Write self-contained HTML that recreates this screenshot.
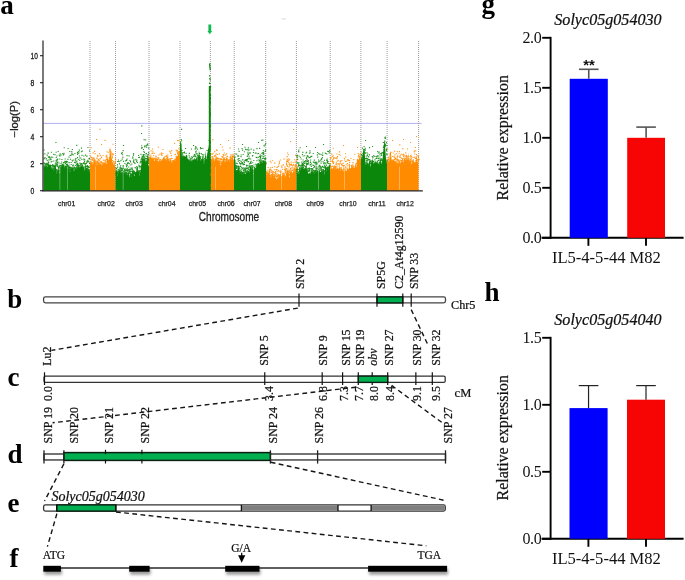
<!DOCTYPE html><html><head><meta charset="utf-8"><title>Figure</title><style>html,body{margin:0;padding:0;background:#fff;width:685px;height:580px;overflow:hidden;font-family:"Liberation Sans",sans-serif}svg{display:block;will-change:transform}.s{stroke:#111;stroke-width:0.22px}</style></head><body><svg width="685" height="580" viewBox="0 0 685 580">
<defs><filter id="sh" x="-20%" y="-50%" width="140%" height="300%"><feGaussianBlur in="SourceAlpha" stdDeviation="1.8"/><feOffset dx="0.8" dy="2.6" result="b"/><feComponentTransfer><feFuncA type="linear" slope="0.4"/></feComponentTransfer><feMerge><feMergeNode/><feMergeNode in="SourceGraphic"/></feMerge></filter></defs>
<rect width="685" height="580" fill="#fff"/>
<g>
<line x1="43" y1="123.4" x2="421.5" y2="123.4" stroke="#9a9af4" stroke-width="0.8"/>
<line x1="90" y1="41" x2="90" y2="190" stroke="#959595" stroke-width="0.95" stroke-dasharray="1,1"/>
<line x1="115.5" y1="41" x2="115.5" y2="190" stroke="#959595" stroke-width="0.95" stroke-dasharray="1,1"/>
<line x1="149" y1="41" x2="149" y2="190" stroke="#959595" stroke-width="0.95" stroke-dasharray="1,1"/>
<line x1="180" y1="41" x2="180" y2="190" stroke="#959595" stroke-width="0.95" stroke-dasharray="1,1"/>
<line x1="210.4" y1="41" x2="210.4" y2="190" stroke="#959595" stroke-width="0.95" stroke-dasharray="1,1"/>
<line x1="234.2" y1="41" x2="234.2" y2="190" stroke="#959595" stroke-width="0.95" stroke-dasharray="1,1"/>
<line x1="265.7" y1="41" x2="265.7" y2="190" stroke="#959595" stroke-width="0.95" stroke-dasharray="1,1"/>
<line x1="296.4" y1="41" x2="296.4" y2="190" stroke="#959595" stroke-width="0.95" stroke-dasharray="1,1"/>
<line x1="330.2" y1="41" x2="330.2" y2="190" stroke="#959595" stroke-width="0.95" stroke-dasharray="1,1"/>
<line x1="360.9" y1="41" x2="360.9" y2="190" stroke="#959595" stroke-width="0.95" stroke-dasharray="1,1"/>
<line x1="387.1" y1="41" x2="387.1" y2="190" stroke="#959595" stroke-width="0.95" stroke-dasharray="1,1"/>
<line x1="418.6" y1="41" x2="418.6" y2="190" stroke="#959595" stroke-width="0.95" stroke-dasharray="1,1"/>
<path d="M43.5,190.7L43.5,168.9L44.0,161.6L44.5,168.1L45.0,161.9L45.5,166.4L46.0,166.5L46.5,165.7L47.0,165.6L47.5,168.0L48.0,159.9L48.5,162.3L49.0,165.6L49.5,165.8L50.0,164.9L50.5,164.1L51.0,167.8L51.5,169.4L52.0,167.7L52.5,169.7L53.0,166.1L53.5,171.3L54.0,170.7L54.5,166.2L55.0,165.4L55.5,162.9L56.0,168.8L56.5,173.7L57.0,172.0L57.5,172.2L58.0,171.4L58.5,168.0L59.0,163.8L59.5,172.6L60.0,173.3L60.5,165.3L61.0,166.5L61.5,167.4L62.0,163.0L62.5,164.8L63.0,164.7L63.5,164.3L64.0,168.7L64.5,167.9L65.0,165.6L65.5,165.8L66.0,165.7L66.5,169.0L67.0,161.7L67.5,168.7L68.0,165.9L68.5,170.3L69.0,160.9L69.5,167.9L70.0,172.5L70.5,170.0L71.0,166.1L71.5,169.6L72.0,166.4L72.5,169.8L73.0,162.3L73.5,171.2L74.0,171.1L74.5,170.9L75.0,169.5L75.5,168.7L76.0,169.3L76.5,169.7L77.0,157.9L77.5,169.7L78.0,163.0L78.5,164.5L79.0,168.1L79.5,168.0L80.0,166.2L80.5,166.5L81.0,168.1L81.5,163.0L82.0,166.7L82.5,166.5L83.0,167.7L83.5,166.2L84.0,166.8L84.5,168.6L85.0,171.5L85.5,163.4L86.0,168.4L86.5,168.3L87.0,167.7L87.5,166.4L88.0,171.5L88.5,169.6L89.0,170.7L89.5,169.6L90.0,173.2L90.0,190.7Z" fill="#0b870b"/>
<path d="M43.4,166.3h1.1v1.1h-1.1zM43.6,149.4h1.1v1.1h-1.1zM43.3,168.5h1.1v1.1h-1.1zM43.7,168.6h1.1v1.1h-1.1zM43.3,158.4h1.1v1.1h-1.1zM43.8,157.6h1.1v1.1h-1.1zM43.4,162.3h1.1v1.1h-1.1zM44.0,168.4h1.1v1.1h-1.1zM44.3,163.1h1.1v1.1h-1.1zM44.3,153.3h1.1v1.1h-1.1zM44.5,157.2h1.1v1.1h-1.1zM44.2,167.8h1.1v1.1h-1.1zM45.1,166.9h1.1v1.1h-1.1zM45.3,167.9h1.1v1.1h-1.1zM45.1,166.2h1.1v1.1h-1.1zM45.3,163.7h1.1v1.1h-1.1zM45.4,165.6h1.1v1.1h-1.1zM45.1,164.7h1.1v1.1h-1.1zM45.9,168.1h1.1v1.1h-1.1zM45.6,166.9h1.1v1.1h-1.1zM45.7,158.1h1.1v1.1h-1.1zM46.0,164.2h1.1v1.1h-1.1zM45.8,163.1h1.1v1.1h-1.1zM45.9,163.6h1.1v1.1h-1.1zM45.7,158.5h1.1v1.1h-1.1zM46.7,159.8h1.1v1.1h-1.1zM46.9,163.4h1.1v1.1h-1.1zM46.7,154.6h1.1v1.1h-1.1zM46.7,162.7h1.1v1.1h-1.1zM46.8,164.0h1.1v1.1h-1.1zM46.7,164.6h1.1v1.1h-1.1zM47.6,152.6h1.1v1.1h-1.1zM47.8,156.6h1.1v1.1h-1.1zM47.5,166.2h1.1v1.1h-1.1zM47.7,152.5h1.1v1.1h-1.1zM47.3,167.0h1.1v1.1h-1.1zM47.2,164.6h1.1v1.1h-1.1zM48.5,159.3h1.1v1.1h-1.1zM48.4,166.9h1.1v1.1h-1.1zM48.1,161.8h1.1v1.1h-1.1zM48.6,155.9h1.1v1.1h-1.1zM48.6,166.4h1.1v1.1h-1.1zM48.3,165.0h1.1v1.1h-1.1zM48.9,157.1h1.1v1.1h-1.1zM49.1,164.5h1.1v1.1h-1.1zM48.9,165.4h1.1v1.1h-1.1zM49.2,165.6h1.1v1.1h-1.1zM49.1,167.9h1.1v1.1h-1.1zM48.8,164.4h1.1v1.1h-1.1zM49.2,165.5h1.1v1.1h-1.1zM50.2,159.2h1.1v1.1h-1.1zM49.8,167.7h1.1v1.1h-1.1zM50.1,168.1h1.1v1.1h-1.1zM49.7,166.5h1.1v1.1h-1.1zM50.1,165.1h1.1v1.1h-1.1zM49.8,158.3h1.1v1.1h-1.1zM50.2,167.4h1.1v1.1h-1.1zM50.5,161.4h1.1v1.1h-1.1zM50.8,168.4h1.1v1.1h-1.1zM50.4,165.4h1.1v1.1h-1.1zM50.8,151.7h1.1v1.1h-1.1zM50.5,158.8h1.1v1.1h-1.1zM50.4,156.9h1.1v1.1h-1.1zM50.7,156.6h1.1v1.1h-1.1zM51.3,167.5h1.1v1.1h-1.1zM51.3,164.9h1.1v1.1h-1.1zM51.3,168.7h1.1v1.1h-1.1zM51.3,169.0h1.1v1.1h-1.1zM51.4,167.1h1.1v1.1h-1.1zM51.4,161.0h1.1v1.1h-1.1zM51.3,165.3h1.1v1.1h-1.1zM52.2,169.8h1.1v1.1h-1.1zM52.4,169.8h1.1v1.1h-1.1zM52.1,164.0h1.1v1.1h-1.1zM52.6,165.2h1.1v1.1h-1.1zM52.5,169.1h1.1v1.1h-1.1zM52.3,165.8h1.1v1.1h-1.1zM52.2,156.7h1.1v1.1h-1.1zM52.4,164.7h1.1v1.1h-1.1zM53.2,160.5h1.1v1.1h-1.1zM53.0,166.3h1.1v1.1h-1.1zM52.9,170.0h1.1v1.1h-1.1zM53.2,169.9h1.1v1.1h-1.1zM52.9,168.1h1.1v1.1h-1.1zM53.3,169.8h1.1v1.1h-1.1zM53.2,153.8h1.1v1.1h-1.1zM52.9,167.8h1.1v1.1h-1.1zM53.1,167.7h1.1v1.1h-1.1zM53.8,166.4h1.1v1.1h-1.1zM53.7,164.8h1.1v1.1h-1.1zM53.8,168.1h1.1v1.1h-1.1zM53.8,171.0h1.1v1.1h-1.1zM53.9,165.9h1.1v1.1h-1.1zM54.5,168.9h1.1v1.1h-1.1zM54.4,167.3h1.1v1.1h-1.1zM54.6,171.2h1.1v1.1h-1.1zM54.8,169.3h1.1v1.1h-1.1zM54.9,165.3h1.1v1.1h-1.1zM54.8,162.7h1.1v1.1h-1.1zM54.6,154.2h1.1v1.1h-1.1zM55.0,168.2h1.1v1.1h-1.1zM55.6,160.1h1.1v1.1h-1.1zM55.7,171.3h1.1v1.1h-1.1zM55.6,151.7h1.1v1.1h-1.1zM55.7,159.8h1.1v1.1h-1.1zM55.5,170.3h1.1v1.1h-1.1zM55.7,165.4h1.1v1.1h-1.1zM55.7,157.0h1.1v1.1h-1.1zM55.7,163.8h1.1v1.1h-1.1zM55.6,161.4h1.1v1.1h-1.1zM55.2,169.3h1.1v1.1h-1.1zM56.3,155.5h1.1v1.1h-1.1zM56.4,162.9h1.1v1.1h-1.1zM56.3,161.5h1.1v1.1h-1.1zM56.5,171.8h1.1v1.1h-1.1zM56.3,159.3h1.1v1.1h-1.1zM56.4,164.9h1.1v1.1h-1.1zM56.4,171.2h1.1v1.1h-1.1zM56.0,169.2h1.1v1.1h-1.1zM56.4,169.0h1.1v1.1h-1.1zM56.4,169.7h1.1v1.1h-1.1zM57.0,165.6h1.1v1.1h-1.1zM57.2,165.8h1.1v1.1h-1.1zM57.2,158.5h1.1v1.1h-1.1zM56.8,162.4h1.1v1.1h-1.1zM57.0,170.3h1.1v1.1h-1.1zM57.0,159.4h1.1v1.1h-1.1zM56.8,164.1h1.1v1.1h-1.1zM57.0,171.2h1.1v1.1h-1.1zM57.2,161.6h1.1v1.1h-1.1zM57.0,161.5h1.1v1.1h-1.1zM58.1,170.6h1.1v1.1h-1.1zM58.2,169.8h1.1v1.1h-1.1zM57.6,151.0h1.1v1.1h-1.1zM58.1,166.9h1.1v1.1h-1.1zM57.8,167.1h1.1v1.1h-1.1zM58.2,169.7h1.1v1.1h-1.1zM57.9,169.7h1.1v1.1h-1.1zM59.0,165.8h1.1v1.1h-1.1zM58.9,170.1h1.1v1.1h-1.1zM58.9,166.0h1.1v1.1h-1.1zM58.5,162.4h1.1v1.1h-1.1zM58.7,154.7h1.1v1.1h-1.1zM58.4,170.9h1.1v1.1h-1.1zM58.7,166.2h1.1v1.1h-1.1zM58.5,168.5h1.1v1.1h-1.1zM59.7,170.6h1.1v1.1h-1.1zM59.3,158.5h1.1v1.1h-1.1zM59.6,153.3h1.1v1.1h-1.1zM59.4,155.3h1.1v1.1h-1.1zM59.4,167.5h1.1v1.1h-1.1zM59.4,164.7h1.1v1.1h-1.1zM59.4,166.9h1.1v1.1h-1.1zM60.5,169.3h1.1v1.1h-1.1zM60.6,167.6h1.1v1.1h-1.1zM60.2,168.0h1.1v1.1h-1.1zM60.1,164.9h1.1v1.1h-1.1zM60.6,166.7h1.1v1.1h-1.1zM60.5,154.5h1.1v1.1h-1.1zM60.5,162.9h1.1v1.1h-1.1zM61.2,169.1h1.1v1.1h-1.1zM61.3,164.8h1.1v1.1h-1.1zM61.0,161.4h1.1v1.1h-1.1zM61.4,169.1h1.1v1.1h-1.1zM61.1,168.4h1.1v1.1h-1.1zM61.0,166.2h1.1v1.1h-1.1zM61.4,159.0h1.1v1.1h-1.1zM61.2,167.1h1.1v1.1h-1.1zM61.1,166.7h1.1v1.1h-1.1zM61.7,167.7h1.1v1.1h-1.1zM62.1,167.3h1.1v1.1h-1.1zM61.7,164.3h1.1v1.1h-1.1zM62.2,153.1h1.1v1.1h-1.1zM61.7,164.9h1.1v1.1h-1.1zM61.7,167.5h1.1v1.1h-1.1zM61.7,166.1h1.1v1.1h-1.1zM62.8,154.5h1.1v1.1h-1.1zM62.6,165.0h1.1v1.1h-1.1zM62.6,163.7h1.1v1.1h-1.1zM62.4,165.8h1.1v1.1h-1.1zM63.0,166.3h1.1v1.1h-1.1zM62.7,167.6h1.1v1.1h-1.1zM62.9,162.1h1.1v1.1h-1.1zM63.3,165.9h1.1v1.1h-1.1zM63.5,164.6h1.1v1.1h-1.1zM63.7,147.2h1.1v1.1h-1.1zM63.2,154.1h1.1v1.1h-1.1zM63.6,167.8h1.1v1.1h-1.1zM63.5,152.7h1.1v1.1h-1.1zM63.2,162.1h1.1v1.1h-1.1zM64.6,158.5h1.1v1.1h-1.1zM64.1,166.4h1.1v1.1h-1.1zM64.3,167.0h1.1v1.1h-1.1zM64.6,162.3h1.1v1.1h-1.1zM64.4,161.7h1.1v1.1h-1.1zM64.3,160.8h1.1v1.1h-1.1zM65.3,167.5h1.1v1.1h-1.1zM65.4,166.0h1.1v1.1h-1.1zM65.0,161.1h1.1v1.1h-1.1zM65.0,166.9h1.1v1.1h-1.1zM65.2,161.2h1.1v1.1h-1.1zM64.8,167.0h1.1v1.1h-1.1zM65.1,163.0h1.1v1.1h-1.1zM65.8,167.8h1.1v1.1h-1.1zM66.2,164.3h1.1v1.1h-1.1zM66.1,161.9h1.1v1.1h-1.1zM65.7,164.1h1.1v1.1h-1.1zM66.2,166.2h1.1v1.1h-1.1zM65.8,160.8h1.1v1.1h-1.1zM66.8,163.8h1.1v1.1h-1.1zM66.6,164.7h1.1v1.1h-1.1zM67.0,161.2h1.1v1.1h-1.1zM66.4,166.5h1.1v1.1h-1.1zM66.7,165.5h1.1v1.1h-1.1zM66.5,160.9h1.1v1.1h-1.1zM67.8,167.0h1.1v1.1h-1.1zM67.7,166.0h1.1v1.1h-1.1zM67.3,166.8h1.1v1.1h-1.1zM67.4,158.8h1.1v1.1h-1.1zM67.5,147.9h1.1v1.1h-1.1zM67.3,167.1h1.1v1.1h-1.1zM67.6,164.9h1.1v1.1h-1.1zM68.2,168.2h1.1v1.1h-1.1zM68.6,167.8h1.1v1.1h-1.1zM68.0,168.2h1.1v1.1h-1.1zM68.2,168.7h1.1v1.1h-1.1zM68.5,156.6h1.1v1.1h-1.1zM68.6,161.9h1.1v1.1h-1.1zM69.2,151.0h1.1v1.1h-1.1zM69.2,169.4h1.1v1.1h-1.1zM69.0,166.4h1.1v1.1h-1.1zM68.9,166.9h1.1v1.1h-1.1zM69.0,169.6h1.1v1.1h-1.1zM69.4,166.7h1.1v1.1h-1.1zM69.4,168.7h1.1v1.1h-1.1zM70.1,167.3h1.1v1.1h-1.1zM69.9,158.7h1.1v1.1h-1.1zM69.9,169.9h1.1v1.1h-1.1zM70.2,167.1h1.1v1.1h-1.1zM69.8,168.8h1.1v1.1h-1.1zM69.6,155.0h1.1v1.1h-1.1zM70.1,166.7h1.1v1.1h-1.1zM71.0,170.3h1.1v1.1h-1.1zM70.8,168.7h1.1v1.1h-1.1zM70.6,154.6h1.1v1.1h-1.1zM71.0,168.5h1.1v1.1h-1.1zM70.6,164.0h1.1v1.1h-1.1zM70.6,161.9h1.1v1.1h-1.1zM70.4,168.5h1.1v1.1h-1.1zM71.6,153.6h1.1v1.1h-1.1zM71.2,150.9h1.1v1.1h-1.1zM71.5,169.4h1.1v1.1h-1.1zM71.8,149.0h1.1v1.1h-1.1zM71.4,167.8h1.1v1.1h-1.1zM71.5,167.3h1.1v1.1h-1.1zM71.3,152.6h1.1v1.1h-1.1zM71.6,159.7h1.1v1.1h-1.1zM72.2,168.4h1.1v1.1h-1.1zM72.5,168.0h1.1v1.1h-1.1zM72.1,170.9h1.1v1.1h-1.1zM72.1,160.4h1.1v1.1h-1.1zM72.0,171.0h1.1v1.1h-1.1zM72.2,165.1h1.1v1.1h-1.1zM72.6,154.3h1.1v1.1h-1.1zM72.1,169.1h1.1v1.1h-1.1zM73.2,167.2h1.1v1.1h-1.1zM72.9,167.9h1.1v1.1h-1.1zM73.2,168.2h1.1v1.1h-1.1zM73.2,164.4h1.1v1.1h-1.1zM73.2,159.4h1.1v1.1h-1.1zM73.3,170.9h1.1v1.1h-1.1zM73.1,169.5h1.1v1.1h-1.1zM73.7,170.1h1.1v1.1h-1.1zM74.1,170.8h1.1v1.1h-1.1zM73.8,166.6h1.1v1.1h-1.1zM74.2,168.7h1.1v1.1h-1.1zM73.7,167.5h1.1v1.1h-1.1zM74.0,161.8h1.1v1.1h-1.1zM74.7,170.8h1.1v1.1h-1.1zM74.9,158.6h1.1v1.1h-1.1zM74.4,152.9h1.1v1.1h-1.1zM74.5,169.0h1.1v1.1h-1.1zM75.0,170.0h1.1v1.1h-1.1zM75.0,165.0h1.1v1.1h-1.1zM74.9,168.1h1.1v1.1h-1.1zM74.6,167.1h1.1v1.1h-1.1zM75.0,160.2h1.1v1.1h-1.1zM75.4,169.3h1.1v1.1h-1.1zM75.3,170.0h1.1v1.1h-1.1zM75.6,168.9h1.1v1.1h-1.1zM75.3,162.5h1.1v1.1h-1.1zM75.4,171.2h1.1v1.1h-1.1zM75.3,161.8h1.1v1.1h-1.1zM75.3,168.2h1.1v1.1h-1.1zM75.5,158.0h1.1v1.1h-1.1zM75.3,170.8h1.1v1.1h-1.1zM76.4,164.1h1.1v1.1h-1.1zM76.1,170.1h1.1v1.1h-1.1zM76.2,160.7h1.1v1.1h-1.1zM76.2,168.0h1.1v1.1h-1.1zM76.2,144.8h1.1v1.1h-1.1zM76.2,163.8h1.1v1.1h-1.1zM76.5,166.3h1.1v1.1h-1.1zM76.1,167.0h1.1v1.1h-1.1zM77.1,152.5h1.1v1.1h-1.1zM77.0,157.1h1.1v1.1h-1.1zM77.1,153.8h1.1v1.1h-1.1zM76.8,169.0h1.1v1.1h-1.1zM77.2,164.2h1.1v1.1h-1.1zM76.9,151.8h1.1v1.1h-1.1zM77.0,162.9h1.1v1.1h-1.1zM76.9,164.9h1.1v1.1h-1.1zM78.2,164.9h1.1v1.1h-1.1zM77.9,169.0h1.1v1.1h-1.1zM78.2,159.0h1.1v1.1h-1.1zM77.7,168.3h1.1v1.1h-1.1zM78.2,150.9h1.1v1.1h-1.1zM77.6,165.4h1.1v1.1h-1.1zM77.8,152.6h1.1v1.1h-1.1zM78.9,167.9h1.1v1.1h-1.1zM78.6,167.3h1.1v1.1h-1.1zM78.9,155.4h1.1v1.1h-1.1zM78.5,167.7h1.1v1.1h-1.1zM78.7,165.4h1.1v1.1h-1.1zM78.5,165.6h1.1v1.1h-1.1zM78.8,167.1h1.1v1.1h-1.1zM78.4,152.4h1.1v1.1h-1.1zM79.2,160.0h1.1v1.1h-1.1zM79.3,157.5h1.1v1.1h-1.1zM79.5,163.1h1.1v1.1h-1.1zM79.4,162.6h1.1v1.1h-1.1zM79.5,165.3h1.1v1.1h-1.1zM79.6,165.3h1.1v1.1h-1.1zM79.5,165.0h1.1v1.1h-1.1zM80.5,166.3h1.1v1.1h-1.1zM80.3,157.4h1.1v1.1h-1.1zM80.3,166.8h1.1v1.1h-1.1zM80.1,167.4h1.1v1.1h-1.1zM80.1,164.2h1.1v1.1h-1.1zM80.3,164.0h1.1v1.1h-1.1zM80.4,167.9h1.1v1.1h-1.1zM80.4,167.6h1.1v1.1h-1.1zM80.8,163.1h1.1v1.1h-1.1zM81.0,163.2h1.1v1.1h-1.1zM80.9,147.6h1.1v1.1h-1.1zM81.4,154.8h1.1v1.1h-1.1zM81.3,159.0h1.1v1.1h-1.1zM81.4,166.5h1.1v1.1h-1.1zM81.4,163.3h1.1v1.1h-1.1zM80.9,151.2h1.1v1.1h-1.1zM82.1,164.8h1.1v1.1h-1.1zM82.1,166.6h1.1v1.1h-1.1zM82.1,165.6h1.1v1.1h-1.1zM81.9,166.7h1.1v1.1h-1.1zM81.7,150.6h1.1v1.1h-1.1zM81.9,165.7h1.1v1.1h-1.1zM81.6,165.1h1.1v1.1h-1.1zM83.0,167.0h1.1v1.1h-1.1zM82.9,162.7h1.1v1.1h-1.1zM82.9,167.0h1.1v1.1h-1.1zM82.7,167.2h1.1v1.1h-1.1zM82.6,163.2h1.1v1.1h-1.1zM83.3,155.4h1.1v1.1h-1.1zM83.4,162.1h1.1v1.1h-1.1zM83.4,158.6h1.1v1.1h-1.1zM83.4,162.9h1.1v1.1h-1.1zM83.5,159.5h1.1v1.1h-1.1zM84.0,161.1h1.1v1.1h-1.1zM84.2,159.3h1.1v1.1h-1.1zM84.6,162.9h1.1v1.1h-1.1zM84.4,163.7h1.1v1.1h-1.1zM84.0,166.4h1.1v1.1h-1.1zM85.1,165.2h1.1v1.1h-1.1zM84.9,154.6h1.1v1.1h-1.1zM85.2,167.2h1.1v1.1h-1.1zM84.8,168.7h1.1v1.1h-1.1zM84.9,166.0h1.1v1.1h-1.1zM84.9,166.0h1.1v1.1h-1.1zM85.2,163.3h1.1v1.1h-1.1zM85.9,162.8h1.1v1.1h-1.1zM86.2,168.4h1.1v1.1h-1.1zM85.7,167.5h1.1v1.1h-1.1zM86.0,168.7h1.1v1.1h-1.1zM86.1,155.7h1.1v1.1h-1.1zM85.8,165.9h1.1v1.1h-1.1zM86.0,169.3h1.1v1.1h-1.1zM87.0,166.3h1.1v1.1h-1.1zM86.5,161.8h1.1v1.1h-1.1zM86.4,155.6h1.1v1.1h-1.1zM86.6,165.3h1.1v1.1h-1.1zM86.4,168.3h1.1v1.1h-1.1zM86.4,160.7h1.1v1.1h-1.1zM87.0,165.0h1.1v1.1h-1.1zM87.6,169.1h1.1v1.1h-1.1zM87.6,166.0h1.1v1.1h-1.1zM87.3,159.8h1.1v1.1h-1.1zM87.4,168.2h1.1v1.1h-1.1zM87.7,170.2h1.1v1.1h-1.1zM87.6,160.8h1.1v1.1h-1.1zM87.7,170.5h1.1v1.1h-1.1zM88.1,166.9h1.1v1.1h-1.1zM88.1,170.3h1.1v1.1h-1.1zM88.2,170.8h1.1v1.1h-1.1zM88.4,161.5h1.1v1.1h-1.1zM88.4,158.2h1.1v1.1h-1.1zM88.3,168.9h1.1v1.1h-1.1zM88.5,167.1h1.1v1.1h-1.1zM88.2,165.9h1.1v1.1h-1.1zM88.9,150.4h1.1v1.1h-1.1zM88.8,158.1h1.1v1.1h-1.1zM88.9,169.5h1.1v1.1h-1.1zM89.4,162.9h1.1v1.1h-1.1zM89.0,162.8h1.1v1.1h-1.1zM89.0,158.1h1.1v1.1h-1.1zM89.3,169.7h1.1v1.1h-1.1zM90.1,167.9h1.1v1.1h-1.1zM90.1,164.5h1.1v1.1h-1.1zM90.0,168.3h1.1v1.1h-1.1zM89.8,166.6h1.1v1.1h-1.1zM90.0,170.3h1.1v1.1h-1.1zM90.1,171.2h1.1v1.1h-1.1zM55.4,142.0h1.1v1.1h-1.1zM78.8,149.6h1.1v1.1h-1.1zM87.4,147.0h1.1v1.1h-1.1z" fill="#0b870b" opacity="0.9"/>
<path d="M90.0,190.7L90.0,163.5L90.5,161.2L91.0,159.0L91.5,161.8L92.0,163.7L92.5,164.4L93.0,165.0L93.5,163.0L94.0,159.9L94.5,156.9L95.0,163.6L95.5,162.5L96.0,167.0L96.5,162.1L97.0,165.4L97.5,163.9L98.0,158.8L98.5,164.9L99.0,161.6L99.5,162.4L100.0,164.8L100.5,162.6L101.0,164.0L101.5,165.9L102.0,162.1L102.5,163.9L103.0,165.0L103.5,163.2L104.0,164.4L104.5,162.3L105.0,164.3L105.5,163.5L106.0,162.4L106.5,164.4L107.0,159.5L107.5,157.4L108.0,156.7L108.5,160.8L109.0,160.5L109.5,156.9L110.0,145.5L110.5,152.4L111.0,154.3L111.5,158.0L112.0,158.5L112.5,162.7L113.0,161.7L113.5,164.3L114.0,165.2L114.5,162.8L115.0,166.5L115.5,167.2L115.5,190.7Z" fill="#ff8c00"/>
<path d="M90.2,162.3h1.1v1.1h-1.1zM89.8,164.2h1.1v1.1h-1.1zM90.1,163.8h1.1v1.1h-1.1zM89.8,155.6h1.1v1.1h-1.1zM89.8,164.8h1.1v1.1h-1.1zM90.0,163.6h1.1v1.1h-1.1zM90.6,158.4h1.1v1.1h-1.1zM90.6,147.2h1.1v1.1h-1.1zM91.1,163.0h1.1v1.1h-1.1zM90.9,156.8h1.1v1.1h-1.1zM90.6,162.5h1.1v1.1h-1.1zM91.4,165.0h1.1v1.1h-1.1zM91.3,162.8h1.1v1.1h-1.1zM91.8,162.7h1.1v1.1h-1.1zM91.6,158.6h1.1v1.1h-1.1zM91.6,159.7h1.1v1.1h-1.1zM91.7,164.8h1.1v1.1h-1.1zM91.7,162.6h1.1v1.1h-1.1zM92.4,157.0h1.1v1.1h-1.1zM92.5,164.1h1.1v1.1h-1.1zM92.6,152.3h1.1v1.1h-1.1zM92.6,158.1h1.1v1.1h-1.1zM92.5,158.5h1.1v1.1h-1.1zM92.3,161.9h1.1v1.1h-1.1zM92.2,159.5h1.1v1.1h-1.1zM93.3,157.7h1.1v1.1h-1.1zM93.1,160.5h1.1v1.1h-1.1zM93.2,162.8h1.1v1.1h-1.1zM93.1,160.6h1.1v1.1h-1.1zM93.5,159.8h1.1v1.1h-1.1zM93.3,164.7h1.1v1.1h-1.1zM94.0,165.5h1.1v1.1h-1.1zM94.2,164.8h1.1v1.1h-1.1zM94.0,150.8h1.1v1.1h-1.1zM94.0,165.2h1.1v1.1h-1.1zM94.1,161.6h1.1v1.1h-1.1zM95.0,161.4h1.1v1.1h-1.1zM94.7,162.6h1.1v1.1h-1.1zM94.6,153.1h1.1v1.1h-1.1zM94.7,160.8h1.1v1.1h-1.1zM94.6,159.6h1.1v1.1h-1.1zM95.5,164.0h1.1v1.1h-1.1zM95.6,165.7h1.1v1.1h-1.1zM95.7,162.8h1.1v1.1h-1.1zM95.5,163.4h1.1v1.1h-1.1zM95.7,164.4h1.1v1.1h-1.1zM96.2,161.9h1.1v1.1h-1.1zM96.3,157.5h1.1v1.1h-1.1zM96.2,164.5h1.1v1.1h-1.1zM96.6,158.1h1.1v1.1h-1.1zM96.4,160.6h1.1v1.1h-1.1zM96.2,161.5h1.1v1.1h-1.1zM97.4,155.8h1.1v1.1h-1.1zM97.1,162.1h1.1v1.1h-1.1zM97.0,161.1h1.1v1.1h-1.1zM97.1,155.3h1.1v1.1h-1.1zM97.1,154.7h1.1v1.1h-1.1zM97.1,163.0h1.1v1.1h-1.1zM97.0,162.5h1.1v1.1h-1.1zM97.9,159.0h1.1v1.1h-1.1zM97.9,164.2h1.1v1.1h-1.1zM98.0,162.3h1.1v1.1h-1.1zM98.1,160.4h1.1v1.1h-1.1zM98.3,163.4h1.1v1.1h-1.1zM99.0,153.2h1.1v1.1h-1.1zM99.0,164.9h1.1v1.1h-1.1zM98.5,160.4h1.1v1.1h-1.1zM99.1,165.7h1.1v1.1h-1.1zM98.7,160.1h1.1v1.1h-1.1zM98.6,165.2h1.1v1.1h-1.1zM99.5,158.4h1.1v1.1h-1.1zM99.8,164.9h1.1v1.1h-1.1zM99.4,158.0h1.1v1.1h-1.1zM99.7,154.8h1.1v1.1h-1.1zM99.7,158.3h1.1v1.1h-1.1zM100.5,164.4h1.1v1.1h-1.1zM100.5,161.1h1.1v1.1h-1.1zM100.6,162.2h1.1v1.1h-1.1zM100.3,160.8h1.1v1.1h-1.1zM100.2,164.1h1.1v1.1h-1.1zM100.1,161.6h1.1v1.1h-1.1zM100.2,161.9h1.1v1.1h-1.1zM101.2,162.5h1.1v1.1h-1.1zM100.9,156.4h1.1v1.1h-1.1zM101.2,157.1h1.1v1.1h-1.1zM101.3,161.8h1.1v1.1h-1.1zM101.1,157.1h1.1v1.1h-1.1zM102.1,162.8h1.1v1.1h-1.1zM102.1,165.6h1.1v1.1h-1.1zM102.3,162.4h1.1v1.1h-1.1zM102.8,162.3h1.1v1.1h-1.1zM102.5,154.9h1.1v1.1h-1.1zM102.9,159.7h1.1v1.1h-1.1zM103.0,163.8h1.1v1.1h-1.1zM103.4,159.6h1.1v1.1h-1.1zM103.6,163.3h1.1v1.1h-1.1zM103.8,162.4h1.1v1.1h-1.1zM103.8,164.3h1.1v1.1h-1.1zM103.6,163.6h1.1v1.1h-1.1zM104.7,162.1h1.1v1.1h-1.1zM104.6,160.2h1.1v1.1h-1.1zM104.3,163.6h1.1v1.1h-1.1zM104.5,163.9h1.1v1.1h-1.1zM104.6,160.5h1.1v1.1h-1.1zM104.9,160.6h1.1v1.1h-1.1zM104.9,163.4h1.1v1.1h-1.1zM105.5,164.4h1.1v1.1h-1.1zM105.3,159.7h1.1v1.1h-1.1zM105.4,155.7h1.1v1.1h-1.1zM105.3,159.6h1.1v1.1h-1.1zM105.3,159.4h1.1v1.1h-1.1zM105.8,158.5h1.1v1.1h-1.1zM106.0,158.8h1.1v1.1h-1.1zM105.8,156.7h1.1v1.1h-1.1zM105.7,164.4h1.1v1.1h-1.1zM106.2,156.3h1.1v1.1h-1.1zM105.9,159.0h1.1v1.1h-1.1zM106.2,154.8h1.1v1.1h-1.1zM106.7,162.4h1.1v1.1h-1.1zM106.9,162.3h1.1v1.1h-1.1zM106.5,151.2h1.1v1.1h-1.1zM106.5,160.9h1.1v1.1h-1.1zM107.0,164.6h1.1v1.1h-1.1zM107.6,152.2h1.1v1.1h-1.1zM107.5,164.0h1.1v1.1h-1.1zM107.9,159.8h1.1v1.1h-1.1zM107.5,161.0h1.1v1.1h-1.1zM108.1,160.7h1.1v1.1h-1.1zM108.5,161.6h1.1v1.1h-1.1zM108.7,160.9h1.1v1.1h-1.1zM108.6,161.1h1.1v1.1h-1.1zM108.1,160.9h1.1v1.1h-1.1zM109.3,156.8h1.1v1.1h-1.1zM108.9,157.1h1.1v1.1h-1.1zM109.3,151.1h1.1v1.1h-1.1zM109.3,149.0h1.1v1.1h-1.1zM109.3,157.7h1.1v1.1h-1.1zM110.3,154.4h1.1v1.1h-1.1zM109.7,151.4h1.1v1.1h-1.1zM110.1,155.3h1.1v1.1h-1.1zM109.7,150.1h1.1v1.1h-1.1zM110.6,152.8h1.1v1.1h-1.1zM110.8,151.4h1.1v1.1h-1.1zM111.7,155.9h1.1v1.1h-1.1zM111.8,157.5h1.1v1.1h-1.1zM111.7,156.4h1.1v1.1h-1.1zM111.6,154.3h1.1v1.1h-1.1zM112.7,154.0h1.1v1.1h-1.1zM112.4,154.1h1.1v1.1h-1.1zM112.1,159.9h1.1v1.1h-1.1zM112.5,143.7h1.1v1.1h-1.1zM112.3,153.0h1.1v1.1h-1.1zM113.1,161.0h1.1v1.1h-1.1zM113.4,162.2h1.1v1.1h-1.1zM113.3,162.5h1.1v1.1h-1.1zM113.4,161.0h1.1v1.1h-1.1zM113.7,164.4h1.1v1.1h-1.1zM114.0,164.4h1.1v1.1h-1.1zM114.2,162.9h1.1v1.1h-1.1zM115.0,159.4h1.1v1.1h-1.1zM114.7,162.4h1.1v1.1h-1.1zM115.0,158.5h1.1v1.1h-1.1zM115.0,161.3h1.1v1.1h-1.1zM99.4,128.8h1.1v1.1h-1.1zM96.0,139.0h1.1v1.1h-1.1zM104.5,139.8h1.1v1.1h-1.1zM101.0,144.0h1.1v1.1h-1.1z" fill="#ff8c00" opacity="0.9"/>
<path d="M115.5,190.7L115.5,173.5L116.0,171.0L116.5,171.5L117.0,172.5L117.5,176.3L118.0,173.0L118.5,173.7L119.0,171.8L119.5,167.9L120.0,171.6L120.5,173.1L121.0,170.3L121.5,173.4L122.0,171.7L122.5,171.3L123.0,174.0L123.5,171.1L124.0,172.7L124.5,172.8L125.0,171.5L125.5,172.2L126.0,175.3L126.5,172.2L127.0,170.8L127.5,174.6L128.0,174.7L128.5,171.5L129.0,174.1L129.5,177.7L130.0,173.2L130.5,171.0L131.0,177.4L131.5,175.1L132.0,173.1L132.5,173.8L133.0,169.9L133.5,169.9L134.0,175.5L134.5,175.9L135.0,173.3L135.5,171.8L136.0,171.9L136.5,171.4L137.0,168.7L137.5,167.0L138.0,172.5L138.5,170.9L139.0,171.9L139.5,176.3L140.0,170.4L140.5,172.9L141.0,167.0L141.5,164.3L142.0,154.7L142.5,159.3L143.0,157.6L143.5,160.9L144.0,154.4L144.5,157.1L145.0,160.9L145.5,164.4L146.0,161.5L146.5,160.2L147.0,159.7L147.5,153.8L148.0,162.3L148.5,166.2L149.0,167.0L149.0,190.7Z" fill="#0b870b"/>
<path d="M115.7,172.0h1.1v1.1h-1.1zM115.8,173.7h1.1v1.1h-1.1zM115.7,174.1h1.1v1.1h-1.1zM115.3,167.4h1.1v1.1h-1.1zM115.4,170.3h1.1v1.1h-1.1zM115.3,172.6h1.1v1.1h-1.1zM115.8,171.6h1.1v1.1h-1.1zM116.5,171.2h1.1v1.1h-1.1zM116.4,173.6h1.1v1.1h-1.1zM116.6,171.2h1.1v1.1h-1.1zM116.5,174.0h1.1v1.1h-1.1zM116.1,170.6h1.1v1.1h-1.1zM116.5,174.1h1.1v1.1h-1.1zM116.1,167.8h1.1v1.1h-1.1zM116.5,169.3h1.1v1.1h-1.1zM116.3,172.0h1.1v1.1h-1.1zM117.3,172.3h1.1v1.1h-1.1zM116.9,164.3h1.1v1.1h-1.1zM116.9,173.1h1.1v1.1h-1.1zM117.1,166.6h1.1v1.1h-1.1zM116.9,171.3h1.1v1.1h-1.1zM117.2,166.5h1.1v1.1h-1.1zM117.1,161.0h1.1v1.1h-1.1zM116.8,172.0h1.1v1.1h-1.1zM118.1,173.1h1.1v1.1h-1.1zM118.1,170.6h1.1v1.1h-1.1zM117.9,159.4h1.1v1.1h-1.1zM118.1,173.4h1.1v1.1h-1.1zM118.1,168.9h1.1v1.1h-1.1zM117.7,171.3h1.1v1.1h-1.1zM117.8,160.9h1.1v1.1h-1.1zM117.8,172.2h1.1v1.1h-1.1zM118.7,173.2h1.1v1.1h-1.1zM118.7,169.8h1.1v1.1h-1.1zM118.8,172.5h1.1v1.1h-1.1zM118.9,163.3h1.1v1.1h-1.1zM118.8,171.0h1.1v1.1h-1.1zM118.9,170.4h1.1v1.1h-1.1zM118.9,172.9h1.1v1.1h-1.1zM119.5,167.8h1.1v1.1h-1.1zM119.8,173.0h1.1v1.1h-1.1zM119.3,171.4h1.1v1.1h-1.1zM119.4,172.4h1.1v1.1h-1.1zM119.2,161.2h1.1v1.1h-1.1zM119.6,172.4h1.1v1.1h-1.1zM119.2,171.6h1.1v1.1h-1.1zM119.5,166.7h1.1v1.1h-1.1zM120.1,165.3h1.1v1.1h-1.1zM120.4,159.9h1.1v1.1h-1.1zM120.1,172.9h1.1v1.1h-1.1zM120.3,168.7h1.1v1.1h-1.1zM120.1,171.0h1.1v1.1h-1.1zM120.1,169.8h1.1v1.1h-1.1zM120.5,167.3h1.1v1.1h-1.1zM121.3,172.0h1.1v1.1h-1.1zM121.0,153.2h1.1v1.1h-1.1zM121.3,169.3h1.1v1.1h-1.1zM121.0,167.9h1.1v1.1h-1.1zM121.3,152.8h1.1v1.1h-1.1zM120.9,170.3h1.1v1.1h-1.1zM121.1,170.3h1.1v1.1h-1.1zM122.1,154.2h1.1v1.1h-1.1zM121.6,158.6h1.1v1.1h-1.1zM122.2,167.7h1.1v1.1h-1.1zM121.7,151.9h1.1v1.1h-1.1zM122.0,169.1h1.1v1.1h-1.1zM121.9,169.9h1.1v1.1h-1.1zM121.9,172.9h1.1v1.1h-1.1zM121.6,167.9h1.1v1.1h-1.1zM122.2,172.3h1.1v1.1h-1.1zM122.9,160.8h1.1v1.1h-1.1zM122.4,156.8h1.1v1.1h-1.1zM122.6,165.7h1.1v1.1h-1.1zM122.6,164.9h1.1v1.1h-1.1zM123.0,167.6h1.1v1.1h-1.1zM122.6,166.1h1.1v1.1h-1.1zM122.7,168.0h1.1v1.1h-1.1zM122.6,150.1h1.1v1.1h-1.1zM122.8,170.9h1.1v1.1h-1.1zM123.8,169.1h1.1v1.1h-1.1zM123.4,170.1h1.1v1.1h-1.1zM123.5,170.6h1.1v1.1h-1.1zM123.3,173.2h1.1v1.1h-1.1zM123.4,173.3h1.1v1.1h-1.1zM123.4,171.2h1.1v1.1h-1.1zM124.4,163.0h1.1v1.1h-1.1zM124.4,169.2h1.1v1.1h-1.1zM124.4,173.1h1.1v1.1h-1.1zM124.3,170.6h1.1v1.1h-1.1zM124.3,168.5h1.1v1.1h-1.1zM124.1,172.2h1.1v1.1h-1.1zM124.3,172.9h1.1v1.1h-1.1zM124.8,168.6h1.1v1.1h-1.1zM125.3,171.8h1.1v1.1h-1.1zM125.1,172.9h1.1v1.1h-1.1zM125.0,170.1h1.1v1.1h-1.1zM125.3,172.4h1.1v1.1h-1.1zM124.8,173.7h1.1v1.1h-1.1zM125.1,160.3h1.1v1.1h-1.1zM125.7,164.4h1.1v1.1h-1.1zM126.2,173.2h1.1v1.1h-1.1zM125.7,164.3h1.1v1.1h-1.1zM125.8,171.9h1.1v1.1h-1.1zM126.0,166.1h1.1v1.1h-1.1zM126.1,159.8h1.1v1.1h-1.1zM126.0,169.3h1.1v1.1h-1.1zM126.1,164.2h1.1v1.1h-1.1zM126.1,170.0h1.1v1.1h-1.1zM126.5,155.1h1.1v1.1h-1.1zM126.4,158.6h1.1v1.1h-1.1zM126.8,163.5h1.1v1.1h-1.1zM127.0,169.8h1.1v1.1h-1.1zM126.7,168.5h1.1v1.1h-1.1zM126.9,162.8h1.1v1.1h-1.1zM126.6,167.8h1.1v1.1h-1.1zM126.7,170.5h1.1v1.1h-1.1zM126.6,164.9h1.1v1.1h-1.1zM127.7,172.9h1.1v1.1h-1.1zM127.5,162.0h1.1v1.1h-1.1zM127.3,171.5h1.1v1.1h-1.1zM127.3,173.1h1.1v1.1h-1.1zM127.5,169.5h1.1v1.1h-1.1zM127.8,175.1h1.1v1.1h-1.1zM127.7,172.9h1.1v1.1h-1.1zM127.8,162.6h1.1v1.1h-1.1zM128.5,171.3h1.1v1.1h-1.1zM128.0,175.8h1.1v1.1h-1.1zM128.3,169.1h1.1v1.1h-1.1zM128.5,155.3h1.1v1.1h-1.1zM128.6,169.6h1.1v1.1h-1.1zM128.3,169.9h1.1v1.1h-1.1zM128.2,166.4h1.1v1.1h-1.1zM128.4,172.2h1.1v1.1h-1.1zM128.6,172.3h1.1v1.1h-1.1zM129.0,172.3h1.1v1.1h-1.1zM129.1,169.7h1.1v1.1h-1.1zM129.4,160.0h1.1v1.1h-1.1zM129.1,170.9h1.1v1.1h-1.1zM129.4,168.5h1.1v1.1h-1.1zM129.1,172.7h1.1v1.1h-1.1zM128.9,163.2h1.1v1.1h-1.1zM129.4,173.0h1.1v1.1h-1.1zM129.7,171.0h1.1v1.1h-1.1zM130.0,161.0h1.1v1.1h-1.1zM130.2,164.5h1.1v1.1h-1.1zM129.9,161.4h1.1v1.1h-1.1zM129.8,174.6h1.1v1.1h-1.1zM129.9,171.0h1.1v1.1h-1.1zM129.7,174.4h1.1v1.1h-1.1zM130.0,169.2h1.1v1.1h-1.1zM130.6,175.3h1.1v1.1h-1.1zM130.6,167.4h1.1v1.1h-1.1zM130.4,169.4h1.1v1.1h-1.1zM130.9,173.6h1.1v1.1h-1.1zM130.8,170.9h1.1v1.1h-1.1zM130.7,174.4h1.1v1.1h-1.1zM131.6,172.7h1.1v1.1h-1.1zM131.8,169.0h1.1v1.1h-1.1zM131.4,168.2h1.1v1.1h-1.1zM131.3,174.1h1.1v1.1h-1.1zM131.3,163.5h1.1v1.1h-1.1zM131.3,174.3h1.1v1.1h-1.1zM131.7,169.2h1.1v1.1h-1.1zM131.7,167.4h1.1v1.1h-1.1zM131.2,174.7h1.1v1.1h-1.1zM132.1,171.4h1.1v1.1h-1.1zM132.1,172.4h1.1v1.1h-1.1zM132.3,156.6h1.1v1.1h-1.1zM132.3,171.5h1.1v1.1h-1.1zM132.0,171.1h1.1v1.1h-1.1zM132.3,157.6h1.1v1.1h-1.1zM132.4,170.3h1.1v1.1h-1.1zM132.0,172.6h1.1v1.1h-1.1zM133.0,161.7h1.1v1.1h-1.1zM133.3,159.3h1.1v1.1h-1.1zM133.2,172.1h1.1v1.1h-1.1zM133.1,153.1h1.1v1.1h-1.1zM132.9,154.6h1.1v1.1h-1.1zM133.2,171.2h1.1v1.1h-1.1zM133.0,172.8h1.1v1.1h-1.1zM133.1,160.6h1.1v1.1h-1.1zM133.7,171.1h1.1v1.1h-1.1zM133.9,171.8h1.1v1.1h-1.1zM133.9,173.3h1.1v1.1h-1.1zM133.8,170.8h1.1v1.1h-1.1zM133.7,173.6h1.1v1.1h-1.1zM133.8,162.2h1.1v1.1h-1.1zM134.6,172.5h1.1v1.1h-1.1zM134.4,172.1h1.1v1.1h-1.1zM134.6,167.1h1.1v1.1h-1.1zM134.8,172.7h1.1v1.1h-1.1zM134.6,173.2h1.1v1.1h-1.1zM134.5,162.8h1.1v1.1h-1.1zM135.4,172.7h1.1v1.1h-1.1zM135.4,167.5h1.1v1.1h-1.1zM135.3,158.7h1.1v1.1h-1.1zM135.5,159.4h1.1v1.1h-1.1zM135.5,172.3h1.1v1.1h-1.1zM136.2,166.0h1.1v1.1h-1.1zM136.4,159.7h1.1v1.1h-1.1zM136.1,170.5h1.1v1.1h-1.1zM136.1,167.7h1.1v1.1h-1.1zM136.1,161.1h1.1v1.1h-1.1zM136.3,169.0h1.1v1.1h-1.1zM137.1,166.8h1.1v1.1h-1.1zM137.0,171.0h1.1v1.1h-1.1zM136.9,172.6h1.1v1.1h-1.1zM137.0,161.9h1.1v1.1h-1.1zM136.9,166.7h1.1v1.1h-1.1zM137.0,168.3h1.1v1.1h-1.1zM137.6,170.5h1.1v1.1h-1.1zM137.7,170.3h1.1v1.1h-1.1zM138.0,172.1h1.1v1.1h-1.1zM137.8,170.7h1.1v1.1h-1.1zM138.1,155.0h1.1v1.1h-1.1zM138.1,156.9h1.1v1.1h-1.1zM137.8,172.1h1.1v1.1h-1.1zM138.0,172.9h1.1v1.1h-1.1zM138.8,166.0h1.1v1.1h-1.1zM138.9,171.4h1.1v1.1h-1.1zM138.8,170.3h1.1v1.1h-1.1zM138.5,171.9h1.1v1.1h-1.1zM138.8,156.8h1.1v1.1h-1.1zM138.4,164.8h1.1v1.1h-1.1zM138.5,173.0h1.1v1.1h-1.1zM139.4,171.3h1.1v1.1h-1.1zM139.4,173.3h1.1v1.1h-1.1zM139.3,167.3h1.1v1.1h-1.1zM139.5,162.4h1.1v1.1h-1.1zM139.4,165.8h1.1v1.1h-1.1zM139.6,170.0h1.1v1.1h-1.1zM140.2,161.6h1.1v1.1h-1.1zM140.5,173.4h1.1v1.1h-1.1zM140.0,166.2h1.1v1.1h-1.1zM140.1,171.5h1.1v1.1h-1.1zM140.1,161.1h1.1v1.1h-1.1zM140.4,153.8h1.1v1.1h-1.1zM140.4,173.0h1.1v1.1h-1.1zM140.4,169.7h1.1v1.1h-1.1zM140.2,159.5h1.1v1.1h-1.1zM141.1,145.2h1.1v1.1h-1.1zM141.2,147.3h1.1v1.1h-1.1zM141.3,158.2h1.1v1.1h-1.1zM141.1,161.1h1.1v1.1h-1.1zM141.2,168.8h1.1v1.1h-1.1zM141.1,164.7h1.1v1.1h-1.1zM140.9,147.6h1.1v1.1h-1.1zM140.8,157.4h1.1v1.1h-1.1zM141.3,159.3h1.1v1.1h-1.1zM141.9,156.5h1.1v1.1h-1.1zM141.6,162.5h1.1v1.1h-1.1zM141.8,161.2h1.1v1.1h-1.1zM141.8,163.0h1.1v1.1h-1.1zM142.0,163.6h1.1v1.1h-1.1zM141.7,155.7h1.1v1.1h-1.1zM141.9,162.5h1.1v1.1h-1.1zM142.2,160.0h1.1v1.1h-1.1zM141.8,161.3h1.1v1.1h-1.1zM141.7,147.1h1.1v1.1h-1.1zM142.9,158.9h1.1v1.1h-1.1zM142.9,155.3h1.1v1.1h-1.1zM142.8,161.0h1.1v1.1h-1.1zM142.7,154.1h1.1v1.1h-1.1zM142.9,149.0h1.1v1.1h-1.1zM142.6,161.6h1.1v1.1h-1.1zM142.5,158.5h1.1v1.1h-1.1zM142.6,162.2h1.1v1.1h-1.1zM142.8,160.7h1.1v1.1h-1.1zM142.5,157.2h1.1v1.1h-1.1zM143.2,161.5h1.1v1.1h-1.1zM143.8,163.0h1.1v1.1h-1.1zM143.3,150.9h1.1v1.1h-1.1zM143.8,152.0h1.1v1.1h-1.1zM143.3,155.8h1.1v1.1h-1.1zM143.5,157.2h1.1v1.1h-1.1zM143.5,161.3h1.1v1.1h-1.1zM143.8,163.0h1.1v1.1h-1.1zM143.6,154.0h1.1v1.1h-1.1zM143.6,139.1h1.1v1.1h-1.1zM144.1,160.7h1.1v1.1h-1.1zM144.5,163.1h1.1v1.1h-1.1zM144.2,145.6h1.1v1.1h-1.1zM144.4,161.4h1.1v1.1h-1.1zM144.6,145.2h1.1v1.1h-1.1zM144.5,161.6h1.1v1.1h-1.1zM144.4,146.2h1.1v1.1h-1.1zM144.1,159.6h1.1v1.1h-1.1zM144.2,146.5h1.1v1.1h-1.1zM144.3,158.9h1.1v1.1h-1.1zM145.1,163.2h1.1v1.1h-1.1zM145.3,155.4h1.1v1.1h-1.1zM145.3,153.4h1.1v1.1h-1.1zM145.1,139.5h1.1v1.1h-1.1zM144.9,157.8h1.1v1.1h-1.1zM145.1,160.6h1.1v1.1h-1.1zM145.2,162.9h1.1v1.1h-1.1zM145.1,162.1h1.1v1.1h-1.1zM145.9,163.3h1.1v1.1h-1.1zM146.0,161.6h1.1v1.1h-1.1zM146.1,163.7h1.1v1.1h-1.1zM146.1,144.8h1.1v1.1h-1.1zM145.8,158.3h1.1v1.1h-1.1zM145.9,153.1h1.1v1.1h-1.1zM145.8,158.4h1.1v1.1h-1.1zM146.0,158.1h1.1v1.1h-1.1zM146.1,146.6h1.1v1.1h-1.1zM145.8,161.9h1.1v1.1h-1.1zM146.5,161.9h1.1v1.1h-1.1zM146.7,160.4h1.1v1.1h-1.1zM146.9,143.6h1.1v1.1h-1.1zM146.9,155.6h1.1v1.1h-1.1zM146.8,163.2h1.1v1.1h-1.1zM146.6,155.8h1.1v1.1h-1.1zM147.6,157.7h1.1v1.1h-1.1zM147.4,160.4h1.1v1.1h-1.1zM147.2,144.3h1.1v1.1h-1.1zM147.6,161.7h1.1v1.1h-1.1zM147.3,158.3h1.1v1.1h-1.1zM147.4,153.9h1.1v1.1h-1.1zM147.4,155.8h1.1v1.1h-1.1zM147.5,156.8h1.1v1.1h-1.1zM147.3,159.1h1.1v1.1h-1.1zM148.5,167.9h1.1v1.1h-1.1zM148.1,165.8h1.1v1.1h-1.1zM148.2,160.1h1.1v1.1h-1.1zM148.3,161.1h1.1v1.1h-1.1zM148.3,166.2h1.1v1.1h-1.1zM148.3,167.9h1.1v1.1h-1.1zM148.0,158.5h1.1v1.1h-1.1zM148.0,163.0h1.1v1.1h-1.1zM148.5,162.3h1.1v1.1h-1.1zM148.4,159.6h1.1v1.1h-1.1zM148.1,152.0h1.1v1.1h-1.1zM148.1,153.7h1.1v1.1h-1.1zM148.2,147.6h1.1v1.1h-1.1zM141.3,125.3h1.1v1.1h-1.1zM141.0,133.0h1.1v1.1h-1.1zM123.0,145.0h1.1v1.1h-1.1z" fill="#0b870b" opacity="0.9"/>
<path d="M149.0,190.7L149.0,157.0L149.5,157.8L150.0,153.4L150.5,158.2L151.0,152.8L151.5,158.7L152.0,157.5L152.5,157.1L153.0,160.6L153.5,156.1L154.0,161.2L154.5,161.3L155.0,157.5L155.5,159.1L156.0,159.5L156.5,161.0L157.0,156.1L157.5,161.2L158.0,162.4L158.5,161.7L159.0,160.5L159.5,159.0L160.0,161.9L160.5,160.3L161.0,158.9L161.5,161.4L162.0,159.6L162.5,161.2L163.0,158.1L163.5,158.2L164.0,157.5L164.5,158.0L165.0,158.7L165.5,160.5L166.0,157.8L166.5,162.0L167.0,152.7L167.5,158.9L168.0,152.8L168.5,161.6L169.0,159.2L169.5,161.1L170.0,161.1L170.5,159.5L171.0,157.9L171.5,162.3L172.0,162.9L172.5,161.8L173.0,159.2L173.5,160.7L174.0,161.0L174.5,158.5L175.0,162.5L175.5,160.7L176.0,157.5L176.5,155.0L177.0,157.3L177.5,155.4L178.0,156.5L178.5,150.7L179.0,153.3L179.5,150.0L180.0,151.5L180.0,190.7Z" fill="#ff8c00"/>
<path d="M149.2,161.6h1.1v1.1h-1.1zM149.0,159.4h1.1v1.1h-1.1zM148.9,158.5h1.1v1.1h-1.1zM148.7,161.0h1.1v1.1h-1.1zM149.9,159.6h1.1v1.1h-1.1zM150.1,157.7h1.1v1.1h-1.1zM150.1,159.4h1.1v1.1h-1.1zM149.5,157.4h1.1v1.1h-1.1zM149.8,160.3h1.1v1.1h-1.1zM150.8,158.2h1.1v1.1h-1.1zM150.6,160.4h1.1v1.1h-1.1zM150.5,150.3h1.1v1.1h-1.1zM150.3,159.4h1.1v1.1h-1.1zM150.5,159.9h1.1v1.1h-1.1zM151.3,159.5h1.1v1.1h-1.1zM151.5,159.6h1.1v1.1h-1.1zM151.5,152.8h1.1v1.1h-1.1zM151.5,159.6h1.1v1.1h-1.1zM152.4,152.6h1.1v1.1h-1.1zM152.0,158.4h1.1v1.1h-1.1zM152.2,159.4h1.1v1.1h-1.1zM152.3,150.7h1.1v1.1h-1.1zM152.0,148.4h1.1v1.1h-1.1zM153.1,155.2h1.1v1.1h-1.1zM153.1,158.4h1.1v1.1h-1.1zM152.7,158.9h1.1v1.1h-1.1zM152.7,158.4h1.1v1.1h-1.1zM153.7,157.9h1.1v1.1h-1.1zM153.5,158.8h1.1v1.1h-1.1zM153.8,152.7h1.1v1.1h-1.1zM154.7,160.9h1.1v1.1h-1.1zM154.5,157.5h1.1v1.1h-1.1zM154.4,160.8h1.1v1.1h-1.1zM154.8,160.7h1.1v1.1h-1.1zM155.5,158.1h1.1v1.1h-1.1zM155.5,157.9h1.1v1.1h-1.1zM155.3,157.4h1.1v1.1h-1.1zM155.3,155.4h1.1v1.1h-1.1zM155.6,155.9h1.1v1.1h-1.1zM156.4,160.2h1.1v1.1h-1.1zM156.1,158.9h1.1v1.1h-1.1zM156.5,158.2h1.1v1.1h-1.1zM155.9,161.4h1.1v1.1h-1.1zM156.3,158.7h1.1v1.1h-1.1zM157.2,161.3h1.1v1.1h-1.1zM156.7,162.1h1.1v1.1h-1.1zM156.7,161.8h1.1v1.1h-1.1zM157.0,159.0h1.1v1.1h-1.1zM157.3,161.6h1.1v1.1h-1.1zM156.8,160.3h1.1v1.1h-1.1zM158.1,157.5h1.1v1.1h-1.1zM157.5,162.2h1.1v1.1h-1.1zM157.6,156.9h1.1v1.1h-1.1zM157.8,146.7h1.1v1.1h-1.1zM158.5,160.8h1.1v1.1h-1.1zM158.4,154.5h1.1v1.1h-1.1zM158.3,158.2h1.1v1.1h-1.1zM158.5,159.2h1.1v1.1h-1.1zM159.4,162.8h1.1v1.1h-1.1zM159.7,161.2h1.1v1.1h-1.1zM159.5,153.5h1.1v1.1h-1.1zM159.3,162.1h1.1v1.1h-1.1zM160.4,161.9h1.1v1.1h-1.1zM160.1,159.1h1.1v1.1h-1.1zM160.2,161.9h1.1v1.1h-1.1zM161.2,153.4h1.1v1.1h-1.1zM161.2,160.9h1.1v1.1h-1.1zM160.9,154.5h1.1v1.1h-1.1zM161.0,160.5h1.1v1.1h-1.1zM160.8,152.4h1.1v1.1h-1.1zM162.0,158.7h1.1v1.1h-1.1zM162.0,161.0h1.1v1.1h-1.1zM162.0,160.2h1.1v1.1h-1.1zM161.6,154.7h1.1v1.1h-1.1zM162.5,148.9h1.1v1.1h-1.1zM162.4,161.2h1.1v1.1h-1.1zM162.3,152.7h1.1v1.1h-1.1zM163.2,160.5h1.1v1.1h-1.1zM163.2,157.4h1.1v1.1h-1.1zM163.7,159.6h1.1v1.1h-1.1zM163.6,157.0h1.1v1.1h-1.1zM164.0,160.4h1.1v1.1h-1.1zM164.3,156.2h1.1v1.1h-1.1zM164.2,160.4h1.1v1.1h-1.1zM165.3,160.3h1.1v1.1h-1.1zM165.2,159.2h1.1v1.1h-1.1zM165.0,160.0h1.1v1.1h-1.1zM165.6,158.2h1.1v1.1h-1.1zM165.6,155.9h1.1v1.1h-1.1zM165.8,155.1h1.1v1.1h-1.1zM165.7,159.9h1.1v1.1h-1.1zM166.9,160.2h1.1v1.1h-1.1zM166.7,156.8h1.1v1.1h-1.1zM167.3,160.5h1.1v1.1h-1.1zM167.1,160.8h1.1v1.1h-1.1zM167.3,159.2h1.1v1.1h-1.1zM168.3,158.8h1.1v1.1h-1.1zM168.2,159.7h1.1v1.1h-1.1zM169.2,150.7h1.1v1.1h-1.1zM168.9,158.5h1.1v1.1h-1.1zM169.0,160.9h1.1v1.1h-1.1zM169.6,160.2h1.1v1.1h-1.1zM169.9,162.5h1.1v1.1h-1.1zM169.7,151.4h1.1v1.1h-1.1zM169.7,158.5h1.1v1.1h-1.1zM170.4,161.9h1.1v1.1h-1.1zM170.8,155.1h1.1v1.1h-1.1zM170.3,152.8h1.1v1.1h-1.1zM170.5,157.9h1.1v1.1h-1.1zM171.1,150.1h1.1v1.1h-1.1zM171.6,158.0h1.1v1.1h-1.1zM171.5,160.4h1.1v1.1h-1.1zM172.3,160.0h1.1v1.1h-1.1zM172.3,161.6h1.1v1.1h-1.1zM172.2,161.5h1.1v1.1h-1.1zM173.0,160.4h1.1v1.1h-1.1zM173.1,162.2h1.1v1.1h-1.1zM173.2,162.0h1.1v1.1h-1.1zM173.8,159.7h1.1v1.1h-1.1zM173.6,161.0h1.1v1.1h-1.1zM174.6,158.5h1.1v1.1h-1.1zM174.4,154.2h1.1v1.1h-1.1zM174.8,161.0h1.1v1.1h-1.1zM174.7,159.1h1.1v1.1h-1.1zM174.8,153.8h1.1v1.1h-1.1zM175.3,161.0h1.1v1.1h-1.1zM175.6,149.6h1.1v1.1h-1.1zM175.2,160.5h1.1v1.1h-1.1zM175.2,159.4h1.1v1.1h-1.1zM175.6,158.4h1.1v1.1h-1.1zM175.4,156.5h1.1v1.1h-1.1zM175.3,160.7h1.1v1.1h-1.1zM176.4,150.7h1.1v1.1h-1.1zM176.3,158.6h1.1v1.1h-1.1zM176.2,157.0h1.1v1.1h-1.1zM176.1,158.0h1.1v1.1h-1.1zM176.1,157.2h1.1v1.1h-1.1zM176.0,159.3h1.1v1.1h-1.1zM176.8,157.4h1.1v1.1h-1.1zM176.9,152.3h1.1v1.1h-1.1zM176.8,156.0h1.1v1.1h-1.1zM176.8,150.1h1.1v1.1h-1.1zM177.2,153.4h1.1v1.1h-1.1zM177.7,151.6h1.1v1.1h-1.1zM177.8,155.9h1.1v1.1h-1.1zM177.9,153.9h1.1v1.1h-1.1zM177.7,154.4h1.1v1.1h-1.1zM178.0,151.2h1.1v1.1h-1.1zM178.6,152.0h1.1v1.1h-1.1zM178.4,140.1h1.1v1.1h-1.1zM178.5,147.7h1.1v1.1h-1.1zM178.5,148.5h1.1v1.1h-1.1zM178.8,154.3h1.1v1.1h-1.1zM179.6,142.6h1.1v1.1h-1.1zM179.5,153.4h1.1v1.1h-1.1zM179.4,150.6h1.1v1.1h-1.1zM179.3,144.9h1.1v1.1h-1.1zM179.6,150.5h1.1v1.1h-1.1zM177.0,140.0h1.1v1.1h-1.1zM174.0,143.0h1.1v1.1h-1.1z" fill="#ff8c00" opacity="0.9"/>
<path d="M180.0,190.7L180.0,144.5L180.5,140.8L181.0,141.7L181.5,144.4L182.0,157.9L182.5,153.3L183.0,153.5L183.5,157.0L184.0,157.2L184.5,155.2L185.0,157.0L185.5,155.5L186.0,157.4L186.5,155.3L187.0,154.4L187.5,159.3L188.0,159.4L188.5,159.8L189.0,158.4L189.5,162.1L190.0,156.6L190.5,158.2L191.0,162.7L191.5,160.1L192.0,159.6L192.5,162.0L193.0,159.3L193.5,159.2L194.0,160.4L194.5,157.5L195.0,158.2L195.5,159.8L196.0,158.8L196.5,158.7L197.0,155.1L197.5,161.6L198.0,156.5L198.5,155.9L199.0,149.7L199.5,155.7L200.0,157.0L200.5,161.2L201.0,159.7L201.5,159.5L202.0,160.4L202.5,157.0L203.0,153.3L203.5,159.0L204.0,164.3L204.5,160.4L205.0,156.5L205.5,150.6L206.0,159.3L206.5,159.5L207.0,155.0L207.5,152.6L208.0,149.2L208.5,148.0L209.0,144.7L209.5,144.9L210.0,145.9L210.0,190.7Z" fill="#0b870b"/>
<path d="M180.0,144.6h1.1v1.1h-1.1zM179.8,145.0h1.1v1.1h-1.1zM181.1,140.3h1.1v1.1h-1.1zM181.1,128.8h1.1v1.1h-1.1zM180.7,139.0h1.1v1.1h-1.1zM181.4,149.8h1.1v1.1h-1.1zM181.8,152.6h1.1v1.1h-1.1zM182.2,156.4h1.1v1.1h-1.1zM182.3,158.3h1.1v1.1h-1.1zM182.6,152.1h1.1v1.1h-1.1zM183.5,156.2h1.1v1.1h-1.1zM183.5,157.7h1.1v1.1h-1.1zM182.9,155.7h1.1v1.1h-1.1zM183.8,156.2h1.1v1.1h-1.1zM183.8,152.5h1.1v1.1h-1.1zM183.9,151.6h1.1v1.1h-1.1zM184.0,158.7h1.1v1.1h-1.1zM184.0,158.5h1.1v1.1h-1.1zM184.8,159.0h1.1v1.1h-1.1zM184.9,158.7h1.1v1.1h-1.1zM184.8,158.6h1.1v1.1h-1.1zM184.7,157.4h1.1v1.1h-1.1zM185.4,159.0h1.1v1.1h-1.1zM185.5,152.8h1.1v1.1h-1.1zM185.8,155.1h1.1v1.1h-1.1zM186.2,155.8h1.1v1.1h-1.1zM186.4,158.5h1.1v1.1h-1.1zM187.0,158.9h1.1v1.1h-1.1zM187.2,158.6h1.1v1.1h-1.1zM187.8,160.3h1.1v1.1h-1.1zM188.2,160.2h1.1v1.1h-1.1zM188.5,154.7h1.1v1.1h-1.1zM188.8,152.8h1.1v1.1h-1.1zM188.8,156.6h1.1v1.1h-1.1zM189.5,161.0h1.1v1.1h-1.1zM189.5,161.4h1.1v1.1h-1.1zM189.5,159.4h1.1v1.1h-1.1zM190.4,161.4h1.1v1.1h-1.1zM190.5,161.0h1.1v1.1h-1.1zM190.5,158.0h1.1v1.1h-1.1zM190.9,148.4h1.1v1.1h-1.1zM191.3,158.5h1.1v1.1h-1.1zM191.1,156.2h1.1v1.1h-1.1zM191.2,156.3h1.1v1.1h-1.1zM192.3,161.5h1.1v1.1h-1.1zM191.9,159.7h1.1v1.1h-1.1zM191.8,161.2h1.1v1.1h-1.1zM192.1,157.1h1.1v1.1h-1.1zM192.6,160.4h1.1v1.1h-1.1zM193.1,159.8h1.1v1.1h-1.1zM192.8,155.7h1.1v1.1h-1.1zM193.8,155.2h1.1v1.1h-1.1zM193.7,155.6h1.1v1.1h-1.1zM193.7,160.0h1.1v1.1h-1.1zM193.8,153.9h1.1v1.1h-1.1zM194.7,159.6h1.1v1.1h-1.1zM194.5,155.6h1.1v1.1h-1.1zM194.6,159.8h1.1v1.1h-1.1zM194.6,148.6h1.1v1.1h-1.1zM194.6,154.6h1.1v1.1h-1.1zM195.2,156.1h1.1v1.1h-1.1zM195.4,152.5h1.1v1.1h-1.1zM195.1,151.2h1.1v1.1h-1.1zM195.2,146.1h1.1v1.1h-1.1zM195.0,147.5h1.1v1.1h-1.1zM195.8,150.4h1.1v1.1h-1.1zM196.0,158.4h1.1v1.1h-1.1zM196.0,158.2h1.1v1.1h-1.1zM196.1,147.5h1.1v1.1h-1.1zM195.9,153.3h1.1v1.1h-1.1zM196.9,153.4h1.1v1.1h-1.1zM197.0,148.7h1.1v1.1h-1.1zM196.6,157.3h1.1v1.1h-1.1zM197.0,155.3h1.1v1.1h-1.1zM197.3,154.9h1.1v1.1h-1.1zM197.3,157.3h1.1v1.1h-1.1zM197.8,158.7h1.1v1.1h-1.1zM198.4,155.7h1.1v1.1h-1.1zM198.2,157.6h1.1v1.1h-1.1zM198.6,157.5h1.1v1.1h-1.1zM198.3,155.6h1.1v1.1h-1.1zM199.3,157.0h1.1v1.1h-1.1zM199.0,153.1h1.1v1.1h-1.1zM198.9,154.9h1.1v1.1h-1.1zM199.0,152.8h1.1v1.1h-1.1zM199.9,148.2h1.1v1.1h-1.1zM200.2,158.5h1.1v1.1h-1.1zM200.2,156.1h1.1v1.1h-1.1zM200.0,157.6h1.1v1.1h-1.1zM201.0,158.9h1.1v1.1h-1.1zM200.8,159.1h1.1v1.1h-1.1zM200.6,159.8h1.1v1.1h-1.1zM200.8,147.9h1.1v1.1h-1.1zM200.7,153.0h1.1v1.1h-1.1zM201.6,159.9h1.1v1.1h-1.1zM201.6,154.0h1.1v1.1h-1.1zM201.9,158.7h1.1v1.1h-1.1zM202.4,156.7h1.1v1.1h-1.1zM202.3,147.9h1.1v1.1h-1.1zM202.5,156.3h1.1v1.1h-1.1zM202.4,158.8h1.1v1.1h-1.1zM203.2,154.3h1.1v1.1h-1.1zM203.5,159.8h1.1v1.1h-1.1zM203.4,160.9h1.1v1.1h-1.1zM204.2,157.9h1.1v1.1h-1.1zM204.1,158.1h1.1v1.1h-1.1zM203.9,161.4h1.1v1.1h-1.1zM205.0,156.1h1.1v1.1h-1.1zM204.9,161.4h1.1v1.1h-1.1zM205.7,158.7h1.1v1.1h-1.1zM205.8,161.0h1.1v1.1h-1.1zM206.4,159.2h1.1v1.1h-1.1zM206.5,150.0h1.1v1.1h-1.1zM206.5,156.6h1.1v1.1h-1.1zM207.1,157.0h1.1v1.1h-1.1zM208.2,151.3h1.1v1.1h-1.1zM207.9,149.4h1.1v1.1h-1.1zM208.0,153.3h1.1v1.1h-1.1zM208.7,149.1h1.1v1.1h-1.1zM208.7,149.5h1.1v1.1h-1.1zM209.1,148.2h1.1v1.1h-1.1zM208.6,139.9h1.1v1.1h-1.1zM209.4,140.9h1.1v1.1h-1.1zM209.6,146.9h1.1v1.1h-1.1zM193.0,145.0h1.1v1.1h-1.1zM200.0,147.0h1.1v1.1h-1.1zM185.0,148.0h1.1v1.1h-1.1z" fill="#0b870b" opacity="0.9"/>
<path d="M210.0,190.7L210.0,159.3L210.5,159.1L211.0,158.3L211.5,159.7L212.0,162.3L212.5,157.9L213.0,159.2L213.5,157.8L214.0,161.2L214.5,159.7L215.0,161.5L215.5,156.1L216.0,160.3L216.5,153.5L217.0,161.5L217.5,161.0L218.0,160.6L218.5,160.3L219.0,162.0L219.5,158.8L220.0,164.5L220.5,165.5L221.0,161.7L221.5,163.7L222.0,162.8L222.5,160.3L223.0,160.2L223.5,158.0L224.0,158.3L224.5,159.1L225.0,163.8L225.5,160.1L226.0,161.6L226.5,158.1L227.0,158.4L227.5,162.2L228.0,158.8L228.5,160.8L229.0,158.9L229.5,162.0L230.0,157.0L230.5,157.1L231.0,159.4L231.5,158.9L232.0,160.1L232.5,152.7L233.0,157.5L233.5,161.4L234.0,158.2L234.0,190.7Z" fill="#ff8c00"/>
<path d="M209.8,156.7h1.1v1.1h-1.1zM209.7,160.1h1.1v1.1h-1.1zM210.0,158.7h1.1v1.1h-1.1zM209.7,153.4h1.1v1.1h-1.1zM209.8,152.9h1.1v1.1h-1.1zM210.8,159.3h1.1v1.1h-1.1zM211.0,160.0h1.1v1.1h-1.1zM211.0,160.0h1.1v1.1h-1.1zM210.8,153.4h1.1v1.1h-1.1zM211.0,161.0h1.1v1.1h-1.1zM211.6,156.9h1.1v1.1h-1.1zM211.7,160.3h1.1v1.1h-1.1zM211.7,153.7h1.1v1.1h-1.1zM211.6,157.9h1.1v1.1h-1.1zM211.4,155.9h1.1v1.1h-1.1zM212.3,139.1h1.1v1.1h-1.1zM212.4,159.8h1.1v1.1h-1.1zM212.4,159.4h1.1v1.1h-1.1zM212.5,152.8h1.1v1.1h-1.1zM212.3,156.4h1.1v1.1h-1.1zM212.3,158.9h1.1v1.1h-1.1zM213.3,159.4h1.1v1.1h-1.1zM213.2,157.8h1.1v1.1h-1.1zM213.3,159.4h1.1v1.1h-1.1zM214.3,155.8h1.1v1.1h-1.1zM214.3,155.2h1.1v1.1h-1.1zM214.1,151.1h1.1v1.1h-1.1zM213.7,155.5h1.1v1.1h-1.1zM215.0,160.1h1.1v1.1h-1.1zM214.9,154.8h1.1v1.1h-1.1zM214.7,158.9h1.1v1.1h-1.1zM214.9,159.4h1.1v1.1h-1.1zM215.5,159.6h1.1v1.1h-1.1zM215.8,149.3h1.1v1.1h-1.1zM215.4,157.5h1.1v1.1h-1.1zM215.4,160.0h1.1v1.1h-1.1zM215.6,153.2h1.1v1.1h-1.1zM216.6,149.8h1.1v1.1h-1.1zM216.6,158.0h1.1v1.1h-1.1zM216.2,160.3h1.1v1.1h-1.1zM216.4,157.1h1.1v1.1h-1.1zM216.3,159.9h1.1v1.1h-1.1zM216.6,160.8h1.1v1.1h-1.1zM217.3,159.1h1.1v1.1h-1.1zM217.4,159.5h1.1v1.1h-1.1zM217.0,154.0h1.1v1.1h-1.1zM217.0,161.4h1.1v1.1h-1.1zM217.1,157.9h1.1v1.1h-1.1zM218.2,157.8h1.1v1.1h-1.1zM217.7,160.5h1.1v1.1h-1.1zM218.9,160.8h1.1v1.1h-1.1zM218.8,153.3h1.1v1.1h-1.1zM218.6,158.2h1.1v1.1h-1.1zM219.0,161.3h1.1v1.1h-1.1zM219.7,162.5h1.1v1.1h-1.1zM219.4,162.4h1.1v1.1h-1.1zM219.7,160.5h1.1v1.1h-1.1zM219.7,158.9h1.1v1.1h-1.1zM220.4,163.0h1.1v1.1h-1.1zM220.5,161.1h1.1v1.1h-1.1zM220.2,158.0h1.1v1.1h-1.1zM220.5,158.9h1.1v1.1h-1.1zM220.2,160.6h1.1v1.1h-1.1zM220.9,159.1h1.1v1.1h-1.1zM221.5,162.0h1.1v1.1h-1.1zM221.1,162.1h1.1v1.1h-1.1zM221.4,156.1h1.1v1.1h-1.1zM221.3,158.6h1.1v1.1h-1.1zM221.0,163.1h1.1v1.1h-1.1zM221.8,162.9h1.1v1.1h-1.1zM221.8,146.4h1.1v1.1h-1.1zM222.3,156.2h1.1v1.1h-1.1zM222.3,156.8h1.1v1.1h-1.1zM221.8,161.3h1.1v1.1h-1.1zM222.2,163.1h1.1v1.1h-1.1zM222.6,156.3h1.1v1.1h-1.1zM222.6,154.0h1.1v1.1h-1.1zM222.6,159.1h1.1v1.1h-1.1zM223.0,154.6h1.1v1.1h-1.1zM222.5,149.5h1.1v1.1h-1.1zM223.7,158.6h1.1v1.1h-1.1zM223.8,157.5h1.1v1.1h-1.1zM223.3,162.2h1.1v1.1h-1.1zM223.5,158.1h1.1v1.1h-1.1zM223.3,159.7h1.1v1.1h-1.1zM223.3,154.8h1.1v1.1h-1.1zM223.8,152.5h1.1v1.1h-1.1zM224.5,161.6h1.1v1.1h-1.1zM224.4,161.2h1.1v1.1h-1.1zM224.7,161.6h1.1v1.1h-1.1zM224.3,158.8h1.1v1.1h-1.1zM224.5,161.7h1.1v1.1h-1.1zM225.1,159.3h1.1v1.1h-1.1zM225.0,154.3h1.1v1.1h-1.1zM225.5,156.9h1.1v1.1h-1.1zM224.9,154.2h1.1v1.1h-1.1zM225.0,161.2h1.1v1.1h-1.1zM226.0,158.2h1.1v1.1h-1.1zM225.9,159.2h1.1v1.1h-1.1zM226.1,158.1h1.1v1.1h-1.1zM226.1,153.3h1.1v1.1h-1.1zM226.5,155.8h1.1v1.1h-1.1zM227.0,156.2h1.1v1.1h-1.1zM227.0,158.4h1.1v1.1h-1.1zM227.1,159.9h1.1v1.1h-1.1zM226.9,158.4h1.1v1.1h-1.1zM227.5,159.6h1.1v1.1h-1.1zM227.4,159.5h1.1v1.1h-1.1zM229.4,156.6h1.1v1.1h-1.1zM229.4,147.6h1.1v1.1h-1.1zM229.0,159.3h1.1v1.1h-1.1zM230.3,154.2h1.1v1.1h-1.1zM230.2,159.1h1.1v1.1h-1.1zM230.2,156.1h1.1v1.1h-1.1zM230.6,158.0h1.1v1.1h-1.1zM230.7,154.7h1.1v1.1h-1.1zM230.7,157.2h1.1v1.1h-1.1zM231.1,158.0h1.1v1.1h-1.1zM231.9,157.7h1.1v1.1h-1.1zM231.8,158.8h1.1v1.1h-1.1zM231.9,156.0h1.1v1.1h-1.1zM231.4,160.6h1.1v1.1h-1.1zM231.8,159.5h1.1v1.1h-1.1zM232.5,159.9h1.1v1.1h-1.1zM232.4,160.5h1.1v1.1h-1.1zM232.5,155.4h1.1v1.1h-1.1zM232.6,154.2h1.1v1.1h-1.1zM233.0,156.0h1.1v1.1h-1.1zM233.5,160.5h1.1v1.1h-1.1zM233.3,156.8h1.1v1.1h-1.1zM233.3,156.6h1.1v1.1h-1.1zM233.1,156.0h1.1v1.1h-1.1zM228.0,140.0h1.1v1.1h-1.1zM220.0,144.0h1.1v1.1h-1.1z" fill="#ff8c00" opacity="0.9"/>
<path d="M234.0,190.7L234.0,159.4L234.5,154.0L235.0,160.0L235.5,163.0L236.0,170.1L236.5,170.6L237.0,170.4L237.5,171.8L238.0,165.2L238.5,165.9L239.0,168.6L239.5,169.6L240.0,174.3L240.5,170.9L241.0,172.3L241.5,173.9L242.0,174.9L242.5,172.7L243.0,172.8L243.5,174.9L244.0,172.8L244.5,173.3L245.0,174.6L245.5,173.9L246.0,174.6L246.5,170.8L247.0,171.6L247.5,173.3L248.0,171.0L248.5,172.0L249.0,170.9L249.5,173.1L250.0,166.8L250.5,165.7L251.0,167.2L251.5,166.0L252.0,171.9L252.5,167.9L253.0,169.4L253.5,174.9L254.0,165.4L254.5,169.4L255.0,170.9L255.5,167.4L256.0,167.9L256.5,166.5L257.0,164.7L257.5,163.8L258.0,163.5L258.5,164.4L259.0,165.1L259.5,163.6L260.0,153.8L260.5,159.0L261.0,163.8L261.5,161.8L262.0,163.1L262.5,163.0L263.0,160.8L263.5,160.6L264.0,159.8L264.5,161.0L265.0,163.2L265.5,161.4L266.0,155.5L266.0,190.7Z" fill="#0b870b"/>
<path d="M234.1,163.9h1.1v1.1h-1.1zM234.3,159.8h1.1v1.1h-1.1zM234.1,162.0h1.1v1.1h-1.1zM234.3,165.1h1.1v1.1h-1.1zM234.0,163.5h1.1v1.1h-1.1zM234.3,160.7h1.1v1.1h-1.1zM234.6,156.6h1.1v1.1h-1.1zM234.6,153.5h1.1v1.1h-1.1zM235.5,165.5h1.1v1.1h-1.1zM235.7,165.3h1.1v1.1h-1.1zM235.5,167.8h1.1v1.1h-1.1zM235.8,166.9h1.1v1.1h-1.1zM235.7,168.0h1.1v1.1h-1.1zM235.6,166.1h1.1v1.1h-1.1zM235.7,162.7h1.1v1.1h-1.1zM235.4,167.0h1.1v1.1h-1.1zM236.2,170.8h1.1v1.1h-1.1zM236.4,165.9h1.1v1.1h-1.1zM236.1,153.6h1.1v1.1h-1.1zM236.2,169.9h1.1v1.1h-1.1zM236.4,164.7h1.1v1.1h-1.1zM236.6,167.7h1.1v1.1h-1.1zM236.6,162.9h1.1v1.1h-1.1zM237.4,172.0h1.1v1.1h-1.1zM236.9,171.6h1.1v1.1h-1.1zM237.1,169.6h1.1v1.1h-1.1zM237.2,155.3h1.1v1.1h-1.1zM237.4,166.2h1.1v1.1h-1.1zM237.3,158.7h1.1v1.1h-1.1zM237.0,166.4h1.1v1.1h-1.1zM237.3,170.1h1.1v1.1h-1.1zM238.2,155.5h1.1v1.1h-1.1zM237.7,170.2h1.1v1.1h-1.1zM238.0,148.5h1.1v1.1h-1.1zM238.1,170.4h1.1v1.1h-1.1zM237.8,169.4h1.1v1.1h-1.1zM238.0,167.7h1.1v1.1h-1.1zM237.7,160.6h1.1v1.1h-1.1zM238.1,158.3h1.1v1.1h-1.1zM238.1,165.8h1.1v1.1h-1.1zM237.7,155.6h1.1v1.1h-1.1zM238.1,165.7h1.1v1.1h-1.1zM238.6,158.0h1.1v1.1h-1.1zM239.1,167.3h1.1v1.1h-1.1zM238.7,170.5h1.1v1.1h-1.1zM238.6,150.8h1.1v1.1h-1.1zM238.7,160.0h1.1v1.1h-1.1zM239.0,162.3h1.1v1.1h-1.1zM238.6,171.4h1.1v1.1h-1.1zM238.7,170.4h1.1v1.1h-1.1zM239.5,171.8h1.1v1.1h-1.1zM239.3,168.5h1.1v1.1h-1.1zM239.9,165.9h1.1v1.1h-1.1zM239.5,166.0h1.1v1.1h-1.1zM239.6,163.1h1.1v1.1h-1.1zM239.6,171.4h1.1v1.1h-1.1zM239.7,172.8h1.1v1.1h-1.1zM239.5,171.5h1.1v1.1h-1.1zM240.5,163.1h1.1v1.1h-1.1zM240.7,161.2h1.1v1.1h-1.1zM240.6,171.2h1.1v1.1h-1.1zM240.3,169.8h1.1v1.1h-1.1zM240.5,156.1h1.1v1.1h-1.1zM240.6,154.4h1.1v1.1h-1.1zM240.2,164.5h1.1v1.1h-1.1zM240.4,173.2h1.1v1.1h-1.1zM240.3,160.4h1.1v1.1h-1.1zM240.1,172.6h1.1v1.1h-1.1zM240.5,171.5h1.1v1.1h-1.1zM241.1,171.4h1.1v1.1h-1.1zM241.5,162.1h1.1v1.1h-1.1zM241.0,173.7h1.1v1.1h-1.1zM241.5,148.0h1.1v1.1h-1.1zM241.1,172.3h1.1v1.1h-1.1zM241.1,166.8h1.1v1.1h-1.1zM241.2,168.7h1.1v1.1h-1.1zM240.9,171.0h1.1v1.1h-1.1zM241.0,173.0h1.1v1.1h-1.1zM241.3,172.9h1.1v1.1h-1.1zM241.9,162.1h1.1v1.1h-1.1zM241.8,168.0h1.1v1.1h-1.1zM242.0,149.6h1.1v1.1h-1.1zM241.8,173.8h1.1v1.1h-1.1zM241.9,163.3h1.1v1.1h-1.1zM241.8,162.5h1.1v1.1h-1.1zM242.2,159.4h1.1v1.1h-1.1zM242.1,173.4h1.1v1.1h-1.1zM242.1,172.3h1.1v1.1h-1.1zM242.2,159.1h1.1v1.1h-1.1zM241.8,171.8h1.1v1.1h-1.1zM242.6,167.3h1.1v1.1h-1.1zM242.8,172.8h1.1v1.1h-1.1zM242.9,173.7h1.1v1.1h-1.1zM242.7,172.2h1.1v1.1h-1.1zM242.8,169.8h1.1v1.1h-1.1zM242.5,163.2h1.1v1.1h-1.1zM242.6,163.2h1.1v1.1h-1.1zM242.9,171.6h1.1v1.1h-1.1zM242.9,164.2h1.1v1.1h-1.1zM242.6,154.0h1.1v1.1h-1.1zM243.4,173.5h1.1v1.1h-1.1zM243.8,161.9h1.1v1.1h-1.1zM243.9,163.8h1.1v1.1h-1.1zM243.5,161.0h1.1v1.1h-1.1zM243.7,171.6h1.1v1.1h-1.1zM243.7,174.5h1.1v1.1h-1.1zM243.3,174.2h1.1v1.1h-1.1zM243.4,168.6h1.1v1.1h-1.1zM243.8,151.2h1.1v1.1h-1.1zM243.4,169.5h1.1v1.1h-1.1zM244.4,167.8h1.1v1.1h-1.1zM244.5,170.4h1.1v1.1h-1.1zM244.6,167.3h1.1v1.1h-1.1zM244.1,174.0h1.1v1.1h-1.1zM244.4,170.0h1.1v1.1h-1.1zM244.5,172.1h1.1v1.1h-1.1zM244.3,172.5h1.1v1.1h-1.1zM244.5,168.4h1.1v1.1h-1.1zM244.3,159.8h1.1v1.1h-1.1zM244.7,169.0h1.1v1.1h-1.1zM244.5,146.7h1.1v1.1h-1.1zM244.9,171.6h1.1v1.1h-1.1zM245.0,148.8h1.1v1.1h-1.1zM245.3,168.3h1.1v1.1h-1.1zM244.9,171.2h1.1v1.1h-1.1zM245.4,159.9h1.1v1.1h-1.1zM245.0,168.9h1.1v1.1h-1.1zM245.0,169.7h1.1v1.1h-1.1zM245.1,174.6h1.1v1.1h-1.1zM245.0,159.2h1.1v1.1h-1.1zM244.9,173.9h1.1v1.1h-1.1zM246.2,166.6h1.1v1.1h-1.1zM245.8,172.9h1.1v1.1h-1.1zM246.0,159.1h1.1v1.1h-1.1zM245.8,170.4h1.1v1.1h-1.1zM246.3,171.9h1.1v1.1h-1.1zM245.9,173.6h1.1v1.1h-1.1zM246.2,160.1h1.1v1.1h-1.1zM246.0,149.2h1.1v1.1h-1.1zM245.9,164.8h1.1v1.1h-1.1zM246.1,168.1h1.1v1.1h-1.1zM245.8,160.4h1.1v1.1h-1.1zM246.7,156.0h1.1v1.1h-1.1zM246.7,171.5h1.1v1.1h-1.1zM247.1,167.6h1.1v1.1h-1.1zM247.0,172.9h1.1v1.1h-1.1zM246.6,170.4h1.1v1.1h-1.1zM246.7,159.5h1.1v1.1h-1.1zM246.8,172.4h1.1v1.1h-1.1zM247.0,155.5h1.1v1.1h-1.1zM246.5,165.2h1.1v1.1h-1.1zM246.9,158.7h1.1v1.1h-1.1zM247.1,149.2h1.1v1.1h-1.1zM247.0,170.3h1.1v1.1h-1.1zM247.5,170.5h1.1v1.1h-1.1zM247.5,168.5h1.1v1.1h-1.1zM247.4,168.4h1.1v1.1h-1.1zM247.8,171.1h1.1v1.1h-1.1zM247.7,167.7h1.1v1.1h-1.1zM247.8,147.3h1.1v1.1h-1.1zM247.9,170.8h1.1v1.1h-1.1zM247.9,154.1h1.1v1.1h-1.1zM247.8,158.2h1.1v1.1h-1.1zM247.5,153.6h1.1v1.1h-1.1zM247.5,161.1h1.1v1.1h-1.1zM247.4,151.7h1.1v1.1h-1.1zM247.5,164.7h1.1v1.1h-1.1zM247.5,153.1h1.1v1.1h-1.1zM248.7,172.0h1.1v1.1h-1.1zM248.5,157.6h1.1v1.1h-1.1zM248.1,161.2h1.1v1.1h-1.1zM248.4,149.5h1.1v1.1h-1.1zM248.3,166.6h1.1v1.1h-1.1zM248.6,155.7h1.1v1.1h-1.1zM248.2,149.6h1.1v1.1h-1.1zM248.2,168.9h1.1v1.1h-1.1zM248.3,172.5h1.1v1.1h-1.1zM248.6,173.5h1.1v1.1h-1.1zM248.1,170.7h1.1v1.1h-1.1zM248.5,173.0h1.1v1.1h-1.1zM248.4,171.2h1.1v1.1h-1.1zM249.5,158.4h1.1v1.1h-1.1zM249.3,169.9h1.1v1.1h-1.1zM249.2,152.6h1.1v1.1h-1.1zM249.3,152.2h1.1v1.1h-1.1zM249.4,169.9h1.1v1.1h-1.1zM249.0,165.5h1.1v1.1h-1.1zM249.4,165.2h1.1v1.1h-1.1zM249.2,166.6h1.1v1.1h-1.1zM249.4,168.4h1.1v1.1h-1.1zM249.0,163.3h1.1v1.1h-1.1zM249.8,162.9h1.1v1.1h-1.1zM249.7,152.3h1.1v1.1h-1.1zM250.0,165.4h1.1v1.1h-1.1zM250.0,162.3h1.1v1.1h-1.1zM250.0,172.1h1.1v1.1h-1.1zM250.2,158.5h1.1v1.1h-1.1zM249.8,169.2h1.1v1.1h-1.1zM250.2,161.5h1.1v1.1h-1.1zM250.2,170.9h1.1v1.1h-1.1zM250.9,168.3h1.1v1.1h-1.1zM250.6,148.6h1.1v1.1h-1.1zM250.7,169.4h1.1v1.1h-1.1zM250.6,160.7h1.1v1.1h-1.1zM250.8,165.5h1.1v1.1h-1.1zM250.6,162.6h1.1v1.1h-1.1zM251.0,165.2h1.1v1.1h-1.1zM251.0,170.8h1.1v1.1h-1.1zM251.9,169.1h1.1v1.1h-1.1zM251.3,170.8h1.1v1.1h-1.1zM251.8,167.3h1.1v1.1h-1.1zM251.9,155.3h1.1v1.1h-1.1zM251.9,167.2h1.1v1.1h-1.1zM251.4,166.4h1.1v1.1h-1.1zM251.8,165.1h1.1v1.1h-1.1zM251.7,168.4h1.1v1.1h-1.1zM251.5,170.3h1.1v1.1h-1.1zM252.4,167.1h1.1v1.1h-1.1zM252.1,171.8h1.1v1.1h-1.1zM252.5,169.4h1.1v1.1h-1.1zM252.2,162.2h1.1v1.1h-1.1zM252.4,170.3h1.1v1.1h-1.1zM252.5,171.1h1.1v1.1h-1.1zM252.2,155.0h1.1v1.1h-1.1zM252.5,165.9h1.1v1.1h-1.1zM253.4,170.1h1.1v1.1h-1.1zM252.9,152.0h1.1v1.1h-1.1zM253.2,149.6h1.1v1.1h-1.1zM252.9,172.0h1.1v1.1h-1.1zM253.3,159.9h1.1v1.1h-1.1zM253.2,171.4h1.1v1.1h-1.1zM253.5,164.5h1.1v1.1h-1.1zM253.4,169.4h1.1v1.1h-1.1zM253.0,170.4h1.1v1.1h-1.1zM254.1,167.9h1.1v1.1h-1.1zM253.8,169.0h1.1v1.1h-1.1zM253.8,169.8h1.1v1.1h-1.1zM253.9,170.0h1.1v1.1h-1.1zM253.8,166.7h1.1v1.1h-1.1zM254.0,167.0h1.1v1.1h-1.1zM254.9,169.1h1.1v1.1h-1.1zM254.6,169.4h1.1v1.1h-1.1zM254.9,169.8h1.1v1.1h-1.1zM254.7,152.4h1.1v1.1h-1.1zM254.8,168.0h1.1v1.1h-1.1zM254.9,168.0h1.1v1.1h-1.1zM255.8,168.1h1.1v1.1h-1.1zM255.3,163.6h1.1v1.1h-1.1zM255.7,156.8h1.1v1.1h-1.1zM255.7,166.3h1.1v1.1h-1.1zM255.5,152.6h1.1v1.1h-1.1zM255.5,165.4h1.1v1.1h-1.1zM255.7,163.9h1.1v1.1h-1.1zM256.6,164.9h1.1v1.1h-1.1zM256.5,157.2h1.1v1.1h-1.1zM256.3,160.2h1.1v1.1h-1.1zM256.4,148.1h1.1v1.1h-1.1zM256.2,164.5h1.1v1.1h-1.1zM256.6,167.2h1.1v1.1h-1.1zM256.1,156.9h1.1v1.1h-1.1zM257.2,163.5h1.1v1.1h-1.1zM257.4,164.5h1.1v1.1h-1.1zM257.2,164.6h1.1v1.1h-1.1zM257.3,153.2h1.1v1.1h-1.1zM257.1,163.5h1.1v1.1h-1.1zM257.9,164.0h1.1v1.1h-1.1zM257.9,163.0h1.1v1.1h-1.1zM258.0,152.9h1.1v1.1h-1.1zM257.9,163.9h1.1v1.1h-1.1zM257.8,156.7h1.1v1.1h-1.1zM257.7,159.5h1.1v1.1h-1.1zM259.0,165.3h1.1v1.1h-1.1zM258.6,164.5h1.1v1.1h-1.1zM258.7,165.3h1.1v1.1h-1.1zM258.9,155.9h1.1v1.1h-1.1zM259.1,147.8h1.1v1.1h-1.1zM259.1,159.8h1.1v1.1h-1.1zM259.1,165.0h1.1v1.1h-1.1zM258.6,161.5h1.1v1.1h-1.1zM259.8,164.9h1.1v1.1h-1.1zM259.7,154.4h1.1v1.1h-1.1zM259.3,165.4h1.1v1.1h-1.1zM259.3,164.6h1.1v1.1h-1.1zM259.7,155.7h1.1v1.1h-1.1zM259.4,164.7h1.1v1.1h-1.1zM259.7,164.1h1.1v1.1h-1.1zM259.9,156.7h1.1v1.1h-1.1zM260.3,161.8h1.1v1.1h-1.1zM260.2,163.6h1.1v1.1h-1.1zM260.2,157.6h1.1v1.1h-1.1zM260.2,164.2h1.1v1.1h-1.1zM261.3,160.4h1.1v1.1h-1.1zM261.2,165.0h1.1v1.1h-1.1zM261.2,155.3h1.1v1.1h-1.1zM261.4,161.4h1.1v1.1h-1.1zM261.1,159.4h1.1v1.1h-1.1zM261.5,162.0h1.1v1.1h-1.1zM261.4,152.8h1.1v1.1h-1.1zM261.8,163.6h1.1v1.1h-1.1zM262.1,160.9h1.1v1.1h-1.1zM262.2,164.8h1.1v1.1h-1.1zM262.0,152.3h1.1v1.1h-1.1zM262.2,164.7h1.1v1.1h-1.1zM262.1,160.5h1.1v1.1h-1.1zM262.1,158.0h1.1v1.1h-1.1zM262.3,160.5h1.1v1.1h-1.1zM262.3,139.6h1.1v1.1h-1.1zM263.0,162.0h1.1v1.1h-1.1zM263.0,152.8h1.1v1.1h-1.1zM263.1,151.7h1.1v1.1h-1.1zM262.7,155.8h1.1v1.1h-1.1zM262.7,153.9h1.1v1.1h-1.1zM262.6,157.4h1.1v1.1h-1.1zM262.8,150.0h1.1v1.1h-1.1zM263.1,162.0h1.1v1.1h-1.1zM263.8,145.5h1.1v1.1h-1.1zM263.8,162.8h1.1v1.1h-1.1zM263.8,158.0h1.1v1.1h-1.1zM263.6,157.8h1.1v1.1h-1.1zM263.4,145.2h1.1v1.1h-1.1zM263.4,153.5h1.1v1.1h-1.1zM263.4,161.6h1.1v1.1h-1.1zM264.5,161.2h1.1v1.1h-1.1zM264.2,155.4h1.1v1.1h-1.1zM264.5,158.2h1.1v1.1h-1.1zM264.5,161.6h1.1v1.1h-1.1zM264.3,161.0h1.1v1.1h-1.1zM264.7,144.1h1.1v1.1h-1.1zM264.4,159.2h1.1v1.1h-1.1zM264.6,150.8h1.1v1.1h-1.1zM265.1,149.6h1.1v1.1h-1.1zM265.2,142.7h1.1v1.1h-1.1zM265.3,162.3h1.1v1.1h-1.1zM265.3,162.1h1.1v1.1h-1.1zM265.5,162.8h1.1v1.1h-1.1zM265.3,157.9h1.1v1.1h-1.1zM265.3,162.2h1.1v1.1h-1.1zM261.0,139.7h1.1v1.1h-1.1zM258.0,142.0h1.1v1.1h-1.1zM242.0,144.0h1.1v1.1h-1.1z" fill="#0b870b" opacity="0.9"/>
<path d="M266.0,190.7L266.0,176.8L266.5,169.4L267.0,172.5L267.5,168.3L268.0,177.9L268.5,174.5L269.0,166.8L269.5,171.6L270.0,176.4L270.5,174.8L271.0,177.8L271.5,174.4L272.0,174.3L272.5,171.3L273.0,174.9L273.5,177.8L274.0,176.3L274.5,175.5L275.0,177.2L275.5,178.8L276.0,174.3L276.5,180.5L277.0,177.5L277.5,178.8L278.0,175.6L278.5,175.4L279.0,178.4L279.5,175.3L280.0,175.0L280.5,173.7L281.0,175.7L281.5,176.7L282.0,178.0L282.5,170.9L283.0,175.0L283.5,174.8L284.0,173.1L284.5,176.3L285.0,176.7L285.5,176.8L286.0,176.5L286.5,173.0L287.0,171.9L287.5,170.1L288.0,167.0L288.5,172.8L289.0,176.4L289.5,178.1L290.0,169.1L290.5,173.9L291.0,169.5L291.5,171.2L292.0,172.0L292.5,174.5L293.0,172.1L293.5,173.0L294.0,170.4L294.5,173.1L295.0,166.4L295.5,169.5L296.0,168.4L296.5,163.7L296.5,190.7Z" fill="#ff8c00"/>
<path d="M266.1,171.4h1.1v1.1h-1.1zM266.1,176.2h1.1v1.1h-1.1zM265.9,172.4h1.1v1.1h-1.1zM265.9,163.5h1.1v1.1h-1.1zM265.8,176.3h1.1v1.1h-1.1zM266.1,176.2h1.1v1.1h-1.1zM266.8,176.1h1.1v1.1h-1.1zM266.8,173.1h1.1v1.1h-1.1zM266.8,174.5h1.1v1.1h-1.1zM266.5,176.8h1.1v1.1h-1.1zM266.6,174.5h1.1v1.1h-1.1zM267.4,175.1h1.1v1.1h-1.1zM267.5,173.2h1.1v1.1h-1.1zM267.8,174.4h1.1v1.1h-1.1zM267.7,175.3h1.1v1.1h-1.1zM267.6,167.0h1.1v1.1h-1.1zM267.9,172.9h1.1v1.1h-1.1zM268.1,175.3h1.1v1.1h-1.1zM268.3,175.9h1.1v1.1h-1.1zM268.5,175.9h1.1v1.1h-1.1zM268.3,173.5h1.1v1.1h-1.1zM268.7,172.7h1.1v1.1h-1.1zM268.2,174.9h1.1v1.1h-1.1zM269.2,169.6h1.1v1.1h-1.1zM268.9,175.2h1.1v1.1h-1.1zM269.4,175.5h1.1v1.1h-1.1zM269.0,170.5h1.1v1.1h-1.1zM268.9,170.9h1.1v1.1h-1.1zM269.1,172.4h1.1v1.1h-1.1zM270.1,167.2h1.1v1.1h-1.1zM269.8,171.4h1.1v1.1h-1.1zM270.0,168.8h1.1v1.1h-1.1zM269.8,169.0h1.1v1.1h-1.1zM269.7,160.8h1.1v1.1h-1.1zM269.9,174.5h1.1v1.1h-1.1zM269.8,174.7h1.1v1.1h-1.1zM270.9,174.4h1.1v1.1h-1.1zM270.7,174.7h1.1v1.1h-1.1zM270.8,169.7h1.1v1.1h-1.1zM270.5,175.2h1.1v1.1h-1.1zM271.1,171.8h1.1v1.1h-1.1zM270.6,162.2h1.1v1.1h-1.1zM271.4,173.9h1.1v1.1h-1.1zM271.6,172.4h1.1v1.1h-1.1zM271.5,170.5h1.1v1.1h-1.1zM271.8,166.8h1.1v1.1h-1.1zM272.5,175.8h1.1v1.1h-1.1zM272.4,171.2h1.1v1.1h-1.1zM272.1,160.2h1.1v1.1h-1.1zM272.6,171.0h1.1v1.1h-1.1zM272.3,175.9h1.1v1.1h-1.1zM273.3,171.9h1.1v1.1h-1.1zM273.3,174.3h1.1v1.1h-1.1zM273.3,174.1h1.1v1.1h-1.1zM273.5,174.9h1.1v1.1h-1.1zM272.9,173.5h1.1v1.1h-1.1zM273.3,176.1h1.1v1.1h-1.1zM274.1,162.7h1.1v1.1h-1.1zM273.9,176.1h1.1v1.1h-1.1zM273.7,169.2h1.1v1.1h-1.1zM273.9,176.6h1.1v1.1h-1.1zM274.3,162.5h1.1v1.1h-1.1zM274.2,174.3h1.1v1.1h-1.1zM274.2,166.2h1.1v1.1h-1.1zM275.1,170.9h1.1v1.1h-1.1zM274.6,172.1h1.1v1.1h-1.1zM274.8,172.7h1.1v1.1h-1.1zM274.7,174.7h1.1v1.1h-1.1zM274.9,172.8h1.1v1.1h-1.1zM274.7,175.7h1.1v1.1h-1.1zM275.4,171.4h1.1v1.1h-1.1zM275.5,173.3h1.1v1.1h-1.1zM275.7,169.2h1.1v1.1h-1.1zM275.6,169.0h1.1v1.1h-1.1zM275.9,175.9h1.1v1.1h-1.1zM275.5,173.5h1.1v1.1h-1.1zM276.5,174.5h1.1v1.1h-1.1zM276.4,166.9h1.1v1.1h-1.1zM276.2,169.4h1.1v1.1h-1.1zM276.3,174.0h1.1v1.1h-1.1zM276.3,175.5h1.1v1.1h-1.1zM276.5,168.9h1.1v1.1h-1.1zM276.2,176.3h1.1v1.1h-1.1zM277.3,170.8h1.1v1.1h-1.1zM276.9,175.8h1.1v1.1h-1.1zM276.9,174.9h1.1v1.1h-1.1zM277.3,172.7h1.1v1.1h-1.1zM277.0,166.4h1.1v1.1h-1.1zM277.0,175.1h1.1v1.1h-1.1zM278.0,170.0h1.1v1.1h-1.1zM277.9,175.4h1.1v1.1h-1.1zM278.1,174.1h1.1v1.1h-1.1zM278.2,164.4h1.1v1.1h-1.1zM278.0,165.9h1.1v1.1h-1.1zM277.9,174.9h1.1v1.1h-1.1zM279.0,160.7h1.1v1.1h-1.1zM279.0,175.5h1.1v1.1h-1.1zM278.8,163.0h1.1v1.1h-1.1zM279.0,176.8h1.1v1.1h-1.1zM278.6,175.0h1.1v1.1h-1.1zM278.8,162.2h1.1v1.1h-1.1zM278.9,174.8h1.1v1.1h-1.1zM279.5,178.1h1.1v1.1h-1.1zM279.3,174.6h1.1v1.1h-1.1zM279.8,174.7h1.1v1.1h-1.1zM279.7,175.2h1.1v1.1h-1.1zM279.4,170.8h1.1v1.1h-1.1zM279.7,178.1h1.1v1.1h-1.1zM279.5,171.1h1.1v1.1h-1.1zM279.8,176.6h1.1v1.1h-1.1zM280.3,171.3h1.1v1.1h-1.1zM280.3,177.9h1.1v1.1h-1.1zM280.5,169.8h1.1v1.1h-1.1zM280.2,172.4h1.1v1.1h-1.1zM280.3,176.2h1.1v1.1h-1.1zM280.3,173.8h1.1v1.1h-1.1zM280.2,159.4h1.1v1.1h-1.1zM280.6,175.9h1.1v1.1h-1.1zM281.1,171.4h1.1v1.1h-1.1zM281.4,177.7h1.1v1.1h-1.1zM281.1,165.6h1.1v1.1h-1.1zM281.2,166.9h1.1v1.1h-1.1zM281.1,177.6h1.1v1.1h-1.1zM281.3,176.1h1.1v1.1h-1.1zM281.4,166.8h1.1v1.1h-1.1zM281.9,177.0h1.1v1.1h-1.1zM282.0,168.7h1.1v1.1h-1.1zM282.0,177.1h1.1v1.1h-1.1zM281.7,176.2h1.1v1.1h-1.1zM281.8,177.1h1.1v1.1h-1.1zM282.0,174.7h1.1v1.1h-1.1zM282.9,175.2h1.1v1.1h-1.1zM283.1,172.8h1.1v1.1h-1.1zM282.8,176.2h1.1v1.1h-1.1zM282.7,173.1h1.1v1.1h-1.1zM282.6,164.7h1.1v1.1h-1.1zM282.7,163.9h1.1v1.1h-1.1zM282.9,174.8h1.1v1.1h-1.1zM283.5,158.7h1.1v1.1h-1.1zM283.7,176.4h1.1v1.1h-1.1zM283.5,172.6h1.1v1.1h-1.1zM283.8,174.8h1.1v1.1h-1.1zM283.6,174.7h1.1v1.1h-1.1zM283.5,158.5h1.1v1.1h-1.1zM284.5,175.8h1.1v1.1h-1.1zM284.4,170.3h1.1v1.1h-1.1zM284.2,173.7h1.1v1.1h-1.1zM284.4,167.5h1.1v1.1h-1.1zM284.3,166.2h1.1v1.1h-1.1zM284.1,168.9h1.1v1.1h-1.1zM285.2,169.1h1.1v1.1h-1.1zM285.0,172.3h1.1v1.1h-1.1zM285.3,175.3h1.1v1.1h-1.1zM285.1,168.7h1.1v1.1h-1.1zM285.0,169.7h1.1v1.1h-1.1zM285.0,170.3h1.1v1.1h-1.1zM285.1,171.8h1.1v1.1h-1.1zM286.0,175.1h1.1v1.1h-1.1zM285.8,168.0h1.1v1.1h-1.1zM286.1,173.1h1.1v1.1h-1.1zM286.1,169.4h1.1v1.1h-1.1zM286.0,163.1h1.1v1.1h-1.1zM286.0,174.1h1.1v1.1h-1.1zM286.0,160.9h1.1v1.1h-1.1zM285.9,164.1h1.1v1.1h-1.1zM286.3,171.1h1.1v1.1h-1.1zM286.1,161.3h1.1v1.1h-1.1zM287.1,152.4h1.1v1.1h-1.1zM286.7,164.8h1.1v1.1h-1.1zM286.6,159.8h1.1v1.1h-1.1zM286.8,160.8h1.1v1.1h-1.1zM287.0,176.0h1.1v1.1h-1.1zM287.0,171.1h1.1v1.1h-1.1zM286.8,166.0h1.1v1.1h-1.1zM286.6,158.8h1.1v1.1h-1.1zM286.7,156.1h1.1v1.1h-1.1zM287.3,172.6h1.1v1.1h-1.1zM287.7,175.5h1.1v1.1h-1.1zM287.4,175.0h1.1v1.1h-1.1zM287.5,173.1h1.1v1.1h-1.1zM287.8,154.2h1.1v1.1h-1.1zM287.9,158.4h1.1v1.1h-1.1zM287.8,171.1h1.1v1.1h-1.1zM287.9,173.3h1.1v1.1h-1.1zM287.7,161.7h1.1v1.1h-1.1zM288.5,169.6h1.1v1.1h-1.1zM288.2,159.9h1.1v1.1h-1.1zM288.4,166.3h1.1v1.1h-1.1zM288.4,163.5h1.1v1.1h-1.1zM288.7,174.4h1.1v1.1h-1.1zM288.5,173.4h1.1v1.1h-1.1zM288.2,161.6h1.1v1.1h-1.1zM288.3,166.4h1.1v1.1h-1.1zM288.2,174.1h1.1v1.1h-1.1zM289.2,172.2h1.1v1.1h-1.1zM288.9,170.2h1.1v1.1h-1.1zM289.3,164.4h1.1v1.1h-1.1zM289.1,158.7h1.1v1.1h-1.1zM289.1,174.0h1.1v1.1h-1.1zM289.3,165.1h1.1v1.1h-1.1zM289.2,171.7h1.1v1.1h-1.1zM289.5,174.6h1.1v1.1h-1.1zM289.2,170.7h1.1v1.1h-1.1zM289.0,163.2h1.1v1.1h-1.1zM289.9,174.7h1.1v1.1h-1.1zM290.0,167.7h1.1v1.1h-1.1zM290.0,171.8h1.1v1.1h-1.1zM290.0,173.6h1.1v1.1h-1.1zM290.2,175.4h1.1v1.1h-1.1zM290.2,173.2h1.1v1.1h-1.1zM290.1,169.3h1.1v1.1h-1.1zM289.8,167.9h1.1v1.1h-1.1zM289.9,163.9h1.1v1.1h-1.1zM290.9,164.6h1.1v1.1h-1.1zM290.8,163.6h1.1v1.1h-1.1zM291.1,167.4h1.1v1.1h-1.1zM290.6,173.6h1.1v1.1h-1.1zM290.8,171.4h1.1v1.1h-1.1zM290.6,173.9h1.1v1.1h-1.1zM290.7,161.4h1.1v1.1h-1.1zM290.6,173.9h1.1v1.1h-1.1zM291.6,169.6h1.1v1.1h-1.1zM291.8,170.0h1.1v1.1h-1.1zM291.9,174.5h1.1v1.1h-1.1zM291.3,173.1h1.1v1.1h-1.1zM291.6,165.1h1.1v1.1h-1.1zM291.4,169.5h1.1v1.1h-1.1zM291.5,164.7h1.1v1.1h-1.1zM292.4,172.5h1.1v1.1h-1.1zM292.3,167.2h1.1v1.1h-1.1zM292.1,169.8h1.1v1.1h-1.1zM292.5,167.3h1.1v1.1h-1.1zM292.4,173.1h1.1v1.1h-1.1zM292.2,165.4h1.1v1.1h-1.1zM292.6,162.0h1.1v1.1h-1.1zM292.2,173.8h1.1v1.1h-1.1zM293.1,168.7h1.1v1.1h-1.1zM293.2,171.1h1.1v1.1h-1.1zM293.4,170.2h1.1v1.1h-1.1zM293.0,164.0h1.1v1.1h-1.1zM292.9,171.9h1.1v1.1h-1.1zM293.0,170.7h1.1v1.1h-1.1zM293.4,164.7h1.1v1.1h-1.1zM294.2,173.0h1.1v1.1h-1.1zM294.3,169.1h1.1v1.1h-1.1zM293.9,169.4h1.1v1.1h-1.1zM294.3,172.7h1.1v1.1h-1.1zM294.0,167.6h1.1v1.1h-1.1zM294.2,168.8h1.1v1.1h-1.1zM294.0,159.2h1.1v1.1h-1.1zM293.9,171.8h1.1v1.1h-1.1zM294.8,165.9h1.1v1.1h-1.1zM294.6,165.6h1.1v1.1h-1.1zM295.0,165.9h1.1v1.1h-1.1zM294.7,172.1h1.1v1.1h-1.1zM295.1,154.8h1.1v1.1h-1.1zM294.9,172.7h1.1v1.1h-1.1zM295.0,164.3h1.1v1.1h-1.1zM294.6,167.4h1.1v1.1h-1.1zM294.9,169.8h1.1v1.1h-1.1zM294.6,161.8h1.1v1.1h-1.1zM295.7,164.2h1.1v1.1h-1.1zM295.6,172.1h1.1v1.1h-1.1zM295.7,169.3h1.1v1.1h-1.1zM295.4,169.2h1.1v1.1h-1.1zM295.5,163.9h1.1v1.1h-1.1zM295.5,160.4h1.1v1.1h-1.1zM295.8,166.3h1.1v1.1h-1.1zM295.7,171.3h1.1v1.1h-1.1zM296.3,159.5h1.1v1.1h-1.1zM296.3,169.8h1.1v1.1h-1.1zM296.3,165.1h1.1v1.1h-1.1zM296.4,170.4h1.1v1.1h-1.1zM296.7,168.3h1.1v1.1h-1.1zM296.4,167.1h1.1v1.1h-1.1zM296.7,169.2h1.1v1.1h-1.1zM296.5,168.0h1.1v1.1h-1.1zM296.3,154.8h1.1v1.1h-1.1zM296.3,158.4h1.1v1.1h-1.1zM293.0,129.0h1.1v1.1h-1.1zM290.0,141.0h1.1v1.1h-1.1z" fill="#ff8c00" opacity="0.9"/>
<path d="M296.5,190.7L296.5,167.2L297.0,175.0L297.5,170.2L298.0,171.1L298.5,172.4L299.0,174.5L299.5,168.8L300.0,167.1L300.5,171.1L301.0,171.0L301.5,160.3L302.0,169.0L302.5,164.5L303.0,165.3L303.5,168.8L304.0,169.7L304.5,170.1L305.0,168.5L305.5,168.3L306.0,164.0L306.5,159.9L307.0,173.3L307.5,167.2L308.0,172.5L308.5,174.1L309.0,173.3L309.5,172.3L310.0,173.8L310.5,173.5L311.0,170.2L311.5,171.4L312.0,171.6L312.5,171.9L313.0,174.6L313.5,172.1L314.0,169.7L314.5,173.8L315.0,173.5L315.5,170.1L316.0,170.7L316.5,173.1L317.0,169.9L317.5,171.1L318.0,173.4L318.5,173.2L319.0,164.8L319.5,170.5L320.0,172.0L320.5,172.0L321.0,172.8L321.5,170.0L322.0,171.1L322.5,173.3L323.0,171.7L323.5,170.5L324.0,169.0L324.5,175.0L325.0,169.0L325.5,166.0L326.0,166.7L326.5,171.4L327.0,169.5L327.5,167.6L328.0,165.8L328.5,170.3L329.0,166.0L329.5,165.3L330.0,166.3L330.0,190.7Z" fill="#0b870b"/>
<path d="M296.4,155.8h1.1v1.1h-1.1zM296.4,155.8h1.1v1.1h-1.1zM296.4,170.3h1.1v1.1h-1.1zM296.5,173.0h1.1v1.1h-1.1zM296.2,168.8h1.1v1.1h-1.1zM296.4,155.0h1.1v1.1h-1.1zM296.8,173.1h1.1v1.1h-1.1zM296.4,170.8h1.1v1.1h-1.1zM296.3,172.9h1.1v1.1h-1.1zM296.5,161.8h1.1v1.1h-1.1zM297.6,169.0h1.1v1.1h-1.1zM297.1,154.8h1.1v1.1h-1.1zM297.0,157.2h1.1v1.1h-1.1zM297.5,162.5h1.1v1.1h-1.1zM297.3,163.0h1.1v1.1h-1.1zM297.1,158.9h1.1v1.1h-1.1zM297.2,166.4h1.1v1.1h-1.1zM297.1,168.6h1.1v1.1h-1.1zM298.3,165.4h1.1v1.1h-1.1zM298.2,164.3h1.1v1.1h-1.1zM298.3,151.3h1.1v1.1h-1.1zM298.0,165.5h1.1v1.1h-1.1zM298.0,150.7h1.1v1.1h-1.1zM298.0,171.6h1.1v1.1h-1.1zM298.4,162.3h1.1v1.1h-1.1zM298.2,163.9h1.1v1.1h-1.1zM298.3,149.5h1.1v1.1h-1.1zM298.7,169.4h1.1v1.1h-1.1zM299.1,165.0h1.1v1.1h-1.1zM299.0,170.1h1.1v1.1h-1.1zM298.7,155.7h1.1v1.1h-1.1zM298.9,171.1h1.1v1.1h-1.1zM299.2,169.2h1.1v1.1h-1.1zM299.1,167.8h1.1v1.1h-1.1zM300.0,170.4h1.1v1.1h-1.1zM299.4,170.4h1.1v1.1h-1.1zM299.4,167.1h1.1v1.1h-1.1zM299.6,166.7h1.1v1.1h-1.1zM299.6,147.2h1.1v1.1h-1.1zM299.9,156.7h1.1v1.1h-1.1zM299.5,164.8h1.1v1.1h-1.1zM299.7,169.0h1.1v1.1h-1.1zM299.8,167.9h1.1v1.1h-1.1zM300.4,170.1h1.1v1.1h-1.1zM300.3,171.6h1.1v1.1h-1.1zM300.5,171.3h1.1v1.1h-1.1zM300.6,158.5h1.1v1.1h-1.1zM300.6,158.5h1.1v1.1h-1.1zM300.2,165.4h1.1v1.1h-1.1zM301.4,169.3h1.1v1.1h-1.1zM301.3,171.1h1.1v1.1h-1.1zM301.3,168.0h1.1v1.1h-1.1zM301.1,167.7h1.1v1.1h-1.1zM301.5,161.6h1.1v1.1h-1.1zM301.1,164.7h1.1v1.1h-1.1zM301.5,164.7h1.1v1.1h-1.1zM302.0,163.0h1.1v1.1h-1.1zM302.3,151.8h1.1v1.1h-1.1zM301.9,153.9h1.1v1.1h-1.1zM302.0,164.8h1.1v1.1h-1.1zM302.3,168.8h1.1v1.1h-1.1zM302.0,164.0h1.1v1.1h-1.1zM302.4,165.4h1.1v1.1h-1.1zM302.3,165.0h1.1v1.1h-1.1zM302.4,165.0h1.1v1.1h-1.1zM302.9,166.8h1.1v1.1h-1.1zM303.2,161.6h1.1v1.1h-1.1zM302.9,164.0h1.1v1.1h-1.1zM302.9,163.8h1.1v1.1h-1.1zM303.2,162.1h1.1v1.1h-1.1zM302.8,171.4h1.1v1.1h-1.1zM302.6,155.5h1.1v1.1h-1.1zM302.6,159.5h1.1v1.1h-1.1zM303.5,168.3h1.1v1.1h-1.1zM303.7,163.1h1.1v1.1h-1.1zM303.6,165.1h1.1v1.1h-1.1zM304.0,165.4h1.1v1.1h-1.1zM304.0,161.1h1.1v1.1h-1.1zM303.7,169.6h1.1v1.1h-1.1zM303.6,168.2h1.1v1.1h-1.1zM304.5,170.6h1.1v1.1h-1.1zM304.8,162.4h1.1v1.1h-1.1zM304.4,171.7h1.1v1.1h-1.1zM304.8,167.5h1.1v1.1h-1.1zM304.7,170.7h1.1v1.1h-1.1zM304.5,168.6h1.1v1.1h-1.1zM304.2,155.2h1.1v1.1h-1.1zM305.4,169.5h1.1v1.1h-1.1zM305.1,166.0h1.1v1.1h-1.1zM305.3,160.7h1.1v1.1h-1.1zM305.5,170.9h1.1v1.1h-1.1zM305.1,160.0h1.1v1.1h-1.1zM305.5,152.5h1.1v1.1h-1.1zM305.0,170.2h1.1v1.1h-1.1zM305.9,158.1h1.1v1.1h-1.1zM306.3,160.5h1.1v1.1h-1.1zM306.3,164.2h1.1v1.1h-1.1zM306.3,169.1h1.1v1.1h-1.1zM306.0,151.7h1.1v1.1h-1.1zM306.2,163.0h1.1v1.1h-1.1zM306.1,157.0h1.1v1.1h-1.1zM306.0,169.7h1.1v1.1h-1.1zM306.7,155.1h1.1v1.1h-1.1zM307.0,163.1h1.1v1.1h-1.1zM307.1,171.6h1.1v1.1h-1.1zM306.8,161.0h1.1v1.1h-1.1zM306.8,171.8h1.1v1.1h-1.1zM306.9,160.9h1.1v1.1h-1.1zM306.7,159.2h1.1v1.1h-1.1zM306.8,171.7h1.1v1.1h-1.1zM306.7,155.7h1.1v1.1h-1.1zM307.5,161.4h1.1v1.1h-1.1zM307.5,163.8h1.1v1.1h-1.1zM307.8,170.6h1.1v1.1h-1.1zM307.6,155.8h1.1v1.1h-1.1zM307.4,168.0h1.1v1.1h-1.1zM307.5,169.5h1.1v1.1h-1.1zM307.8,160.1h1.1v1.1h-1.1zM307.7,160.3h1.1v1.1h-1.1zM307.5,163.0h1.1v1.1h-1.1zM308.3,162.4h1.1v1.1h-1.1zM308.4,170.1h1.1v1.1h-1.1zM308.6,157.1h1.1v1.1h-1.1zM308.4,168.0h1.1v1.1h-1.1zM308.8,152.7h1.1v1.1h-1.1zM308.5,168.4h1.1v1.1h-1.1zM308.4,157.2h1.1v1.1h-1.1zM308.3,170.9h1.1v1.1h-1.1zM308.7,167.6h1.1v1.1h-1.1zM309.6,168.5h1.1v1.1h-1.1zM309.2,167.7h1.1v1.1h-1.1zM309.5,157.0h1.1v1.1h-1.1zM309.1,169.3h1.1v1.1h-1.1zM309.4,164.4h1.1v1.1h-1.1zM309.4,150.3h1.1v1.1h-1.1zM309.3,170.3h1.1v1.1h-1.1zM309.3,170.5h1.1v1.1h-1.1zM309.5,167.9h1.1v1.1h-1.1zM309.6,152.2h1.1v1.1h-1.1zM310.2,156.1h1.1v1.1h-1.1zM310.0,159.5h1.1v1.1h-1.1zM310.3,173.8h1.1v1.1h-1.1zM310.0,161.9h1.1v1.1h-1.1zM309.9,161.5h1.1v1.1h-1.1zM310.1,164.1h1.1v1.1h-1.1zM311.1,172.4h1.1v1.1h-1.1zM310.7,163.3h1.1v1.1h-1.1zM310.8,172.1h1.1v1.1h-1.1zM310.9,169.7h1.1v1.1h-1.1zM311.2,155.8h1.1v1.1h-1.1zM310.8,165.8h1.1v1.1h-1.1zM310.6,173.3h1.1v1.1h-1.1zM310.9,168.1h1.1v1.1h-1.1zM311.7,171.6h1.1v1.1h-1.1zM312.0,173.2h1.1v1.1h-1.1zM311.7,168.6h1.1v1.1h-1.1zM311.6,170.8h1.1v1.1h-1.1zM311.7,172.0h1.1v1.1h-1.1zM312.0,170.6h1.1v1.1h-1.1zM311.5,169.0h1.1v1.1h-1.1zM312.4,173.1h1.1v1.1h-1.1zM312.7,161.5h1.1v1.1h-1.1zM312.7,172.3h1.1v1.1h-1.1zM312.5,169.6h1.1v1.1h-1.1zM312.2,168.1h1.1v1.1h-1.1zM312.6,174.0h1.1v1.1h-1.1zM312.4,164.6h1.1v1.1h-1.1zM312.7,153.0h1.1v1.1h-1.1zM312.2,171.5h1.1v1.1h-1.1zM313.3,174.4h1.1v1.1h-1.1zM313.4,174.5h1.1v1.1h-1.1zM313.2,167.0h1.1v1.1h-1.1zM313.1,170.1h1.1v1.1h-1.1zM313.1,173.1h1.1v1.1h-1.1zM313.3,161.4h1.1v1.1h-1.1zM313.2,164.9h1.1v1.1h-1.1zM313.4,161.8h1.1v1.1h-1.1zM314.1,170.7h1.1v1.1h-1.1zM314.4,173.0h1.1v1.1h-1.1zM314.1,165.7h1.1v1.1h-1.1zM313.9,166.5h1.1v1.1h-1.1zM313.9,171.4h1.1v1.1h-1.1zM313.8,159.6h1.1v1.1h-1.1zM314.3,170.0h1.1v1.1h-1.1zM314.2,162.3h1.1v1.1h-1.1zM313.9,171.8h1.1v1.1h-1.1zM315.1,171.1h1.1v1.1h-1.1zM315.1,167.5h1.1v1.1h-1.1zM315.2,170.7h1.1v1.1h-1.1zM315.1,174.6h1.1v1.1h-1.1zM314.9,174.5h1.1v1.1h-1.1zM315.1,170.5h1.1v1.1h-1.1zM314.7,171.5h1.1v1.1h-1.1zM314.9,161.7h1.1v1.1h-1.1zM314.9,162.7h1.1v1.1h-1.1zM315.5,162.5h1.1v1.1h-1.1zM315.4,169.4h1.1v1.1h-1.1zM315.8,172.1h1.1v1.1h-1.1zM315.8,162.7h1.1v1.1h-1.1zM315.8,169.8h1.1v1.1h-1.1zM315.5,165.5h1.1v1.1h-1.1zM315.8,168.3h1.1v1.1h-1.1zM315.5,163.9h1.1v1.1h-1.1zM315.6,171.6h1.1v1.1h-1.1zM316.3,166.4h1.1v1.1h-1.1zM316.3,162.2h1.1v1.1h-1.1zM316.3,161.5h1.1v1.1h-1.1zM316.4,173.5h1.1v1.1h-1.1zM316.4,167.7h1.1v1.1h-1.1zM316.8,154.3h1.1v1.1h-1.1zM316.6,171.3h1.1v1.1h-1.1zM316.5,163.3h1.1v1.1h-1.1zM316.8,171.7h1.1v1.1h-1.1zM317.2,170.3h1.1v1.1h-1.1zM317.3,172.0h1.1v1.1h-1.1zM317.0,152.0h1.1v1.1h-1.1zM317.2,156.6h1.1v1.1h-1.1zM317.5,174.1h1.1v1.1h-1.1zM317.1,171.1h1.1v1.1h-1.1zM317.2,173.0h1.1v1.1h-1.1zM317.1,172.9h1.1v1.1h-1.1zM317.3,171.4h1.1v1.1h-1.1zM317.2,168.4h1.1v1.1h-1.1zM318.4,170.5h1.1v1.1h-1.1zM318.1,161.4h1.1v1.1h-1.1zM318.0,168.7h1.1v1.1h-1.1zM318.3,172.7h1.1v1.1h-1.1zM317.9,166.4h1.1v1.1h-1.1zM318.3,153.1h1.1v1.1h-1.1zM318.2,173.6h1.1v1.1h-1.1zM318.1,171.7h1.1v1.1h-1.1zM318.0,159.5h1.1v1.1h-1.1zM318.7,164.7h1.1v1.1h-1.1zM318.9,165.6h1.1v1.1h-1.1zM319.0,171.9h1.1v1.1h-1.1zM318.8,173.2h1.1v1.1h-1.1zM318.7,172.6h1.1v1.1h-1.1zM318.7,167.5h1.1v1.1h-1.1zM318.7,160.7h1.1v1.1h-1.1zM319.1,165.7h1.1v1.1h-1.1zM320.0,167.7h1.1v1.1h-1.1zM319.6,169.6h1.1v1.1h-1.1zM320.0,169.5h1.1v1.1h-1.1zM319.5,153.8h1.1v1.1h-1.1zM320.0,166.3h1.1v1.1h-1.1zM319.9,172.1h1.1v1.1h-1.1zM319.8,160.2h1.1v1.1h-1.1zM319.5,165.2h1.1v1.1h-1.1zM320.6,159.0h1.1v1.1h-1.1zM320.6,169.4h1.1v1.1h-1.1zM320.7,168.1h1.1v1.1h-1.1zM320.8,172.5h1.1v1.1h-1.1zM320.7,168.5h1.1v1.1h-1.1zM320.7,167.1h1.1v1.1h-1.1zM320.5,169.6h1.1v1.1h-1.1zM320.5,172.7h1.1v1.1h-1.1zM320.7,172.1h1.1v1.1h-1.1zM320.5,162.6h1.1v1.1h-1.1zM321.4,171.6h1.1v1.1h-1.1zM321.4,158.4h1.1v1.1h-1.1zM321.6,172.4h1.1v1.1h-1.1zM321.4,166.3h1.1v1.1h-1.1zM321.2,154.2h1.1v1.1h-1.1zM321.6,172.2h1.1v1.1h-1.1zM321.0,169.1h1.1v1.1h-1.1zM321.6,171.0h1.1v1.1h-1.1zM321.1,157.9h1.1v1.1h-1.1zM321.5,170.8h1.1v1.1h-1.1zM321.3,160.7h1.1v1.1h-1.1zM321.2,171.0h1.1v1.1h-1.1zM322.1,172.2h1.1v1.1h-1.1zM322.4,171.7h1.1v1.1h-1.1zM322.4,171.2h1.1v1.1h-1.1zM322.2,154.8h1.1v1.1h-1.1zM322.2,171.8h1.1v1.1h-1.1zM322.1,165.8h1.1v1.1h-1.1zM322.1,170.8h1.1v1.1h-1.1zM321.9,156.9h1.1v1.1h-1.1zM322.1,152.4h1.1v1.1h-1.1zM321.9,169.3h1.1v1.1h-1.1zM322.2,166.4h1.1v1.1h-1.1zM323.2,166.7h1.1v1.1h-1.1zM322.6,170.2h1.1v1.1h-1.1zM322.8,169.1h1.1v1.1h-1.1zM322.9,171.0h1.1v1.1h-1.1zM323.2,171.7h1.1v1.1h-1.1zM323.1,167.1h1.1v1.1h-1.1zM323.0,163.2h1.1v1.1h-1.1zM322.8,161.5h1.1v1.1h-1.1zM323.7,170.0h1.1v1.1h-1.1zM323.9,165.4h1.1v1.1h-1.1zM323.6,170.3h1.1v1.1h-1.1zM323.9,159.7h1.1v1.1h-1.1zM323.5,170.7h1.1v1.1h-1.1zM323.8,170.8h1.1v1.1h-1.1zM323.8,162.3h1.1v1.1h-1.1zM324.6,152.5h1.1v1.1h-1.1zM324.6,163.2h1.1v1.1h-1.1zM324.7,166.0h1.1v1.1h-1.1zM324.3,164.7h1.1v1.1h-1.1zM324.5,166.9h1.1v1.1h-1.1zM324.5,166.8h1.1v1.1h-1.1zM324.4,167.6h1.1v1.1h-1.1zM324.4,166.9h1.1v1.1h-1.1zM325.0,169.7h1.1v1.1h-1.1zM325.2,162.4h1.1v1.1h-1.1zM325.4,166.6h1.1v1.1h-1.1zM325.1,167.5h1.1v1.1h-1.1zM325.5,170.2h1.1v1.1h-1.1zM325.2,152.9h1.1v1.1h-1.1zM325.2,166.4h1.1v1.1h-1.1zM326.0,167.6h1.1v1.1h-1.1zM326.3,160.0h1.1v1.1h-1.1zM326.0,164.6h1.1v1.1h-1.1zM326.3,167.7h1.1v1.1h-1.1zM326.3,153.4h1.1v1.1h-1.1zM326.2,168.8h1.1v1.1h-1.1zM326.1,159.5h1.1v1.1h-1.1zM325.8,168.6h1.1v1.1h-1.1zM327.1,168.8h1.1v1.1h-1.1zM326.9,160.3h1.1v1.1h-1.1zM327.2,150.8h1.1v1.1h-1.1zM326.7,161.4h1.1v1.1h-1.1zM326.9,162.0h1.1v1.1h-1.1zM327.2,167.0h1.1v1.1h-1.1zM326.7,158.5h1.1v1.1h-1.1zM326.8,167.3h1.1v1.1h-1.1zM326.8,162.3h1.1v1.1h-1.1zM327.6,161.1h1.1v1.1h-1.1zM328.0,150.9h1.1v1.1h-1.1zM327.8,166.6h1.1v1.1h-1.1zM327.6,168.4h1.1v1.1h-1.1zM327.8,163.0h1.1v1.1h-1.1zM327.4,166.5h1.1v1.1h-1.1zM327.7,168.3h1.1v1.1h-1.1zM328.6,166.2h1.1v1.1h-1.1zM328.5,152.5h1.1v1.1h-1.1zM328.6,166.7h1.1v1.1h-1.1zM328.7,166.5h1.1v1.1h-1.1zM328.4,167.6h1.1v1.1h-1.1zM328.7,164.7h1.1v1.1h-1.1zM328.3,167.5h1.1v1.1h-1.1zM329.5,164.9h1.1v1.1h-1.1zM329.3,164.8h1.1v1.1h-1.1zM329.5,164.9h1.1v1.1h-1.1zM329.3,151.5h1.1v1.1h-1.1zM329.2,150.0h1.1v1.1h-1.1zM329.4,163.1h1.1v1.1h-1.1zM329.2,165.1h1.1v1.1h-1.1zM306.0,146.0h1.1v1.1h-1.1zM315.0,147.0h1.1v1.1h-1.1zM323.0,144.0h1.1v1.1h-1.1z" fill="#0b870b" opacity="0.9"/>
<path d="M330.0,190.7L330.0,161.4L330.5,171.2L331.0,167.2L331.5,168.7L332.0,167.7L332.5,168.7L333.0,168.5L333.5,167.1L334.0,167.6L334.5,169.7L335.0,168.6L335.5,168.5L336.0,166.7L336.5,169.5L337.0,169.0L337.5,168.0L338.0,167.7L338.5,170.7L339.0,170.3L339.5,161.6L340.0,171.5L340.5,169.7L341.0,171.1L341.5,165.7L342.0,171.8L342.5,168.5L343.0,171.5L343.5,171.4L344.0,164.6L344.5,172.1L345.0,170.5L345.5,171.3L346.0,170.2L346.5,172.2L347.0,167.4L347.5,170.6L348.0,168.4L348.5,170.8L349.0,166.5L349.5,162.3L350.0,169.3L350.5,168.2L351.0,168.0L351.5,166.7L352.0,166.9L352.5,167.0L353.0,162.6L353.5,169.0L354.0,167.6L354.5,169.8L355.0,163.8L355.5,163.2L356.0,166.7L356.5,167.1L357.0,159.6L357.5,158.9L358.0,158.7L358.5,160.5L359.0,158.9L359.5,156.7L360.0,154.7L360.5,158.9L361.0,160.1L361.0,190.7Z" fill="#ff8c00"/>
<path d="M329.9,168.4h1.1v1.1h-1.1zM330.1,166.4h1.1v1.1h-1.1zM329.9,157.0h1.1v1.1h-1.1zM329.9,163.3h1.1v1.1h-1.1zM330.2,158.1h1.1v1.1h-1.1zM329.9,165.8h1.1v1.1h-1.1zM330.2,169.0h1.1v1.1h-1.1zM329.9,160.5h1.1v1.1h-1.1zM331.1,169.5h1.1v1.1h-1.1zM331.0,170.5h1.1v1.1h-1.1zM330.8,166.6h1.1v1.1h-1.1zM330.7,166.5h1.1v1.1h-1.1zM330.6,166.3h1.1v1.1h-1.1zM330.6,157.1h1.1v1.1h-1.1zM331.7,160.0h1.1v1.1h-1.1zM331.3,153.6h1.1v1.1h-1.1zM331.4,170.3h1.1v1.1h-1.1zM331.4,160.9h1.1v1.1h-1.1zM331.8,165.6h1.1v1.1h-1.1zM331.6,169.3h1.1v1.1h-1.1zM331.7,155.8h1.1v1.1h-1.1zM332.3,165.5h1.1v1.1h-1.1zM332.6,147.7h1.1v1.1h-1.1zM332.3,162.1h1.1v1.1h-1.1zM332.4,160.9h1.1v1.1h-1.1zM332.3,158.9h1.1v1.1h-1.1zM332.5,155.3h1.1v1.1h-1.1zM332.4,165.9h1.1v1.1h-1.1zM333.4,169.7h1.1v1.1h-1.1zM333.2,161.4h1.1v1.1h-1.1zM333.0,157.2h1.1v1.1h-1.1zM333.3,167.0h1.1v1.1h-1.1zM333.1,158.2h1.1v1.1h-1.1zM332.9,162.8h1.1v1.1h-1.1zM332.9,168.9h1.1v1.1h-1.1zM333.9,167.6h1.1v1.1h-1.1zM333.7,166.5h1.1v1.1h-1.1zM334.2,157.3h1.1v1.1h-1.1zM334.0,165.4h1.1v1.1h-1.1zM334.1,167.7h1.1v1.1h-1.1zM334.3,167.4h1.1v1.1h-1.1zM334.6,169.0h1.1v1.1h-1.1zM334.6,166.7h1.1v1.1h-1.1zM335.1,165.9h1.1v1.1h-1.1zM335.1,157.7h1.1v1.1h-1.1zM334.6,167.9h1.1v1.1h-1.1zM334.7,169.4h1.1v1.1h-1.1zM334.8,169.1h1.1v1.1h-1.1zM334.9,167.2h1.1v1.1h-1.1zM335.5,164.3h1.1v1.1h-1.1zM335.7,161.9h1.1v1.1h-1.1zM335.6,162.4h1.1v1.1h-1.1zM335.5,166.0h1.1v1.1h-1.1zM335.6,169.3h1.1v1.1h-1.1zM335.4,164.1h1.1v1.1h-1.1zM336.4,158.2h1.1v1.1h-1.1zM336.3,168.4h1.1v1.1h-1.1zM336.7,160.6h1.1v1.1h-1.1zM336.1,168.9h1.1v1.1h-1.1zM336.3,166.7h1.1v1.1h-1.1zM336.2,163.5h1.1v1.1h-1.1zM336.3,157.1h1.1v1.1h-1.1zM336.3,153.4h1.1v1.1h-1.1zM337.5,169.0h1.1v1.1h-1.1zM337.4,165.5h1.1v1.1h-1.1zM337.2,169.6h1.1v1.1h-1.1zM337.5,163.3h1.1v1.1h-1.1zM337.0,156.1h1.1v1.1h-1.1zM337.9,160.2h1.1v1.1h-1.1zM338.3,170.2h1.1v1.1h-1.1zM338.0,169.3h1.1v1.1h-1.1zM338.0,168.8h1.1v1.1h-1.1zM339.0,151.2h1.1v1.1h-1.1zM339.0,168.7h1.1v1.1h-1.1zM338.7,170.5h1.1v1.1h-1.1zM338.7,151.5h1.1v1.1h-1.1zM338.8,167.6h1.1v1.1h-1.1zM338.9,168.8h1.1v1.1h-1.1zM338.6,163.6h1.1v1.1h-1.1zM338.5,153.9h1.1v1.1h-1.1zM339.9,170.5h1.1v1.1h-1.1zM339.6,161.0h1.1v1.1h-1.1zM339.9,161.1h1.1v1.1h-1.1zM339.6,154.7h1.1v1.1h-1.1zM339.6,169.0h1.1v1.1h-1.1zM339.7,162.8h1.1v1.1h-1.1zM340.4,168.5h1.1v1.1h-1.1zM340.2,160.8h1.1v1.1h-1.1zM340.1,160.4h1.1v1.1h-1.1zM340.4,167.1h1.1v1.1h-1.1zM340.7,170.6h1.1v1.1h-1.1zM340.2,168.2h1.1v1.1h-1.1zM340.5,168.5h1.1v1.1h-1.1zM341.0,164.3h1.1v1.1h-1.1zM341.4,170.1h1.1v1.1h-1.1zM341.4,159.9h1.1v1.1h-1.1zM340.9,170.7h1.1v1.1h-1.1zM341.3,163.4h1.1v1.1h-1.1zM340.9,169.1h1.1v1.1h-1.1zM342.1,170.5h1.1v1.1h-1.1zM341.7,170.7h1.1v1.1h-1.1zM341.8,164.6h1.1v1.1h-1.1zM342.0,170.6h1.1v1.1h-1.1zM341.9,169.7h1.1v1.1h-1.1zM342.7,165.1h1.1v1.1h-1.1zM342.6,162.8h1.1v1.1h-1.1zM342.9,171.8h1.1v1.1h-1.1zM343.1,168.8h1.1v1.1h-1.1zM342.9,171.8h1.1v1.1h-1.1zM342.7,165.7h1.1v1.1h-1.1zM342.9,171.6h1.1v1.1h-1.1zM343.6,168.5h1.1v1.1h-1.1zM343.7,165.1h1.1v1.1h-1.1zM343.4,169.1h1.1v1.1h-1.1zM343.6,168.6h1.1v1.1h-1.1zM343.9,157.9h1.1v1.1h-1.1zM343.5,167.4h1.1v1.1h-1.1zM343.7,171.0h1.1v1.1h-1.1zM344.7,169.4h1.1v1.1h-1.1zM344.5,168.9h1.1v1.1h-1.1zM344.2,159.4h1.1v1.1h-1.1zM344.7,169.9h1.1v1.1h-1.1zM344.3,172.3h1.1v1.1h-1.1zM344.5,168.4h1.1v1.1h-1.1zM345.3,156.6h1.1v1.1h-1.1zM344.9,172.7h1.1v1.1h-1.1zM345.2,172.5h1.1v1.1h-1.1zM345.2,172.5h1.1v1.1h-1.1zM345.0,166.6h1.1v1.1h-1.1zM345.1,160.9h1.1v1.1h-1.1zM345.1,153.2h1.1v1.1h-1.1zM345.7,164.2h1.1v1.1h-1.1zM345.9,171.0h1.1v1.1h-1.1zM346.0,160.7h1.1v1.1h-1.1zM345.9,172.4h1.1v1.1h-1.1zM346.2,167.4h1.1v1.1h-1.1zM346.2,171.9h1.1v1.1h-1.1zM346.8,168.5h1.1v1.1h-1.1zM347.1,169.4h1.1v1.1h-1.1zM347.1,159.3h1.1v1.1h-1.1zM346.9,165.4h1.1v1.1h-1.1zM346.5,171.6h1.1v1.1h-1.1zM346.9,163.1h1.1v1.1h-1.1zM347.6,159.0h1.1v1.1h-1.1zM347.5,171.9h1.1v1.1h-1.1zM347.3,169.8h1.1v1.1h-1.1zM347.8,160.0h1.1v1.1h-1.1zM348.2,169.0h1.1v1.1h-1.1zM348.6,165.2h1.1v1.1h-1.1zM348.6,163.9h1.1v1.1h-1.1zM348.1,171.0h1.1v1.1h-1.1zM348.6,171.2h1.1v1.1h-1.1zM349.0,159.9h1.1v1.1h-1.1zM348.9,169.0h1.1v1.1h-1.1zM349.4,168.1h1.1v1.1h-1.1zM349.2,161.8h1.1v1.1h-1.1zM350.3,158.0h1.1v1.1h-1.1zM350.2,170.4h1.1v1.1h-1.1zM349.9,169.6h1.1v1.1h-1.1zM350.3,168.8h1.1v1.1h-1.1zM350.0,170.5h1.1v1.1h-1.1zM350.3,170.2h1.1v1.1h-1.1zM350.7,164.9h1.1v1.1h-1.1zM350.9,168.4h1.1v1.1h-1.1zM351.0,165.8h1.1v1.1h-1.1zM351.0,169.0h1.1v1.1h-1.1zM351.5,166.3h1.1v1.1h-1.1zM351.3,166.3h1.1v1.1h-1.1zM351.5,169.6h1.1v1.1h-1.1zM351.3,169.5h1.1v1.1h-1.1zM351.7,164.4h1.1v1.1h-1.1zM352.5,162.1h1.1v1.1h-1.1zM352.4,168.7h1.1v1.1h-1.1zM352.3,167.6h1.1v1.1h-1.1zM352.6,169.1h1.1v1.1h-1.1zM352.7,165.4h1.1v1.1h-1.1zM353.2,168.3h1.1v1.1h-1.1zM353.1,169.3h1.1v1.1h-1.1zM353.2,166.2h1.1v1.1h-1.1zM353.2,159.1h1.1v1.1h-1.1zM353.7,167.7h1.1v1.1h-1.1zM354.2,153.7h1.1v1.1h-1.1zM353.8,169.0h1.1v1.1h-1.1zM354.1,168.5h1.1v1.1h-1.1zM353.7,169.0h1.1v1.1h-1.1zM354.7,169.5h1.1v1.1h-1.1zM354.6,167.7h1.1v1.1h-1.1zM354.7,169.5h1.1v1.1h-1.1zM354.7,168.5h1.1v1.1h-1.1zM355.8,167.5h1.1v1.1h-1.1zM355.6,163.4h1.1v1.1h-1.1zM355.4,167.5h1.1v1.1h-1.1zM356.2,163.4h1.1v1.1h-1.1zM356.6,159.4h1.1v1.1h-1.1zM356.4,165.2h1.1v1.1h-1.1zM356.2,162.6h1.1v1.1h-1.1zM357.3,161.0h1.1v1.1h-1.1zM356.9,162.5h1.1v1.1h-1.1zM357.4,163.8h1.1v1.1h-1.1zM357.7,153.0h1.1v1.1h-1.1zM357.8,156.5h1.1v1.1h-1.1zM357.8,160.5h1.1v1.1h-1.1zM358.2,154.5h1.1v1.1h-1.1zM357.9,155.2h1.1v1.1h-1.1zM358.6,156.2h1.1v1.1h-1.1zM358.6,158.6h1.1v1.1h-1.1zM358.6,154.4h1.1v1.1h-1.1zM358.7,159.9h1.1v1.1h-1.1zM359.6,156.2h1.1v1.1h-1.1zM359.8,153.6h1.1v1.1h-1.1zM359.6,158.5h1.1v1.1h-1.1zM360.3,159.3h1.1v1.1h-1.1zM360.5,151.7h1.1v1.1h-1.1zM360.2,159.2h1.1v1.1h-1.1zM360.4,156.4h1.1v1.1h-1.1zM343.0,145.0h1.1v1.1h-1.1zM357.0,147.0h1.1v1.1h-1.1z" fill="#ff8c00" opacity="0.9"/>
<path d="M361.0,190.7L361.0,157.8L361.5,156.1L362.0,159.3L362.5,156.6L363.0,152.5L363.5,151.0L364.0,149.3L364.5,150.3L365.0,157.2L365.5,162.8L366.0,165.1L366.5,162.1L367.0,160.7L367.5,162.8L368.0,164.2L368.5,165.5L369.0,161.8L369.5,159.9L370.0,163.0L370.5,167.2L371.0,162.9L371.5,161.1L372.0,162.7L372.5,157.8L373.0,161.8L373.5,164.2L374.0,161.3L374.5,162.8L375.0,162.8L375.5,163.3L376.0,161.4L376.5,162.7L377.0,162.9L377.5,164.2L378.0,161.7L378.5,165.2L379.0,162.2L379.5,165.8L380.0,157.0L380.5,158.6L381.0,163.5L381.5,163.8L382.0,163.4L382.5,161.1L383.0,152.6L383.5,150.7L384.0,143.0L384.5,139.9L385.0,144.7L385.5,152.2L386.0,159.1L386.5,160.7L387.0,164.5L387.0,190.7Z" fill="#0b870b"/>
<path d="M360.8,163.3h1.1v1.1h-1.1zM361.0,154.1h1.1v1.1h-1.1zM360.8,154.5h1.1v1.1h-1.1zM361.0,160.5h1.1v1.1h-1.1zM360.9,163.0h1.1v1.1h-1.1zM361.8,155.3h1.1v1.1h-1.1zM362.0,156.8h1.1v1.1h-1.1zM361.9,147.6h1.1v1.1h-1.1zM362.0,160.6h1.1v1.1h-1.1zM361.6,160.0h1.1v1.1h-1.1zM362.6,153.3h1.1v1.1h-1.1zM362.7,154.9h1.1v1.1h-1.1zM362.5,152.8h1.1v1.1h-1.1zM362.9,149.3h1.1v1.1h-1.1zM363.3,150.8h1.1v1.1h-1.1zM363.3,148.8h1.1v1.1h-1.1zM363.6,145.9h1.1v1.1h-1.1zM363.4,150.5h1.1v1.1h-1.1zM364.2,152.2h1.1v1.1h-1.1zM364.4,149.1h1.1v1.1h-1.1zM364.1,151.7h1.1v1.1h-1.1zM364.3,152.7h1.1v1.1h-1.1zM365.0,152.6h1.1v1.1h-1.1zM364.8,147.7h1.1v1.1h-1.1zM364.8,149.7h1.1v1.1h-1.1zM364.8,158.1h1.1v1.1h-1.1zM365.9,160.0h1.1v1.1h-1.1zM365.8,162.3h1.1v1.1h-1.1zM365.6,158.0h1.1v1.1h-1.1zM365.8,157.5h1.1v1.1h-1.1zM366.0,160.2h1.1v1.1h-1.1zM365.6,155.7h1.1v1.1h-1.1zM365.5,161.9h1.1v1.1h-1.1zM366.9,158.1h1.1v1.1h-1.1zM366.4,152.2h1.1v1.1h-1.1zM366.8,154.8h1.1v1.1h-1.1zM366.9,160.3h1.1v1.1h-1.1zM366.4,158.6h1.1v1.1h-1.1zM367.6,159.1h1.1v1.1h-1.1zM367.1,164.3h1.1v1.1h-1.1zM367.3,162.7h1.1v1.1h-1.1zM367.2,153.5h1.1v1.1h-1.1zM367.6,155.9h1.1v1.1h-1.1zM367.9,159.4h1.1v1.1h-1.1zM368.3,159.4h1.1v1.1h-1.1zM368.2,156.5h1.1v1.1h-1.1zM368.0,163.7h1.1v1.1h-1.1zM367.9,158.7h1.1v1.1h-1.1zM368.1,163.8h1.1v1.1h-1.1zM369.0,147.1h1.1v1.1h-1.1zM369.0,163.0h1.1v1.1h-1.1zM368.9,154.3h1.1v1.1h-1.1zM369.0,161.4h1.1v1.1h-1.1zM368.8,159.1h1.1v1.1h-1.1zM369.8,162.9h1.1v1.1h-1.1zM369.5,159.6h1.1v1.1h-1.1zM369.7,161.7h1.1v1.1h-1.1zM370.0,160.9h1.1v1.1h-1.1zM370.6,163.5h1.1v1.1h-1.1zM370.4,162.2h1.1v1.1h-1.1zM370.6,160.3h1.1v1.1h-1.1zM371.6,163.3h1.1v1.1h-1.1zM371.7,155.9h1.1v1.1h-1.1zM371.1,163.3h1.1v1.1h-1.1zM371.1,160.7h1.1v1.1h-1.1zM372.3,161.6h1.1v1.1h-1.1zM372.1,163.6h1.1v1.1h-1.1zM372.3,157.1h1.1v1.1h-1.1zM372.0,160.2h1.1v1.1h-1.1zM372.1,163.2h1.1v1.1h-1.1zM373.0,160.8h1.1v1.1h-1.1zM373.0,155.3h1.1v1.1h-1.1zM373.0,155.5h1.1v1.1h-1.1zM373.8,155.7h1.1v1.1h-1.1zM373.7,164.4h1.1v1.1h-1.1zM373.9,163.7h1.1v1.1h-1.1zM374.9,162.1h1.1v1.1h-1.1zM374.4,159.3h1.1v1.1h-1.1zM374.7,164.3h1.1v1.1h-1.1zM374.7,161.2h1.1v1.1h-1.1zM375.5,157.9h1.1v1.1h-1.1zM375.2,164.2h1.1v1.1h-1.1zM375.4,155.9h1.1v1.1h-1.1zM375.5,163.7h1.1v1.1h-1.1zM376.3,156.6h1.1v1.1h-1.1zM376.0,158.0h1.1v1.1h-1.1zM376.4,162.0h1.1v1.1h-1.1zM376.0,162.8h1.1v1.1h-1.1zM376.3,156.6h1.1v1.1h-1.1zM377.1,151.0h1.1v1.1h-1.1zM376.8,155.3h1.1v1.1h-1.1zM376.8,160.6h1.1v1.1h-1.1zM376.8,162.6h1.1v1.1h-1.1zM376.7,161.7h1.1v1.1h-1.1zM378.0,159.8h1.1v1.1h-1.1zM377.5,158.0h1.1v1.1h-1.1zM377.8,155.5h1.1v1.1h-1.1zM377.8,152.4h1.1v1.1h-1.1zM377.9,164.0h1.1v1.1h-1.1zM378.6,151.6h1.1v1.1h-1.1zM378.7,162.2h1.1v1.1h-1.1zM378.6,157.6h1.1v1.1h-1.1zM378.6,162.6h1.1v1.1h-1.1zM378.4,157.5h1.1v1.1h-1.1zM378.6,163.4h1.1v1.1h-1.1zM379.3,163.9h1.1v1.1h-1.1zM379.6,162.1h1.1v1.1h-1.1zM379.2,161.7h1.1v1.1h-1.1zM379.6,159.5h1.1v1.1h-1.1zM379.1,153.4h1.1v1.1h-1.1zM379.5,155.5h1.1v1.1h-1.1zM379.5,159.6h1.1v1.1h-1.1zM380.1,163.6h1.1v1.1h-1.1zM380.2,153.2h1.1v1.1h-1.1zM380.3,160.2h1.1v1.1h-1.1zM380.1,160.4h1.1v1.1h-1.1zM379.9,159.7h1.1v1.1h-1.1zM379.9,161.8h1.1v1.1h-1.1zM380.8,158.2h1.1v1.1h-1.1zM380.9,153.1h1.1v1.1h-1.1zM381.1,154.9h1.1v1.1h-1.1zM381.1,159.0h1.1v1.1h-1.1zM381.2,162.5h1.1v1.1h-1.1zM381.2,159.8h1.1v1.1h-1.1zM380.9,153.7h1.1v1.1h-1.1zM381.9,152.3h1.1v1.1h-1.1zM381.8,160.2h1.1v1.1h-1.1zM381.5,152.1h1.1v1.1h-1.1zM381.9,161.5h1.1v1.1h-1.1zM381.8,159.7h1.1v1.1h-1.1zM381.6,162.3h1.1v1.1h-1.1zM382.9,158.6h1.1v1.1h-1.1zM382.9,146.9h1.1v1.1h-1.1zM382.6,159.2h1.1v1.1h-1.1zM382.5,160.5h1.1v1.1h-1.1zM382.6,160.7h1.1v1.1h-1.1zM382.8,141.9h1.1v1.1h-1.1zM382.5,158.4h1.1v1.1h-1.1zM383.1,145.6h1.1v1.1h-1.1zM383.5,141.9h1.1v1.1h-1.1zM383.4,150.7h1.1v1.1h-1.1zM383.4,149.1h1.1v1.1h-1.1zM384.1,137.5h1.1v1.1h-1.1zM384.4,143.3h1.1v1.1h-1.1zM384.3,140.6h1.1v1.1h-1.1zM385.0,145.6h1.1v1.1h-1.1zM384.8,136.6h1.1v1.1h-1.1zM384.7,144.1h1.1v1.1h-1.1zM385.1,144.6h1.1v1.1h-1.1zM386.1,150.1h1.1v1.1h-1.1zM386.0,148.4h1.1v1.1h-1.1zM385.9,142.1h1.1v1.1h-1.1zM386.0,153.4h1.1v1.1h-1.1zM385.9,148.9h1.1v1.1h-1.1zM386.8,160.7h1.1v1.1h-1.1zM386.5,153.9h1.1v1.1h-1.1zM386.3,162.8h1.1v1.1h-1.1zM386.3,160.7h1.1v1.1h-1.1zM386.5,144.9h1.1v1.1h-1.1zM386.8,160.1h1.1v1.1h-1.1zM365.0,140.0h1.1v1.1h-1.1zM385.0,138.0h1.1v1.1h-1.1zM372.0,146.0h1.1v1.1h-1.1z" fill="#0b870b" opacity="0.9"/>
<path d="M387.0,190.7L387.0,162.6L387.5,162.7L388.0,162.5L388.5,161.2L389.0,155.0L389.5,163.5L390.0,152.6L390.5,151.5L391.0,153.2L391.5,162.7L392.0,158.7L392.5,162.0L393.0,159.2L393.5,160.3L394.0,160.1L394.5,161.3L395.0,162.0L395.5,160.5L396.0,162.8L396.5,163.8L397.0,163.0L397.5,163.3L398.0,164.5L398.5,163.7L399.0,162.5L399.5,162.6L400.0,162.4L400.5,165.2L401.0,159.8L401.5,162.4L402.0,161.7L402.5,162.3L403.0,158.8L403.5,163.7L404.0,158.3L404.5,159.5L405.0,154.5L405.5,159.5L406.0,161.7L406.5,153.8L407.0,158.9L407.5,155.7L408.0,161.3L408.5,152.0L409.0,160.6L409.5,162.2L410.0,162.3L410.5,159.5L411.0,152.0L411.5,164.7L412.0,163.4L412.5,162.6L413.0,159.1L413.5,158.8L414.0,163.3L414.5,162.0L415.0,163.3L415.5,161.5L416.0,159.5L416.5,156.3L417.0,162.5L417.5,161.7L418.0,157.9L418.5,155.1L418.6,190.7Z" fill="#ff8c00"/>
<path d="M386.8,161.2h1.1v1.1h-1.1zM387.2,148.4h1.1v1.1h-1.1zM387.1,160.5h1.1v1.1h-1.1zM386.8,158.7h1.1v1.1h-1.1zM387.1,162.8h1.1v1.1h-1.1zM387.0,162.1h1.1v1.1h-1.1zM387.9,157.1h1.1v1.1h-1.1zM387.8,157.0h1.1v1.1h-1.1zM388.1,162.5h1.1v1.1h-1.1zM388.0,159.1h1.1v1.1h-1.1zM388.6,153.5h1.1v1.1h-1.1zM388.5,160.9h1.1v1.1h-1.1zM388.6,161.7h1.1v1.1h-1.1zM388.7,160.9h1.1v1.1h-1.1zM388.7,161.2h1.1v1.1h-1.1zM389.5,160.5h1.1v1.1h-1.1zM389.6,160.0h1.1v1.1h-1.1zM389.6,155.6h1.1v1.1h-1.1zM389.3,158.5h1.1v1.1h-1.1zM390.5,151.8h1.1v1.1h-1.1zM390.4,160.3h1.1v1.1h-1.1zM390.4,158.3h1.1v1.1h-1.1zM390.2,156.9h1.1v1.1h-1.1zM391.2,159.8h1.1v1.1h-1.1zM390.7,161.3h1.1v1.1h-1.1zM392.0,161.1h1.1v1.1h-1.1zM392.0,161.1h1.1v1.1h-1.1zM391.6,160.5h1.1v1.1h-1.1zM391.9,156.0h1.1v1.1h-1.1zM392.6,152.4h1.1v1.1h-1.1zM392.6,159.2h1.1v1.1h-1.1zM392.7,160.0h1.1v1.1h-1.1zM393.7,156.8h1.1v1.1h-1.1zM393.4,155.7h1.1v1.1h-1.1zM393.2,160.1h1.1v1.1h-1.1zM393.4,161.5h1.1v1.1h-1.1zM394.4,154.3h1.1v1.1h-1.1zM394.4,158.6h1.1v1.1h-1.1zM394.1,161.2h1.1v1.1h-1.1zM394.3,158.2h1.1v1.1h-1.1zM394.1,158.9h1.1v1.1h-1.1zM394.1,150.6h1.1v1.1h-1.1zM395.0,161.7h1.1v1.1h-1.1zM394.9,157.5h1.1v1.1h-1.1zM395.0,158.1h1.1v1.1h-1.1zM395.3,162.8h1.1v1.1h-1.1zM395.0,161.4h1.1v1.1h-1.1zM395.6,162.1h1.1v1.1h-1.1zM395.8,153.2h1.1v1.1h-1.1zM395.7,163.1h1.1v1.1h-1.1zM395.6,159.5h1.1v1.1h-1.1zM396.0,161.4h1.1v1.1h-1.1zM396.7,162.4h1.1v1.1h-1.1zM396.6,163.2h1.1v1.1h-1.1zM396.4,158.3h1.1v1.1h-1.1zM396.5,159.6h1.1v1.1h-1.1zM396.7,156.6h1.1v1.1h-1.1zM396.7,151.1h1.1v1.1h-1.1zM397.1,154.7h1.1v1.1h-1.1zM397.3,161.1h1.1v1.1h-1.1zM397.6,160.6h1.1v1.1h-1.1zM397.5,159.5h1.1v1.1h-1.1zM397.3,156.0h1.1v1.1h-1.1zM397.3,158.7h1.1v1.1h-1.1zM398.3,159.8h1.1v1.1h-1.1zM398.4,163.3h1.1v1.1h-1.1zM398.1,163.4h1.1v1.1h-1.1zM398.5,152.7h1.1v1.1h-1.1zM398.5,161.6h1.1v1.1h-1.1zM398.5,164.2h1.1v1.1h-1.1zM397.9,163.1h1.1v1.1h-1.1zM398.8,164.6h1.1v1.1h-1.1zM398.8,161.9h1.1v1.1h-1.1zM398.9,160.8h1.1v1.1h-1.1zM399.0,156.5h1.1v1.1h-1.1zM399.2,144.3h1.1v1.1h-1.1zM399.3,163.5h1.1v1.1h-1.1zM399.0,151.0h1.1v1.1h-1.1zM399.7,163.6h1.1v1.1h-1.1zM399.6,163.3h1.1v1.1h-1.1zM399.7,159.5h1.1v1.1h-1.1zM399.8,156.8h1.1v1.1h-1.1zM399.6,155.2h1.1v1.1h-1.1zM399.8,154.5h1.1v1.1h-1.1zM400.7,161.9h1.1v1.1h-1.1zM400.4,160.1h1.1v1.1h-1.1zM400.8,162.7h1.1v1.1h-1.1zM400.7,164.4h1.1v1.1h-1.1zM400.7,160.5h1.1v1.1h-1.1zM400.6,162.5h1.1v1.1h-1.1zM401.1,157.8h1.1v1.1h-1.1zM401.3,160.9h1.1v1.1h-1.1zM401.3,160.1h1.1v1.1h-1.1zM401.2,163.1h1.1v1.1h-1.1zM401.3,153.8h1.1v1.1h-1.1zM401.9,159.1h1.1v1.1h-1.1zM402.3,148.1h1.1v1.1h-1.1zM402.2,163.1h1.1v1.1h-1.1zM402.3,159.9h1.1v1.1h-1.1zM402.4,161.8h1.1v1.1h-1.1zM401.9,158.2h1.1v1.1h-1.1zM402.9,153.8h1.1v1.1h-1.1zM403.2,157.9h1.1v1.1h-1.1zM402.7,153.9h1.1v1.1h-1.1zM402.8,155.3h1.1v1.1h-1.1zM403.1,156.2h1.1v1.1h-1.1zM403.8,154.4h1.1v1.1h-1.1zM403.9,159.4h1.1v1.1h-1.1zM404.6,159.8h1.1v1.1h-1.1zM404.5,161.5h1.1v1.1h-1.1zM404.8,155.5h1.1v1.1h-1.1zM404.7,158.0h1.1v1.1h-1.1zM405.4,162.0h1.1v1.1h-1.1zM405.2,152.3h1.1v1.1h-1.1zM405.1,160.2h1.1v1.1h-1.1zM405.9,156.1h1.1v1.1h-1.1zM406.4,156.5h1.1v1.1h-1.1zM406.1,155.1h1.1v1.1h-1.1zM407.0,148.5h1.1v1.1h-1.1zM406.8,156.5h1.1v1.1h-1.1zM406.9,161.4h1.1v1.1h-1.1zM407.2,161.0h1.1v1.1h-1.1zM407.3,160.2h1.1v1.1h-1.1zM407.9,160.6h1.1v1.1h-1.1zM407.8,159.9h1.1v1.1h-1.1zM408.0,161.1h1.1v1.1h-1.1zM407.8,155.4h1.1v1.1h-1.1zM408.7,160.0h1.1v1.1h-1.1zM408.4,158.4h1.1v1.1h-1.1zM408.6,160.5h1.1v1.1h-1.1zM408.3,161.4h1.1v1.1h-1.1zM409.6,161.3h1.1v1.1h-1.1zM409.5,161.3h1.1v1.1h-1.1zM409.3,156.5h1.1v1.1h-1.1zM409.7,159.1h1.1v1.1h-1.1zM410.5,161.1h1.1v1.1h-1.1zM410.2,160.9h1.1v1.1h-1.1zM410.3,160.9h1.1v1.1h-1.1zM410.3,155.1h1.1v1.1h-1.1zM411.0,158.2h1.1v1.1h-1.1zM410.8,156.1h1.1v1.1h-1.1zM411.5,159.8h1.1v1.1h-1.1zM411.7,161.1h1.1v1.1h-1.1zM411.7,160.3h1.1v1.1h-1.1zM412.7,161.1h1.1v1.1h-1.1zM412.5,156.8h1.1v1.1h-1.1zM412.4,162.5h1.1v1.1h-1.1zM413.3,163.2h1.1v1.1h-1.1zM413.6,151.4h1.1v1.1h-1.1zM413.1,162.0h1.1v1.1h-1.1zM413.4,162.4h1.1v1.1h-1.1zM414.2,162.1h1.1v1.1h-1.1zM414.0,156.6h1.1v1.1h-1.1zM414.1,163.2h1.1v1.1h-1.1zM414.0,163.4h1.1v1.1h-1.1zM414.4,163.3h1.1v1.1h-1.1zM413.9,150.4h1.1v1.1h-1.1zM414.4,153.5h1.1v1.1h-1.1zM414.7,163.1h1.1v1.1h-1.1zM414.8,146.9h1.1v1.1h-1.1zM415.2,150.3h1.1v1.1h-1.1zM414.8,163.3h1.1v1.1h-1.1zM414.8,158.0h1.1v1.1h-1.1zM415.1,157.7h1.1v1.1h-1.1zM415.6,160.1h1.1v1.1h-1.1zM415.9,153.9h1.1v1.1h-1.1zM415.9,157.8h1.1v1.1h-1.1zM416.0,162.7h1.1v1.1h-1.1zM415.8,156.3h1.1v1.1h-1.1zM416.5,159.6h1.1v1.1h-1.1zM416.4,159.8h1.1v1.1h-1.1zM416.6,162.2h1.1v1.1h-1.1zM416.7,155.2h1.1v1.1h-1.1zM417.5,159.3h1.1v1.1h-1.1zM417.4,158.8h1.1v1.1h-1.1zM417.5,159.3h1.1v1.1h-1.1zM418.0,156.1h1.1v1.1h-1.1zM418.1,159.3h1.1v1.1h-1.1zM418.2,158.7h1.1v1.1h-1.1zM418.5,159.1h1.1v1.1h-1.1zM392.0,140.0h1.1v1.1h-1.1zM403.0,139.0h1.1v1.1h-1.1zM416.0,136.0h1.1v1.1h-1.1zM410.0,142.0h1.1v1.1h-1.1z" fill="#ff8c00" opacity="0.9"/>
<rect x="59.6" y="166.7" width="0.6" height="23" fill="#fff" opacity="0.55"/>
<rect x="67.2" y="166.7" width="0.6" height="23" fill="#fff" opacity="0.55"/>
<rect x="95.4" y="166.7" width="0.6" height="23" fill="#fff" opacity="0.55"/>
<rect x="122.8" y="166.7" width="0.6" height="23" fill="#fff" opacity="0.55"/>
<rect x="215.4" y="166.7" width="0.6" height="23" fill="#fff" opacity="0.55"/>
<rect x="253.2" y="166.7" width="0.6" height="23" fill="#fff" opacity="0.55"/>
<rect x="281" y="166.7" width="0.6" height="23" fill="#fff" opacity="0.55"/>
<rect x="318" y="166.7" width="0.6" height="23" fill="#fff" opacity="0.55"/>
<rect x="344" y="166.7" width="0.6" height="23" fill="#fff" opacity="0.55"/>
<rect x="399" y="166.7" width="0.6" height="23" fill="#fff" opacity="0.55"/>
<path d="M209.2,63.3h1.3v1.2h-1.3zM209.0,64.3h1.3v1.2h-1.3zM209.2,65.4h1.3v1.2h-1.3zM209.2,66.1h1.3v1.2h-1.3zM209.3,67.2h1.3v1.2h-1.3zM209.6,68.4h1.3v1.2h-1.3zM209.6,69.1h1.3v1.2h-1.3zM209.0,75.3h1.3v1.2h-1.3zM209.2,78.0h1.3v1.2h-1.3zM209.6,79.4h1.3v1.2h-1.3zM209.0,82.5h1.3v1.2h-1.3zM209.4,83.0h1.3v1.2h-1.3zM209.8,86.1h1.3v1.2h-1.3zM209.4,87.0h1.3v1.2h-1.3zM209.8,88.4h1.3v1.2h-1.3zM209.6,89.4h1.3v1.2h-1.3zM209.1,90.1h1.3v1.2h-1.3zM208.9,91.3h1.3v1.2h-1.3zM209.0,92.1h1.3v1.2h-1.3zM209.1,93.5h1.3v1.2h-1.3zM209.6,94.1h1.3v1.2h-1.3zM209.8,95.1h1.3v1.2h-1.3zM209.0,96.2h1.3v1.2h-1.3zM209.6,97.0h1.3v1.2h-1.3zM209.6,98.3h1.3v1.2h-1.3zM209.6,99.2h1.3v1.2h-1.3zM208.9,100.0h1.3v1.2h-1.3zM209.6,101.3h1.3v1.2h-1.3zM209.6,102.1h1.3v1.2h-1.3zM209.2,103.1h1.3v1.2h-1.3zM209.7,104.4h1.3v1.2h-1.3zM209.0,105.4h1.3v1.2h-1.3zM208.9,106.2h1.3v1.2h-1.3zM209.1,107.4h1.3v1.2h-1.3zM209.5,108.3h1.3v1.2h-1.3zM209.1,109.0h1.3v1.2h-1.3zM209.5,110.3h1.3v1.2h-1.3zM208.9,111.4h1.3v1.2h-1.3zM209.7,112.2h1.3v1.2h-1.3zM209.4,113.3h1.3v1.2h-1.3zM209.7,114.3h1.3v1.2h-1.3zM209.4,115.4h1.3v1.2h-1.3zM209.3,116.0h1.3v1.2h-1.3zM209.4,117.2h1.3v1.2h-1.3zM209.2,118.2h1.3v1.2h-1.3zM209.1,119.2h1.3v1.2h-1.3zM209.6,120.4h1.3v1.2h-1.3zM209.3,121.4h1.3v1.2h-1.3zM209.0,122.3h1.3v1.2h-1.3zM209.6,123.4h1.3v1.2h-1.3zM209.2,124.1h1.3v1.2h-1.3zM209.8,125.3h1.3v1.2h-1.3zM209.5,126.2h1.3v1.2h-1.3zM209.0,127.3h1.3v1.2h-1.3zM209.3,128.4h1.3v1.2h-1.3zM209.5,129.4h1.3v1.2h-1.3zM209.4,130.4h1.3v1.2h-1.3zM209.0,131.5h1.3v1.2h-1.3zM209.4,132.3h1.3v1.2h-1.3zM209.1,133.0h1.3v1.2h-1.3zM209.5,134.4h1.3v1.2h-1.3zM209.5,135.1h1.3v1.2h-1.3zM209.3,136.4h1.3v1.2h-1.3zM209.5,137.5h1.3v1.2h-1.3zM209.0,138.4h1.3v1.2h-1.3zM208.9,139.3h1.3v1.2h-1.3zM209.4,140.0h1.3v1.2h-1.3zM209.3,141.3h1.3v1.2h-1.3zM209.7,142.0h1.3v1.2h-1.3zM209.4,143.4h1.3v1.2h-1.3zM209.0,144.4h1.3v1.2h-1.3zM209.7,145.2h1.3v1.2h-1.3zM209.1,146.1h1.3v1.2h-1.3zM209.1,147.2h1.3v1.2h-1.3zM209.5,148.5h1.3v1.2h-1.3zM209.4,149.5h1.3v1.2h-1.3zM209.3,150.3h1.3v1.2h-1.3zM208.9,151.2h1.3v1.2h-1.3zM208.9,152.1h1.3v1.2h-1.3zM209.6,153.1h1.3v1.2h-1.3zM209.2,154.3h1.3v1.2h-1.3zM209.4,155.0h1.3v1.2h-1.3zM209.0,156.3h1.3v1.2h-1.3zM209.3,157.0h1.3v1.2h-1.3zM209.3,158.2h1.3v1.2h-1.3zM209.8,159.0h1.3v1.2h-1.3zM209.1,160.0h1.3v1.2h-1.3zM209.4,161.5h1.3v1.2h-1.3zM209.6,162.1h1.3v1.2h-1.3zM209.4,163.2h1.3v1.2h-1.3zM209.8,164.4h1.3v1.2h-1.3zM209.4,165.1h1.3v1.2h-1.3zM209.3,166.3h1.3v1.2h-1.3zM209.2,167.3h1.3v1.2h-1.3zM209.0,168.2h1.3v1.2h-1.3zM209.8,169.2h1.3v1.2h-1.3zM209.4,170.4h1.3v1.2h-1.3zM209.6,171.4h1.3v1.2h-1.3zM209.2,172.4h1.3v1.2h-1.3zM209.1,173.3h1.3v1.2h-1.3zM208.9,174.1h1.3v1.2h-1.3zM209.1,175.2h1.3v1.2h-1.3zM209.6,176.0h1.3v1.2h-1.3zM209.7,177.0h1.3v1.2h-1.3zM209.8,178.5h1.3v1.2h-1.3zM209.5,179.4h1.3v1.2h-1.3zM209.7,180.2h1.3v1.2h-1.3zM209.7,181.0h1.3v1.2h-1.3zM209.6,182.3h1.3v1.2h-1.3zM209.6,183.1h1.3v1.2h-1.3zM209.0,184.3h1.3v1.2h-1.3zM209.4,185.3h1.3v1.2h-1.3zM209.1,186.3h1.3v1.2h-1.3zM209.8,187.1h1.3v1.2h-1.3zM209.6,188.5h1.3v1.2h-1.3zM209.5,189.2h1.3v1.2h-1.3z" fill="#0b870b"/>
<rect x="208.8" y="86" width="1.6" height="104" fill="#0b870b"/>
<line x1="43" y1="40.5" x2="43" y2="191.3" stroke="#333" stroke-width="1.3"/>
<line x1="42.4" y1="190.9" x2="422.8" y2="190.9" stroke="#222" stroke-width="1.4"/>
<line x1="40" y1="190.7" x2="43" y2="190.7" stroke="#222" stroke-width="1.1"/>
<text x="30.6" y="193.7" font-family="Liberation Sans" font-size="8.4" fill="#1a1a1a" stroke="#1a1a1a" stroke-width="0.3" textLength="3.8" lengthAdjust="spacingAndGlyphs">0</text>
<line x1="40" y1="163.7" x2="43" y2="163.7" stroke="#222" stroke-width="1.1"/>
<text x="30.6" y="166.7" font-family="Liberation Sans" font-size="8.4" fill="#1a1a1a" stroke="#1a1a1a" stroke-width="0.3" textLength="3.8" lengthAdjust="spacingAndGlyphs">2</text>
<line x1="40" y1="136.7" x2="43" y2="136.7" stroke="#222" stroke-width="1.1"/>
<text x="30.6" y="139.7" font-family="Liberation Sans" font-size="8.4" fill="#1a1a1a" stroke="#1a1a1a" stroke-width="0.3" textLength="3.8" lengthAdjust="spacingAndGlyphs">4</text>
<line x1="40" y1="109.7" x2="43" y2="109.7" stroke="#222" stroke-width="1.1"/>
<text x="30.6" y="112.7" font-family="Liberation Sans" font-size="8.4" fill="#1a1a1a" stroke="#1a1a1a" stroke-width="0.3" textLength="3.8" lengthAdjust="spacingAndGlyphs">6</text>
<line x1="40" y1="82.7" x2="43" y2="82.7" stroke="#222" stroke-width="1.1"/>
<text x="30.6" y="85.7" font-family="Liberation Sans" font-size="8.4" fill="#1a1a1a" stroke="#1a1a1a" stroke-width="0.3" textLength="3.8" lengthAdjust="spacingAndGlyphs">8</text>
<line x1="40" y1="55.7" x2="43" y2="55.7" stroke="#222" stroke-width="1.1"/>
<text x="30.6" y="58.7" font-family="Liberation Sans" font-size="8.4" fill="#1a1a1a" stroke="#1a1a1a" stroke-width="0.3" textLength="7.3" lengthAdjust="spacingAndGlyphs">10</text>
<text class="" transform="translate(17.7,137.4) rotate(-90)" font-family="Liberation Sans" font-size="10.2" text-anchor="start" fill="#222"  stroke="#222" stroke-width="0.25" textLength="36.4" lengthAdjust="spacingAndGlyphs">−log(P)</text>
<text x="58" y="205.9" font-family="Liberation Sans" font-size="7.9" fill="#1a1a1a" stroke="#1a1a1a" stroke-width="0.25" textLength="17.3" lengthAdjust="spacingAndGlyphs">chr01</text>
<text x="97.5" y="205.9" font-family="Liberation Sans" font-size="7.9" fill="#1a1a1a" stroke="#1a1a1a" stroke-width="0.25" textLength="17.3" lengthAdjust="spacingAndGlyphs">chr02</text>
<text x="125.5" y="205.9" font-family="Liberation Sans" font-size="7.9" fill="#1a1a1a" stroke="#1a1a1a" stroke-width="0.25" textLength="17.3" lengthAdjust="spacingAndGlyphs">chr03</text>
<text x="158.2" y="205.9" font-family="Liberation Sans" font-size="7.9" fill="#1a1a1a" stroke="#1a1a1a" stroke-width="0.25" textLength="17.3" lengthAdjust="spacingAndGlyphs">chr04</text>
<text x="188.8" y="205.9" font-family="Liberation Sans" font-size="7.9" fill="#1a1a1a" stroke="#1a1a1a" stroke-width="0.25" textLength="17.3" lengthAdjust="spacingAndGlyphs">chr05</text>
<text x="217.4" y="205.9" font-family="Liberation Sans" font-size="7.9" fill="#1a1a1a" stroke="#1a1a1a" stroke-width="0.25" textLength="17.3" lengthAdjust="spacingAndGlyphs">chr06</text>
<text x="243.4" y="205.9" font-family="Liberation Sans" font-size="7.9" fill="#1a1a1a" stroke="#1a1a1a" stroke-width="0.25" textLength="17.3" lengthAdjust="spacingAndGlyphs">chr07</text>
<text x="274.7" y="205.9" font-family="Liberation Sans" font-size="7.9" fill="#1a1a1a" stroke="#1a1a1a" stroke-width="0.25" textLength="17.3" lengthAdjust="spacingAndGlyphs">chr08</text>
<text x="306.6" y="205.9" font-family="Liberation Sans" font-size="7.9" fill="#1a1a1a" stroke="#1a1a1a" stroke-width="0.25" textLength="17.3" lengthAdjust="spacingAndGlyphs">chr09</text>
<text x="339.3" y="205.9" font-family="Liberation Sans" font-size="7.9" fill="#1a1a1a" stroke="#1a1a1a" stroke-width="0.25" textLength="17.3" lengthAdjust="spacingAndGlyphs">chr10</text>
<text x="368.3" y="205.9" font-family="Liberation Sans" font-size="7.9" fill="#1a1a1a" stroke="#1a1a1a" stroke-width="0.25" textLength="17.3" lengthAdjust="spacingAndGlyphs">chr11</text>
<text x="396.5" y="205.9" font-family="Liberation Sans" font-size="7.9" fill="#1a1a1a" stroke="#1a1a1a" stroke-width="0.25" textLength="17.3" lengthAdjust="spacingAndGlyphs">chr12</text>
<text x="198.8" y="221.1" font-family="Liberation Sans" font-size="12.2" fill="#222" stroke="#222" stroke-width="0.3" textLength="60.4" lengthAdjust="spacingAndGlyphs">Chromosome</text>
<path d="M208.4,24.4 H211.2 V31.1 H212.2 L209.8,34.2 L207.4,31.1 H208.4 Z" fill="#0fbb50"/>
<rect x="281.5" y="18" width="4.5" height="1.5" fill="#e6e6e6"/>
</g>
<text x="0.3" y="13.6" font-family="Liberation Serif" font-weight="bold" font-size="27" fill="#000">a</text>
<text x="7.2" y="308" font-family="Liberation Serif" font-weight="bold" font-size="27" fill="#000">b</text>
<text x="7.5" y="385.8" font-family="Liberation Serif" font-weight="bold" font-size="27" fill="#000">c</text>
<text x="7.5" y="463" font-family="Liberation Serif" font-weight="bold" font-size="27" fill="#000">d</text>
<text x="7.5" y="511.5" font-family="Liberation Serif" font-weight="bold" font-size="27" fill="#000">e</text>
<text x="9.5" y="567.4" font-family="Liberation Serif" font-weight="bold" font-size="27" fill="#000">f</text>
<text x="481.6" y="13.4" font-family="Liberation Serif" font-weight="bold" font-size="27" fill="#000">g</text>
<text x="484.5" y="300.8" font-family="Liberation Serif" font-weight="bold" font-size="27" fill="#000">h</text>
<rect x="43.6" y="296.8" width="401.9" height="6.1" rx="1.8" fill="#fff" stroke="#444" stroke-width="1.3"/>
<rect x="377" y="296.9" width="25.8" height="6" fill="#00b050" stroke="#0c1f12" stroke-width="1.4"/>
<line x1="299" y1="293.4" x2="299" y2="306.8" stroke="#111" stroke-width="1.2"/>
<line x1="377" y1="293.4" x2="377" y2="306.8" stroke="#111" stroke-width="1.2"/>
<line x1="402.8" y1="293.4" x2="402.8" y2="306.8" stroke="#111" stroke-width="1.2"/>
<line x1="411.2" y1="293.4" x2="411.2" y2="306.8" stroke="#111" stroke-width="1.2"/>
<text class="s" transform="translate(303.5,289.0) rotate(-90)" font-family="Liberation Serif" font-size="11.9" text-anchor="start" fill="#111"  >SNP 2</text>
<text class="s" transform="translate(384.8,289.0) rotate(-90)" font-family="Liberation Serif" font-size="11.9" text-anchor="start" fill="#111"  >SP5G</text>
<text class="s" transform="translate(403.3,289.0) rotate(-90)" font-family="Liberation Serif" font-size="11.9" text-anchor="start" fill="#111"  >C2_At4g12590</text>
<text class="s" transform="translate(418.0,289.0) rotate(-90)" font-family="Liberation Serif" font-size="11.9" text-anchor="start" fill="#111"  >SNP 33</text>
<text x="451" y="308.6" class="s" font-family="Liberation Serif" font-size="12.2" fill="#111">Chr5</text>
<rect x="44" y="376.1" width="401.2" height="6.3" rx="1.5" fill="#fff" stroke="#333" stroke-width="1.3"/>
<rect x="358.3" y="376.1" width="29.4" height="6.3" fill="#00b050" stroke="#0c1f12" stroke-width="1.4"/>
<line x1="44.5" y1="372.3" x2="44.5" y2="385" stroke="#111" stroke-width="1.2"/>
<line x1="264.75" y1="372.3" x2="264.75" y2="385" stroke="#111" stroke-width="1.2"/>
<line x1="322.2" y1="372.3" x2="322.2" y2="385" stroke="#111" stroke-width="1.2"/>
<line x1="342.6" y1="372.3" x2="342.6" y2="385" stroke="#111" stroke-width="1.2"/>
<line x1="358.3" y1="372.3" x2="358.3" y2="385" stroke="#111" stroke-width="1.2"/>
<line x1="387.7" y1="372.3" x2="387.7" y2="385" stroke="#111" stroke-width="1.2"/>
<line x1="415.85" y1="372.3" x2="415.85" y2="385" stroke="#111" stroke-width="1.2"/>
<line x1="432.3" y1="372.3" x2="432.3" y2="385" stroke="#111" stroke-width="1.2"/>
<path d="M372.2,372.3V376.6M372.2,382V385" stroke="#111" stroke-width="1.2"/>
<text class="s" transform="translate(51.2,365.7) rotate(-90)" font-family="Liberation Serif" font-size="11.9" text-anchor="start" fill="#111"  >Lu2</text>
<text class="s" transform="translate(267.8,365.7) rotate(-90)" font-family="Liberation Serif" font-size="11.9" text-anchor="start" fill="#111"  >SNP 5</text>
<text class="s" transform="translate(326.70000000000005,365.7) rotate(-90)" font-family="Liberation Serif" font-size="11.9" text-anchor="start" fill="#111"  >SNP 9</text>
<text class="s" transform="translate(349.70000000000005,365.7) rotate(-90)" font-family="Liberation Serif" font-size="11.9" text-anchor="start" fill="#111"  >SNP 15</text>
<text class="s" transform="translate(364.3,365.7) rotate(-90)" font-family="Liberation Serif" font-size="11.9" text-anchor="start" fill="#111"  >SNP 19</text>
<text class="s" transform="translate(393.40000000000003,365.7) rotate(-90)" font-family="Liberation Serif" font-size="11.9" text-anchor="start" fill="#111"  >SNP 27</text>
<text class="s" transform="translate(421.1,365.7) rotate(-90)" font-family="Liberation Serif" font-size="11.9" text-anchor="start" fill="#111"  >SNP 30</text>
<text class="s" transform="translate(439.5,365.7) rotate(-90)" font-family="Liberation Serif" font-size="11.9" text-anchor="start" fill="#111"  >SNP 32</text>
<text class="s" transform="translate(376.6,365.7) rotate(-90)" font-family="Liberation Serif" font-size="11.9" text-anchor="start" fill="#111" font-style="italic" >obv</text>
<text class="s" transform="translate(51.7,386.0) rotate(-90)" font-family="Liberation Serif" font-size="11.9" text-anchor="end" fill="#111"  >0.0</text>
<text class="s" transform="translate(272.9,386.0) rotate(-90)" font-family="Liberation Serif" font-size="11.9" text-anchor="end" fill="#111"  >3.4</text>
<text class="s" transform="translate(327.09999999999997,386.0) rotate(-90)" font-family="Liberation Serif" font-size="11.9" text-anchor="end" fill="#111"  >6.8</text>
<text class="s" transform="translate(347.9,386.0) rotate(-90)" font-family="Liberation Serif" font-size="11.9" text-anchor="end" fill="#111"  >7.3</text>
<text class="s" transform="translate(362.7,386.0) rotate(-90)" font-family="Liberation Serif" font-size="11.9" text-anchor="end" fill="#111"  >7.7</text>
<text class="s" transform="translate(378.0,386.0) rotate(-90)" font-family="Liberation Serif" font-size="11.9" text-anchor="end" fill="#111"  >8.0</text>
<text class="s" transform="translate(393.5,386.0) rotate(-90)" font-family="Liberation Serif" font-size="11.9" text-anchor="end" fill="#111"  >8.4</text>
<text class="s" transform="translate(421.09999999999997,386.0) rotate(-90)" font-family="Liberation Serif" font-size="11.9" text-anchor="end" fill="#111"  >9.1</text>
<text class="s" transform="translate(439.9,386.0) rotate(-90)" font-family="Liberation Serif" font-size="11.9" text-anchor="end" fill="#111"  >9.5</text>
<text x="454.6" y="396.8" class="s" font-family="Liberation Serif" font-size="12.5" fill="#111">cM</text>
<rect x="44" y="454" width="401.5" height="5.95" fill="#fff" stroke="#3a3a3a" stroke-width="1.4"/>
<rect x="63.9" y="452.6" width="206.5" height="7.8" fill="#00b050" stroke="#0c1f12" stroke-width="1.5"/>
<line x1="44" y1="450.3" x2="44" y2="463.6" stroke="#222" stroke-width="1.3"/>
<line x1="63.9" y1="450.3" x2="63.9" y2="463.6" stroke="#222" stroke-width="1.3"/>
<line x1="270.4" y1="450.3" x2="270.4" y2="463.6" stroke="#222" stroke-width="1.3"/>
<line x1="317.6" y1="450.3" x2="317.6" y2="463.6" stroke="#222" stroke-width="1.3"/>
<line x1="445.5" y1="450.3" x2="445.5" y2="463.6" stroke="#222" stroke-width="1.3"/>
<path d="M105.5,449.8V454.2M105.5,459.5V463.5" stroke="#111" stroke-width="1.2"/>
<path d="M141.9,449.8V454.2M141.9,459.5V463.5" stroke="#111" stroke-width="1.2"/>
<text class="s" transform="translate(51.9,443.4) rotate(-90)" font-family="Liberation Serif" font-size="11.9" text-anchor="start" fill="#111"  >SNP 19</text>
<text class="s" transform="translate(78.2,443.4) rotate(-90)" font-family="Liberation Serif" font-size="11.9" text-anchor="start" fill="#111"  >SNP 20</text>
<text class="s" transform="translate(113.4,443.4) rotate(-90)" font-family="Liberation Serif" font-size="11.9" text-anchor="start" fill="#111"  >SNP 21</text>
<text class="s" transform="translate(148.5,443.4) rotate(-90)" font-family="Liberation Serif" font-size="11.9" text-anchor="start" fill="#111"  >SNP 22</text>
<text class="s" transform="translate(277.0,443.4) rotate(-90)" font-family="Liberation Serif" font-size="11.9" text-anchor="start" fill="#111"  >SNP 24</text>
<text class="s" transform="translate(323.09999999999997,443.4) rotate(-90)" font-family="Liberation Serif" font-size="11.9" text-anchor="start" fill="#111"  >SNP 26</text>
<text class="s" transform="translate(451.5,443.4) rotate(-90)" font-family="Liberation Serif" font-size="11.9" text-anchor="start" fill="#111"  >SNP 27</text>
<rect x="43.6" y="504.9" width="401.7" height="6.2" rx="1.8" fill="#fff" stroke="#333" stroke-width="1.3"/>
<rect x="56.7" y="504.9" width="59.1" height="6.2" fill="#00b050" stroke="#0c1f12" stroke-width="1.4"/>
<rect x="241.4" y="505.5" width="96.6" height="5" fill="#808080"/>
<rect x="371.1" y="505.5" width="73.6" height="5" fill="#808080"/>
<line x1="56.7" y1="504.9" x2="56.7" y2="511.1" stroke="#111" stroke-width="1.3"/>
<line x1="115.8" y1="504.9" x2="115.8" y2="511.1" stroke="#111" stroke-width="1.3"/>
<line x1="241.4" y1="504.9" x2="241.4" y2="511.1" stroke="#111" stroke-width="1.3"/>
<line x1="338" y1="504.9" x2="338" y2="511.1" stroke="#111" stroke-width="1.3"/>
<line x1="371.1" y1="504.9" x2="371.1" y2="511.1" stroke="#111" stroke-width="1.3"/>
<text x="51.4" y="500.6" class="s" font-family="Liberation Serif" font-style="italic" font-size="14" fill="#111">Solyc05g054030</text>
<line x1="60" y1="568" x2="369" y2="568" stroke="#2a2a2a" stroke-width="1.3"/>
<g filter="url(#sh)">
<rect x="43.3" y="565.8" width="17.6" height="5.9" fill="#000"/>
<rect x="129.2" y="565.8" width="20.4" height="5.9" fill="#000"/>
<rect x="225.2" y="565.8" width="34.3" height="5.9" fill="#000"/>
<rect x="368.1" y="565.8" width="79.0" height="5.9" fill="#000"/>
</g>
<text x="42.7" y="559.2" class="s" font-family="Liberation Serif" font-size="11.5" fill="#111">ATG</text>
<text x="231.2" y="551.7" class="s" font-family="Liberation Serif" font-size="11.5" fill="#111">G/A</text>
<text x="417.5" y="558.7" class="s" font-family="Liberation Serif" font-size="11.5" fill="#111">TGA</text>
<line x1="241.7" y1="552.8" x2="241.7" y2="556" stroke="#000" stroke-width="1.2"/>
<path d="M238.1,555.3 L245.3,555.3 L241.7,562.7 Z" fill="#000"/>
<line x1="297.8" y1="308.1" x2="51.4" y2="350.4" stroke="#151515" stroke-width="1.4" stroke-dasharray="4.8,3.4"/>
<line x1="411.2" y1="309.6" x2="427.8" y2="344.6" stroke="#151515" stroke-width="1.4" stroke-dasharray="4.8,3.4"/>
<line x1="356" y1="387.2" x2="52.6" y2="422.8" stroke="#151515" stroke-width="1.4" stroke-dasharray="4.8,3.4"/>
<line x1="391.6" y1="385.4" x2="442.2" y2="422.7" stroke="#151515" stroke-width="1.4" stroke-dasharray="4.8,3.4"/>
<line x1="63.9" y1="463.8" x2="44.6" y2="501" stroke="#151515" stroke-width="1.4" stroke-dasharray="4.8,3.4"/>
<line x1="270.7" y1="462.2" x2="443.6" y2="500.2" stroke="#151515" stroke-width="1.4" stroke-dasharray="4.8,3.4"/>
<line x1="56.9" y1="513.6" x2="47.4" y2="546.6" stroke="#151515" stroke-width="1.4" stroke-dasharray="4.8,3.4"/>
<line x1="116" y1="512" x2="426.3" y2="545.8" stroke="#151515" stroke-width="1.4" stroke-dasharray="4.8,3.4"/>
<line x1="550.6" y1="36.849999999999994" x2="550.6" y2="238.8" stroke="#000" stroke-width="1.9"/>
<line x1="541.6" y1="237.8" x2="683.6" y2="237.8" stroke="#000" stroke-width="1.9"/>
<line x1="542.2" y1="237.8" x2="550.6" y2="237.8" stroke="#000" stroke-width="1.9"/>
<text x="541.5" y="243.2" font-family="Liberation Serif" font-size="16" text-anchor="end" fill="#111" letter-spacing="-0.3">0.0</text>
<line x1="542.2" y1="187.8" x2="550.6" y2="187.8" stroke="#000" stroke-width="1.9"/>
<text x="541.5" y="193.2" font-family="Liberation Serif" font-size="16" text-anchor="end" fill="#111" letter-spacing="-0.3">0.5</text>
<line x1="542.2" y1="137.8" x2="550.6" y2="137.8" stroke="#000" stroke-width="1.9"/>
<text x="541.5" y="143.2" font-family="Liberation Serif" font-size="16" text-anchor="end" fill="#111" letter-spacing="-0.3">1.0</text>
<line x1="542.2" y1="87.8" x2="550.6" y2="87.8" stroke="#000" stroke-width="1.9"/>
<text x="541.5" y="93.2" font-family="Liberation Serif" font-size="16" text-anchor="end" fill="#111" letter-spacing="-0.3">1.5</text>
<line x1="542.2" y1="37.8" x2="550.6" y2="37.8" stroke="#000" stroke-width="1.9"/>
<text x="541.5" y="43.2" font-family="Liberation Serif" font-size="16" text-anchor="end" fill="#111" letter-spacing="-0.3">2.0</text>
<line x1="588.4" y1="237.8" x2="588.4" y2="245.8" stroke="#000" stroke-width="1.9"/>
<line x1="646" y1="237.8" x2="646" y2="245.8" stroke="#000" stroke-width="1.9"/>
<rect x="569.7" y="78.8" width="38.1" height="159.0" fill="#0000ff"/>
<line x1="588.75" y1="69.3" x2="588.75" y2="78.8" stroke="#555" stroke-width="1.6"/>
<line x1="578.95" y1="69.3" x2="598.55" y2="69.3" stroke="#555" stroke-width="1.6"/>
<rect x="627.2" y="137.8" width="37.8" height="100.0" fill="#f70505"/>
<line x1="646.1" y1="127.1" x2="646.1" y2="137.8" stroke="#555" stroke-width="1.6"/>
<line x1="636.3000000000001" y1="127.1" x2="655.9" y2="127.1" stroke="#555" stroke-width="1.6"/>
<text class="s" x="554.3" y="25.099999999999998" font-family="Liberation Serif" font-style="italic" font-size="16" fill="#111" textLength="107.3" lengthAdjust="spacingAndGlyphs">Solyc05g054030</text>
<text x="551.9" y="262.6" font-family="Liberation Serif" font-size="16.5" fill="#111" textLength="109" lengthAdjust="spacingAndGlyphs">IL5-4-5-44 M82</text>
<text x="589" y="69.6" font-family="Liberation Sans" font-weight="bold" font-size="15" text-anchor="middle" fill="#111" textLength="11.6" lengthAdjust="spacingAndGlyphs">**</text>
<text class="s" transform="translate(508.1,200.5) rotate(-90)" font-family="Liberation Serif" font-size="16" text-anchor="start" fill="#111"  textLength="125.4" lengthAdjust="spacingAndGlyphs">Relative expression</text>
<line x1="550.6" y1="336.85" x2="550.6" y2="539.8" stroke="#000" stroke-width="1.9"/>
<line x1="541.6" y1="538.8" x2="683.6" y2="538.8" stroke="#000" stroke-width="1.9"/>
<line x1="542.2" y1="538.8" x2="550.6" y2="538.8" stroke="#000" stroke-width="1.9"/>
<text x="541.5" y="544.2" font-family="Liberation Serif" font-size="16" text-anchor="end" fill="#111" letter-spacing="-0.3">0.0</text>
<line x1="542.2" y1="471.8" x2="550.6" y2="471.8" stroke="#000" stroke-width="1.9"/>
<text x="541.5" y="477.2" font-family="Liberation Serif" font-size="16" text-anchor="end" fill="#111" letter-spacing="-0.3">0.5</text>
<line x1="542.2" y1="404.8" x2="550.6" y2="404.8" stroke="#000" stroke-width="1.9"/>
<text x="541.5" y="410.2" font-family="Liberation Serif" font-size="16" text-anchor="end" fill="#111" letter-spacing="-0.3">1.0</text>
<line x1="542.2" y1="337.8" x2="550.6" y2="337.8" stroke="#000" stroke-width="1.9"/>
<text x="541.5" y="343.2" font-family="Liberation Serif" font-size="16" text-anchor="end" fill="#111" letter-spacing="-0.3">1.5</text>
<line x1="588.4" y1="538.8" x2="588.4" y2="546.8" stroke="#000" stroke-width="1.9"/>
<line x1="646" y1="538.8" x2="646" y2="546.8" stroke="#000" stroke-width="1.9"/>
<rect x="569.5" y="408.1" width="38.1" height="130.6" fill="#0000ff"/>
<line x1="588.55" y1="385.6" x2="588.55" y2="408.1" stroke="#222" stroke-width="1.2"/>
<line x1="578.75" y1="385.6" x2="598.3499999999999" y2="385.6" stroke="#222" stroke-width="1.2"/>
<rect x="627" y="399.7" width="38" height="139.1" fill="#f70505"/>
<line x1="646.0" y1="385.6" x2="646.0" y2="399.7" stroke="#222" stroke-width="1.2"/>
<line x1="636.2" y1="385.6" x2="655.8" y2="385.6" stroke="#222" stroke-width="1.2"/>
<text class="s" x="554.3" y="325.40000000000003" font-family="Liberation Serif" font-style="italic" font-size="16" fill="#111" textLength="107.3" lengthAdjust="spacingAndGlyphs">Solyc05g054040</text>
<text x="551.9" y="563.5999999999999" font-family="Liberation Serif" font-size="16.5" fill="#111" textLength="109" lengthAdjust="spacingAndGlyphs">IL5-4-5-44 M82</text>
<text class="s" transform="translate(508.1,500.5) rotate(-90)" font-family="Liberation Serif" font-size="16" text-anchor="start" fill="#111"  textLength="125.4" lengthAdjust="spacingAndGlyphs">Relative expression</text>
</svg></body></html>
